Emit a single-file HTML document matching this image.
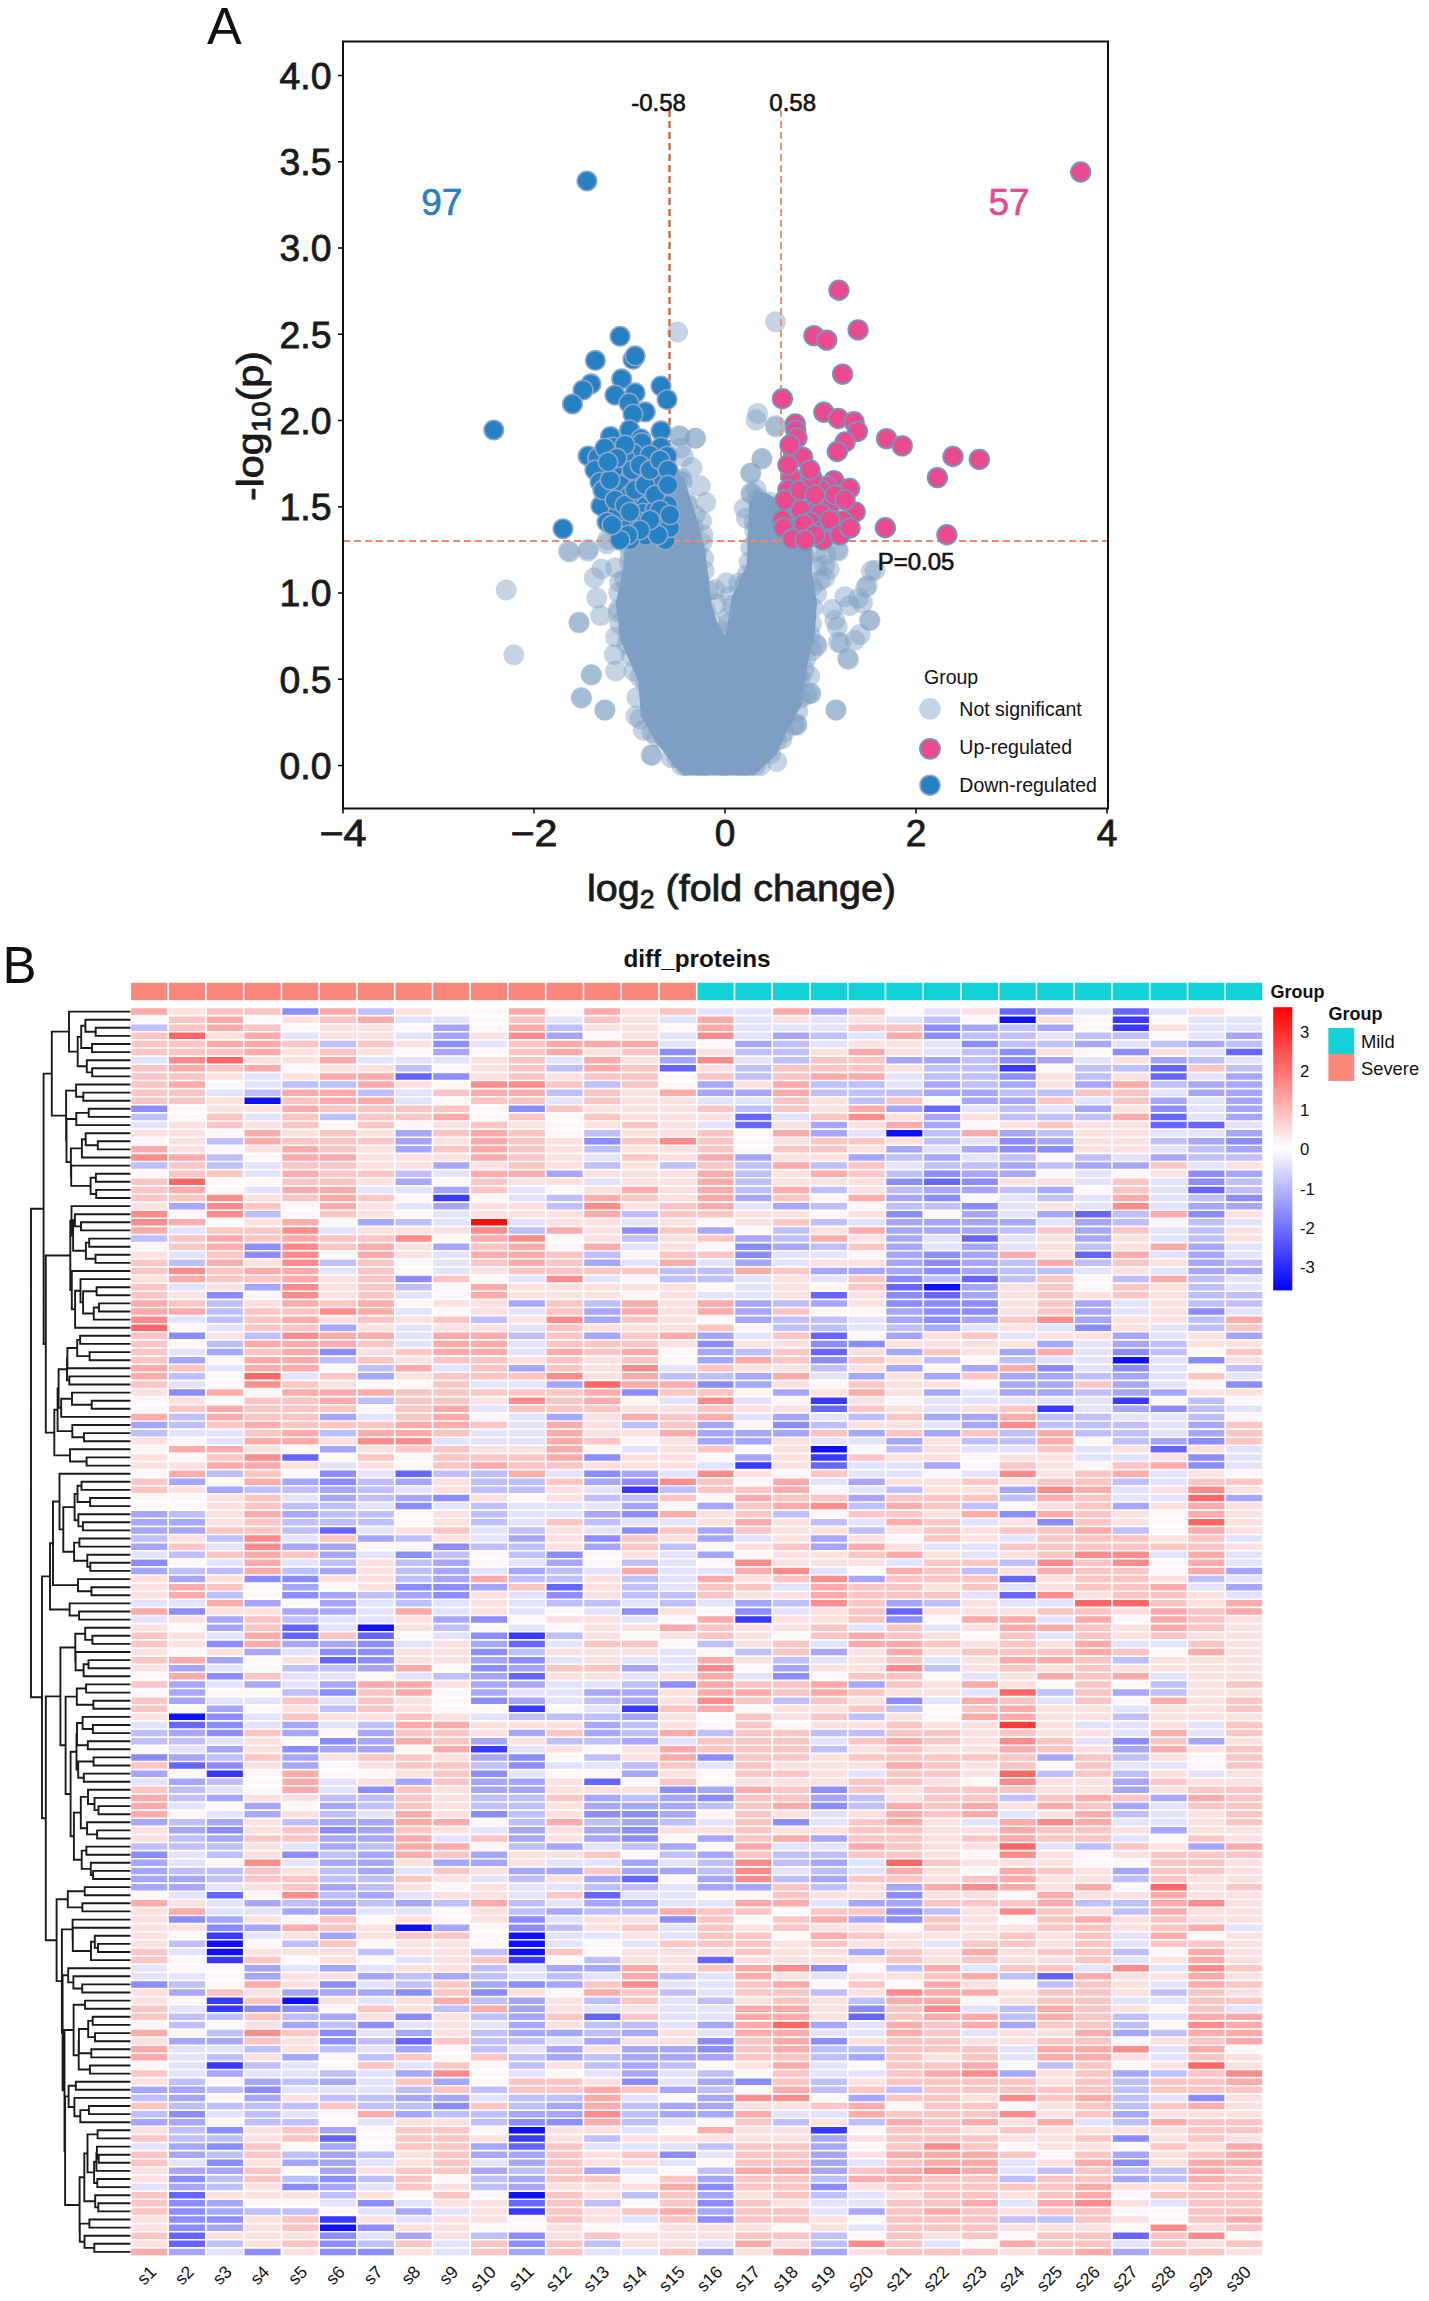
<!DOCTYPE html>
<html><head><meta charset="utf-8"><title>figure</title>
<style>html,body{margin:0;padding:0;background:#fff;}svg{display:block;}text{font-family:"Liberation Sans",sans-serif;}</style>
</head><body>
<svg width="1429" height="2301" viewBox="0 0 1429 2301">
<rect width="1429" height="2301" fill="#fff"/>
<g><polygon points="625.7,540.0 623.0,570.0 615.6,603.0 620.6,641.0 638.3,681.0 640.8,716.0 655.9,742.0 671.0,762.0 683.6,775.6 754.2,775.6 776.8,754.0 786.9,731.5 802.0,704.0 807.0,666.0 814.6,636.0 817.0,603.0 812.0,573.0 812.0,545.0 800.0,520.0 785.0,505.0 770.0,495.0 756.0,490.0 749.0,504.0 746.6,565.0 731.5,598.0 727.7,623.0 725.0,636.0 716.4,620.6 711.3,603.0 708.8,578.0 703.8,545.0 698.0,522.0 691.0,500.0 684.0,478.0 674.0,472.0 669.0,480.0 660.0,520.0 640.0,538.0" fill="#7f9fc3"/><circle cx="633.7" cy="545.3" r="10.5" fill="#7f9fc3" fill-opacity="0.45"/><circle cx="630.1" cy="555.2" r="10.5" fill="#7f9fc3" fill-opacity="0.45"/><circle cx="629.7" cy="562.4" r="10.5" fill="#7f9fc3" fill-opacity="0.45"/><circle cx="624.4" cy="579.5" r="10.5" fill="#7f9fc3" fill-opacity="0.45"/><circle cx="619.5" cy="581.8" r="10.5" fill="#7f9fc3" fill-opacity="0.45"/><circle cx="618.7" cy="592.6" r="10.5" fill="#7f9fc3" fill-opacity="0.45"/><circle cx="618.7" cy="608.9" r="10.5" fill="#7f9fc3" fill-opacity="0.45"/><circle cx="618.3" cy="612.4" r="10.5" fill="#7f9fc3" fill-opacity="0.45"/><circle cx="619.6" cy="623.6" r="10.5" fill="#7f9fc3" fill-opacity="0.45"/><circle cx="627.6" cy="634.9" r="10.5" fill="#7f9fc3" fill-opacity="0.45"/><circle cx="627.5" cy="644.2" r="10.5" fill="#7f9fc3" fill-opacity="0.45"/><circle cx="630.9" cy="656.3" r="10.5" fill="#7f9fc3" fill-opacity="0.45"/><circle cx="633.9" cy="671.0" r="10.5" fill="#7f9fc3" fill-opacity="0.45"/><circle cx="639.6" cy="676.9" r="10.5" fill="#7f9fc3" fill-opacity="0.45"/><circle cx="645.7" cy="683.9" r="10.5" fill="#7f9fc3" fill-opacity="0.45"/><circle cx="636.8" cy="697.5" r="10.5" fill="#7f9fc3" fill-opacity="0.45"/><circle cx="635.8" cy="715.9" r="10.5" fill="#7f9fc3" fill-opacity="0.45"/><circle cx="640.0" cy="718.9" r="10.5" fill="#7f9fc3" fill-opacity="0.45"/><circle cx="652.1" cy="732.4" r="10.5" fill="#7f9fc3" fill-opacity="0.45"/><circle cx="656.8" cy="737.2" r="10.5" fill="#7f9fc3" fill-opacity="0.45"/><circle cx="663.5" cy="737.6" r="10.5" fill="#7f9fc3" fill-opacity="0.45"/><circle cx="671.5" cy="757.8" r="10.5" fill="#7f9fc3" fill-opacity="0.45"/><circle cx="677.0" cy="757.7" r="10.5" fill="#7f9fc3" fill-opacity="0.45"/><circle cx="681.8" cy="765.5" r="10.5" fill="#7f9fc3" fill-opacity="0.45"/><circle cx="685.5" cy="765.5" r="10.5" fill="#7f9fc3" fill-opacity="0.45"/><circle cx="700.2" cy="765.5" r="10.5" fill="#7f9fc3" fill-opacity="0.45"/><circle cx="705.9" cy="765.5" r="10.5" fill="#7f9fc3" fill-opacity="0.45"/><circle cx="722.0" cy="765.5" r="10.5" fill="#7f9fc3" fill-opacity="0.45"/><circle cx="726.1" cy="765.5" r="10.5" fill="#7f9fc3" fill-opacity="0.45"/><circle cx="740.5" cy="765.5" r="10.5" fill="#7f9fc3" fill-opacity="0.45"/><circle cx="746.3" cy="765.5" r="10.5" fill="#7f9fc3" fill-opacity="0.45"/><circle cx="755.6" cy="765.5" r="10.5" fill="#7f9fc3" fill-opacity="0.45"/><circle cx="760.4" cy="765.5" r="10.5" fill="#7f9fc3" fill-opacity="0.45"/><circle cx="770.6" cy="753.5" r="10.5" fill="#7f9fc3" fill-opacity="0.45"/><circle cx="776.5" cy="740.9" r="10.5" fill="#7f9fc3" fill-opacity="0.45"/><circle cx="784.2" cy="732.1" r="10.5" fill="#7f9fc3" fill-opacity="0.45"/><circle cx="794.5" cy="724.9" r="10.5" fill="#7f9fc3" fill-opacity="0.45"/><circle cx="785.4" cy="716.5" r="10.5" fill="#7f9fc3" fill-opacity="0.45"/><circle cx="797.7" cy="711.2" r="10.5" fill="#7f9fc3" fill-opacity="0.45"/><circle cx="800.9" cy="698.0" r="10.5" fill="#7f9fc3" fill-opacity="0.45"/><circle cx="806.8" cy="694.6" r="10.5" fill="#7f9fc3" fill-opacity="0.45"/><circle cx="797.9" cy="677.3" r="10.5" fill="#7f9fc3" fill-opacity="0.45"/><circle cx="804.1" cy="669.5" r="10.5" fill="#7f9fc3" fill-opacity="0.45"/><circle cx="806.1" cy="658.1" r="10.5" fill="#7f9fc3" fill-opacity="0.45"/><circle cx="812.2" cy="650.7" r="10.5" fill="#7f9fc3" fill-opacity="0.45"/><circle cx="816.4" cy="644.1" r="10.5" fill="#7f9fc3" fill-opacity="0.45"/><circle cx="810.1" cy="635.5" r="10.5" fill="#7f9fc3" fill-opacity="0.45"/><circle cx="811.5" cy="624.0" r="10.5" fill="#7f9fc3" fill-opacity="0.45"/><circle cx="812.8" cy="607.4" r="10.5" fill="#7f9fc3" fill-opacity="0.45"/><circle cx="816.6" cy="593.9" r="10.5" fill="#7f9fc3" fill-opacity="0.45"/><circle cx="812.1" cy="586.4" r="10.5" fill="#7f9fc3" fill-opacity="0.45"/><circle cx="805.4" cy="584.0" r="10.5" fill="#7f9fc3" fill-opacity="0.45"/><circle cx="816.9" cy="566.5" r="10.5" fill="#7f9fc3" fill-opacity="0.45"/><circle cx="805.2" cy="557.7" r="10.5" fill="#7f9fc3" fill-opacity="0.45"/><circle cx="816.5" cy="551.4" r="10.5" fill="#7f9fc3" fill-opacity="0.45"/><circle cx="802.4" cy="544.0" r="10.5" fill="#7f9fc3" fill-opacity="0.45"/><circle cx="798.4" cy="533.7" r="10.5" fill="#7f9fc3" fill-opacity="0.45"/><circle cx="794.5" cy="523.5" r="10.5" fill="#7f9fc3" fill-opacity="0.45"/><circle cx="795.0" cy="511.5" r="10.5" fill="#7f9fc3" fill-opacity="0.45"/><circle cx="787.7" cy="505.5" r="10.5" fill="#7f9fc3" fill-opacity="0.45"/><circle cx="777.2" cy="506.6" r="10.5" fill="#7f9fc3" fill-opacity="0.45"/><circle cx="769.5" cy="502.0" r="10.5" fill="#7f9fc3" fill-opacity="0.45"/><circle cx="756.3" cy="489.4" r="10.5" fill="#7f9fc3" fill-opacity="0.45"/><circle cx="758.3" cy="498.0" r="10.5" fill="#7f9fc3" fill-opacity="0.45"/><circle cx="744.3" cy="508.3" r="10.5" fill="#7f9fc3" fill-opacity="0.45"/><circle cx="754.1" cy="522.0" r="10.5" fill="#7f9fc3" fill-opacity="0.45"/><circle cx="754.6" cy="529.5" r="10.5" fill="#7f9fc3" fill-opacity="0.45"/><circle cx="756.0" cy="539.9" r="10.5" fill="#7f9fc3" fill-opacity="0.45"/><circle cx="750.7" cy="547.4" r="10.5" fill="#7f9fc3" fill-opacity="0.45"/><circle cx="749.1" cy="561.8" r="10.5" fill="#7f9fc3" fill-opacity="0.45"/><circle cx="747.3" cy="574.4" r="10.5" fill="#7f9fc3" fill-opacity="0.45"/><circle cx="745.2" cy="583.2" r="10.5" fill="#7f9fc3" fill-opacity="0.45"/><circle cx="745.1" cy="586.2" r="10.5" fill="#7f9fc3" fill-opacity="0.45"/><circle cx="729.4" cy="596.2" r="10.5" fill="#7f9fc3" fill-opacity="0.45"/><circle cx="732.5" cy="605.6" r="10.5" fill="#7f9fc3" fill-opacity="0.45"/><circle cx="728.7" cy="616.7" r="10.5" fill="#7f9fc3" fill-opacity="0.45"/><circle cx="722.5" cy="631.6" r="10.5" fill="#7f9fc3" fill-opacity="0.45"/><circle cx="720.8" cy="635.0" r="10.5" fill="#7f9fc3" fill-opacity="0.45"/><circle cx="710.1" cy="620.4" r="10.5" fill="#7f9fc3" fill-opacity="0.45"/><circle cx="705.2" cy="609.6" r="10.5" fill="#7f9fc3" fill-opacity="0.45"/><circle cx="708.5" cy="590.9" r="10.5" fill="#7f9fc3" fill-opacity="0.45"/><circle cx="714.7" cy="589.6" r="10.5" fill="#7f9fc3" fill-opacity="0.45"/><circle cx="704.2" cy="570.7" r="10.5" fill="#7f9fc3" fill-opacity="0.45"/><circle cx="703.8" cy="558.6" r="10.5" fill="#7f9fc3" fill-opacity="0.45"/><circle cx="697.2" cy="552.1" r="10.5" fill="#7f9fc3" fill-opacity="0.45"/><circle cx="701.8" cy="542.6" r="10.5" fill="#7f9fc3" fill-opacity="0.45"/><circle cx="693.2" cy="527.7" r="10.5" fill="#7f9fc3" fill-opacity="0.45"/><circle cx="695.0" cy="515.0" r="10.5" fill="#7f9fc3" fill-opacity="0.45"/><circle cx="687.5" cy="504.9" r="10.5" fill="#7f9fc3" fill-opacity="0.45"/><circle cx="685.8" cy="499.5" r="10.5" fill="#7f9fc3" fill-opacity="0.45"/><circle cx="682.0" cy="482.1" r="10.5" fill="#7f9fc3" fill-opacity="0.45"/><circle cx="677.9" cy="480.4" r="10.5" fill="#7f9fc3" fill-opacity="0.45"/><circle cx="674.4" cy="479.1" r="10.5" fill="#7f9fc3" fill-opacity="0.45"/><circle cx="662.9" cy="486.9" r="10.5" fill="#7f9fc3" fill-opacity="0.45"/><circle cx="666.6" cy="499.8" r="10.5" fill="#7f9fc3" fill-opacity="0.45"/><circle cx="671.6" cy="506.4" r="10.5" fill="#7f9fc3" fill-opacity="0.45"/><circle cx="669.2" cy="515.5" r="10.5" fill="#7f9fc3" fill-opacity="0.45"/><circle cx="650.5" cy="525.5" r="10.5" fill="#7f9fc3" fill-opacity="0.45"/><circle cx="648.0" cy="539.9" r="10.5" fill="#7f9fc3" fill-opacity="0.45"/><circle cx="629.2" cy="546.3" r="10.5" fill="#7f9fc3" fill-opacity="0.45"/><circle cx="677.6" cy="332.0" r="10.5" fill="#7f9fc3" fill-opacity="0.45"/><circle cx="775.5" cy="321.8" r="10.5" fill="#7f9fc3" fill-opacity="0.45"/><circle cx="757.7" cy="413.5" r="10.5" fill="#7f9fc3" fill-opacity="0.45"/><circle cx="775.5" cy="425.5" r="10.5" fill="#7f9fc3" fill-opacity="0.45"/><circle cx="694.7" cy="438.3" r="10.5" fill="#7f9fc3" fill-opacity="0.45"/><circle cx="680.0" cy="436.5" r="10.5" fill="#7f9fc3" fill-opacity="0.45"/><circle cx="762.0" cy="458.3" r="10.5" fill="#7f9fc3" fill-opacity="0.45"/><circle cx="751.0" cy="472.9" r="10.5" fill="#7f9fc3" fill-opacity="0.45"/><circle cx="751.0" cy="492.9" r="10.5" fill="#7f9fc3" fill-opacity="0.45"/><circle cx="506.2" cy="590.0" r="10.5" fill="#7f9fc3" fill-opacity="0.45"/><circle cx="513.8" cy="654.8" r="10.5" fill="#7f9fc3" fill-opacity="0.45"/><circle cx="568.4" cy="551.0" r="10.5" fill="#7f9fc3" fill-opacity="0.45"/><circle cx="588.4" cy="549.3" r="10.5" fill="#7f9fc3" fill-opacity="0.45"/><circle cx="607.4" cy="540.0" r="10.5" fill="#7f9fc3" fill-opacity="0.45"/><circle cx="579.0" cy="622.0" r="10.5" fill="#7f9fc3" fill-opacity="0.45"/><circle cx="591.0" cy="674.8" r="10.5" fill="#7f9fc3" fill-opacity="0.45"/><circle cx="581.2" cy="697.4" r="10.5" fill="#7f9fc3" fill-opacity="0.45"/><circle cx="604.8" cy="710.0" r="10.5" fill="#7f9fc3" fill-opacity="0.45"/><circle cx="835.9" cy="710.0" r="10.5" fill="#7f9fc3" fill-opacity="0.45"/><circle cx="871.2" cy="571.1" r="10.5" fill="#7f9fc3" fill-opacity="0.45"/><circle cx="865.7" cy="587.5" r="10.5" fill="#7f9fc3" fill-opacity="0.45"/><circle cx="858.5" cy="598.4" r="10.5" fill="#7f9fc3" fill-opacity="0.45"/><circle cx="869.4" cy="620.2" r="10.5" fill="#7f9fc3" fill-opacity="0.45"/><circle cx="849.4" cy="605.7" r="10.5" fill="#7f9fc3" fill-opacity="0.45"/><circle cx="854.8" cy="640.2" r="10.5" fill="#7f9fc3" fill-opacity="0.45"/><circle cx="847.5" cy="658.4" r="10.5" fill="#7f9fc3" fill-opacity="0.45"/><circle cx="838.4" cy="642.0" r="10.5" fill="#7f9fc3" fill-opacity="0.45"/><circle cx="834.8" cy="620.2" r="10.5" fill="#7f9fc3" fill-opacity="0.45"/><circle cx="829.3" cy="569.3" r="10.5" fill="#7f9fc3" fill-opacity="0.45"/><circle cx="820.2" cy="580.2" r="10.5" fill="#7f9fc3" fill-opacity="0.45"/><circle cx="838.4" cy="551.0" r="10.5" fill="#7f9fc3" fill-opacity="0.45"/><circle cx="825.7" cy="554.7" r="10.5" fill="#7f9fc3" fill-opacity="0.45"/><circle cx="651.0" cy="754.9" r="10.5" fill="#7f9fc3" fill-opacity="0.45"/><circle cx="796.6" cy="723.9" r="10.5" fill="#7f9fc3" fill-opacity="0.45"/><circle cx="800.2" cy="678.5" r="10.5" fill="#7f9fc3" fill-opacity="0.45"/><circle cx="810.4" cy="693.0" r="10.5" fill="#7f9fc3" fill-opacity="0.45"/><circle cx="569.7" cy="552.0" r="10.5" fill="#7f9fc3" fill-opacity="0.45"/><circle cx="587.9" cy="551.3" r="10.5" fill="#7f9fc3" fill-opacity="0.45"/><circle cx="606.8" cy="543.8" r="10.5" fill="#7f9fc3" fill-opacity="0.45"/><circle cx="594.2" cy="577.8" r="10.5" fill="#7f9fc3" fill-opacity="0.45"/><circle cx="601.7" cy="569.0" r="10.5" fill="#7f9fc3" fill-opacity="0.45"/><circle cx="615.6" cy="567.7" r="10.5" fill="#7f9fc3" fill-opacity="0.45"/><circle cx="596.7" cy="598.0" r="10.5" fill="#7f9fc3" fill-opacity="0.45"/><circle cx="600.5" cy="615.6" r="10.5" fill="#7f9fc3" fill-opacity="0.45"/><circle cx="579.0" cy="623.1" r="10.5" fill="#7f9fc3" fill-opacity="0.45"/><circle cx="615.6" cy="637.0" r="10.5" fill="#7f9fc3" fill-opacity="0.45"/><circle cx="614.3" cy="654.6" r="10.5" fill="#7f9fc3" fill-opacity="0.45"/><circle cx="615.6" cy="671.0" r="10.5" fill="#7f9fc3" fill-opacity="0.45"/><circle cx="591.7" cy="674.8" r="10.5" fill="#7f9fc3" fill-opacity="0.45"/><circle cx="581.6" cy="698.2" r="10.5" fill="#7f9fc3" fill-opacity="0.45"/><circle cx="605.0" cy="710.0" r="10.5" fill="#7f9fc3" fill-opacity="0.45"/><circle cx="643.3" cy="730.2" r="10.5" fill="#7f9fc3" fill-opacity="0.45"/><circle cx="652.1" cy="755.4" r="10.5" fill="#7f9fc3" fill-opacity="0.45"/><circle cx="726.4" cy="582.8" r="10.5" fill="#7f9fc3" fill-opacity="0.45"/><circle cx="739.0" cy="582.8" r="10.5" fill="#7f9fc3" fill-opacity="0.45"/><circle cx="716.4" cy="604.0" r="10.5" fill="#7f9fc3" fill-opacity="0.45"/><circle cx="729.0" cy="623.0" r="10.5" fill="#7f9fc3" fill-opacity="0.45"/><circle cx="824.7" cy="565.2" r="10.5" fill="#7f9fc3" fill-opacity="0.45"/><circle cx="837.3" cy="550.0" r="10.5" fill="#7f9fc3" fill-opacity="0.45"/><circle cx="824.7" cy="577.8" r="10.5" fill="#7f9fc3" fill-opacity="0.45"/><circle cx="844.9" cy="596.7" r="10.5" fill="#7f9fc3" fill-opacity="0.45"/><circle cx="862.5" cy="603.0" r="10.5" fill="#7f9fc3" fill-opacity="0.45"/><circle cx="867.5" cy="585.4" r="10.5" fill="#7f9fc3" fill-opacity="0.45"/><circle cx="875.1" cy="570.2" r="10.5" fill="#7f9fc3" fill-opacity="0.45"/><circle cx="870.0" cy="620.6" r="10.5" fill="#7f9fc3" fill-opacity="0.45"/><circle cx="860.0" cy="634.5" r="10.5" fill="#7f9fc3" fill-opacity="0.45"/><circle cx="837.3" cy="627.0" r="10.5" fill="#7f9fc3" fill-opacity="0.45"/><circle cx="841.0" cy="643.3" r="10.5" fill="#7f9fc3" fill-opacity="0.45"/><circle cx="848.6" cy="659.7" r="10.5" fill="#7f9fc3" fill-opacity="0.45"/><circle cx="832.3" cy="609.3" r="10.5" fill="#7f9fc3" fill-opacity="0.45"/><circle cx="836.0" cy="710.0" r="10.5" fill="#7f9fc3" fill-opacity="0.45"/><circle cx="810.8" cy="693.7" r="10.5" fill="#7f9fc3" fill-opacity="0.45"/><circle cx="797.0" cy="725.2" r="10.5" fill="#7f9fc3" fill-opacity="0.45"/><circle cx="781.9" cy="739.0" r="10.5" fill="#7f9fc3" fill-opacity="0.45"/><circle cx="776.8" cy="761.7" r="10.5" fill="#7f9fc3" fill-opacity="0.45"/><circle cx="817.1" cy="645.8" r="10.5" fill="#7f9fc3" fill-opacity="0.45"/><circle cx="809.6" cy="676.0" r="10.5" fill="#7f9fc3" fill-opacity="0.45"/><circle cx="761.8" cy="459.2" r="10.5" fill="#7f9fc3" fill-opacity="0.45"/><circle cx="750.6" cy="473.2" r="10.5" fill="#7f9fc3" fill-opacity="0.45"/><circle cx="751.3" cy="494.2" r="10.5" fill="#7f9fc3" fill-opacity="0.45"/><circle cx="763.2" cy="506.8" r="10.5" fill="#7f9fc3" fill-opacity="0.45"/><circle cx="746.4" cy="518.0" r="10.5" fill="#7f9fc3" fill-opacity="0.45"/><circle cx="775.8" cy="427.0" r="10.5" fill="#7f9fc3" fill-opacity="0.45"/><circle cx="756.0" cy="420.0" r="10.5" fill="#7f9fc3" fill-opacity="0.45"/><circle cx="696.0" cy="438.2" r="10.5" fill="#7f9fc3" fill-opacity="0.45"/><circle cx="679.2" cy="435.4" r="10.5" fill="#7f9fc3" fill-opacity="0.45"/><circle cx="680.6" cy="448.0" r="10.5" fill="#7f9fc3" fill-opacity="0.45"/><circle cx="683.4" cy="456.4" r="10.5" fill="#7f9fc3" fill-opacity="0.45"/><circle cx="691.8" cy="467.6" r="10.5" fill="#7f9fc3" fill-opacity="0.45"/><circle cx="700.2" cy="485.8" r="10.5" fill="#7f9fc3" fill-opacity="0.45"/><circle cx="705.8" cy="502.6" r="10.5" fill="#7f9fc3" fill-opacity="0.45"/><circle cx="701.6" cy="520.8" r="10.5" fill="#7f9fc3" fill-opacity="0.45"/><circle cx="703.0" cy="534.8" r="10.5" fill="#7f9fc3" fill-opacity="0.45"/><circle cx="682.0" cy="478.8" r="10.5" fill="#7f9fc3" fill-opacity="0.45"/><line x1="343.0" y1="541.1" x2="1108.0" y2="541.1" stroke="#ee8866" stroke-width="2" stroke-dasharray="7,4"/><line x1="669.5" y1="110" x2="669.5" y2="541.1" stroke="#e0552f" stroke-width="2.2" stroke-dasharray="7,4"/><line x1="781" y1="110" x2="781" y2="541.1" stroke="#f09068" stroke-width="2" stroke-dasharray="7,4"/><circle cx="620.1" cy="336.3" r="9.8" fill="#2680c4" stroke="#8ea6c8" stroke-width="1.6"/><circle cx="595.4" cy="360.4" r="9.8" fill="#2680c4" stroke="#8ea6c8" stroke-width="1.6"/><circle cx="633.0" cy="359.3" r="9.8" fill="#2680c4" stroke="#8ea6c8" stroke-width="1.6"/><circle cx="635.2" cy="355.9" r="9.8" fill="#2680c4" stroke="#8ea6c8" stroke-width="1.6"/><circle cx="591.0" cy="383.9" r="9.8" fill="#2680c4" stroke="#8ea6c8" stroke-width="1.6"/><circle cx="583.1" cy="390.0" r="9.8" fill="#2680c4" stroke="#8ea6c8" stroke-width="1.6"/><circle cx="572.5" cy="404.0" r="9.8" fill="#2680c4" stroke="#8ea6c8" stroke-width="1.6"/><circle cx="621.7" cy="378.9" r="9.8" fill="#2680c4" stroke="#8ea6c8" stroke-width="1.6"/><circle cx="615.0" cy="395.1" r="9.8" fill="#2680c4" stroke="#8ea6c8" stroke-width="1.6"/><circle cx="635.2" cy="392.9" r="9.8" fill="#2680c4" stroke="#8ea6c8" stroke-width="1.6"/><circle cx="629.0" cy="403.0" r="9.8" fill="#2680c4" stroke="#8ea6c8" stroke-width="1.6"/><circle cx="645.3" cy="411.9" r="9.8" fill="#2680c4" stroke="#8ea6c8" stroke-width="1.6"/><circle cx="633.0" cy="414.1" r="9.8" fill="#2680c4" stroke="#8ea6c8" stroke-width="1.6"/><circle cx="661.0" cy="386.1" r="9.8" fill="#2680c4" stroke="#8ea6c8" stroke-width="1.6"/><circle cx="667.1" cy="399.6" r="9.8" fill="#2680c4" stroke="#8ea6c8" stroke-width="1.6"/><circle cx="629.6" cy="429.8" r="9.8" fill="#2680c4" stroke="#8ea6c8" stroke-width="1.6"/><circle cx="661.0" cy="430.9" r="9.8" fill="#2680c4" stroke="#8ea6c8" stroke-width="1.6"/><circle cx="610.5" cy="436.5" r="9.8" fill="#2680c4" stroke="#8ea6c8" stroke-width="1.6"/><circle cx="640.8" cy="438.8" r="9.8" fill="#2680c4" stroke="#8ea6c8" stroke-width="1.6"/><circle cx="612.8" cy="447.0" r="9.8" fill="#2680c4" stroke="#8ea6c8" stroke-width="1.6"/><circle cx="641.9" cy="442.6" r="9.8" fill="#2680c4" stroke="#8ea6c8" stroke-width="1.6"/><circle cx="633.0" cy="453.2" r="9.8" fill="#2680c4" stroke="#8ea6c8" stroke-width="1.6"/><circle cx="661.0" cy="447.0" r="9.8" fill="#2680c4" stroke="#8ea6c8" stroke-width="1.6"/><circle cx="667.1" cy="456.0" r="9.8" fill="#2680c4" stroke="#8ea6c8" stroke-width="1.6"/><circle cx="588.2" cy="456.0" r="9.8" fill="#2680c4" stroke="#8ea6c8" stroke-width="1.6"/><circle cx="597.7" cy="457.7" r="9.8" fill="#2680c4" stroke="#8ea6c8" stroke-width="1.6"/><circle cx="613.9" cy="468.3" r="9.8" fill="#2680c4" stroke="#8ea6c8" stroke-width="1.6"/><circle cx="620.6" cy="466.6" r="9.8" fill="#2680c4" stroke="#8ea6c8" stroke-width="1.6"/><circle cx="655.3" cy="466.0" r="9.8" fill="#2680c4" stroke="#8ea6c8" stroke-width="1.6"/><circle cx="663.2" cy="472.8" r="9.8" fill="#2680c4" stroke="#8ea6c8" stroke-width="1.6"/><circle cx="628.5" cy="480.6" r="9.8" fill="#2680c4" stroke="#8ea6c8" stroke-width="1.6"/><circle cx="648.6" cy="478.4" r="9.8" fill="#2680c4" stroke="#8ea6c8" stroke-width="1.6"/><circle cx="620.6" cy="485.1" r="9.8" fill="#2680c4" stroke="#8ea6c8" stroke-width="1.6"/><circle cx="605.0" cy="496.3" r="9.8" fill="#2680c4" stroke="#8ea6c8" stroke-width="1.6"/><circle cx="611.7" cy="504.7" r="9.8" fill="#2680c4" stroke="#8ea6c8" stroke-width="1.6"/><circle cx="601.0" cy="505.8" r="9.8" fill="#2680c4" stroke="#8ea6c8" stroke-width="1.6"/><circle cx="640.8" cy="497.4" r="9.8" fill="#2680c4" stroke="#8ea6c8" stroke-width="1.6"/><circle cx="642.5" cy="503.0" r="9.8" fill="#2680c4" stroke="#8ea6c8" stroke-width="1.6"/><circle cx="662.0" cy="497.4" r="9.8" fill="#2680c4" stroke="#8ea6c8" stroke-width="1.6"/><circle cx="667.7" cy="505.3" r="9.8" fill="#2680c4" stroke="#8ea6c8" stroke-width="1.6"/><circle cx="643.0" cy="513.1" r="9.8" fill="#2680c4" stroke="#8ea6c8" stroke-width="1.6"/><circle cx="622.9" cy="519.8" r="9.8" fill="#2680c4" stroke="#8ea6c8" stroke-width="1.6"/><circle cx="626.2" cy="526.5" r="9.8" fill="#2680c4" stroke="#8ea6c8" stroke-width="1.6"/><circle cx="636.3" cy="533.3" r="9.8" fill="#2680c4" stroke="#8ea6c8" stroke-width="1.6"/><circle cx="653.1" cy="531.6" r="9.8" fill="#2680c4" stroke="#8ea6c8" stroke-width="1.6"/><circle cx="665.4" cy="521.0" r="9.8" fill="#2680c4" stroke="#8ea6c8" stroke-width="1.6"/><circle cx="645.3" cy="535.5" r="9.8" fill="#2680c4" stroke="#8ea6c8" stroke-width="1.6"/><circle cx="665.4" cy="540.0" r="9.8" fill="#2680c4" stroke="#8ea6c8" stroke-width="1.6"/><circle cx="563.0" cy="528.8" r="9.8" fill="#2680c4" stroke="#8ea6c8" stroke-width="1.6"/><circle cx="669.9" cy="527.7" r="9.8" fill="#2680c4" stroke="#8ea6c8" stroke-width="1.6"/><circle cx="587.0" cy="181.0" r="9.8" fill="#2680c4" stroke="#8ea6c8" stroke-width="1.6"/><circle cx="493.8" cy="430.0" r="9.8" fill="#2680c4" stroke="#8ea6c8" stroke-width="1.6"/><circle cx="650.0" cy="490.0" r="9.8" fill="#2680c4" stroke="#8ea6c8" stroke-width="1.6"/><circle cx="655.0" cy="510.0" r="9.8" fill="#2680c4" stroke="#8ea6c8" stroke-width="1.6"/><circle cx="630.0" cy="495.0" r="9.8" fill="#2680c4" stroke="#8ea6c8" stroke-width="1.6"/><circle cx="618.0" cy="512.0" r="9.8" fill="#2680c4" stroke="#8ea6c8" stroke-width="1.6"/><circle cx="650.0" cy="455.0" r="9.8" fill="#2680c4" stroke="#8ea6c8" stroke-width="1.6"/><circle cx="625.0" cy="458.0" r="9.8" fill="#2680c4" stroke="#8ea6c8" stroke-width="1.6"/><circle cx="607.0" cy="522.0" r="9.8" fill="#2680c4" stroke="#8ea6c8" stroke-width="1.6"/><circle cx="655.0" cy="483.0" r="9.8" fill="#2680c4" stroke="#8ea6c8" stroke-width="1.6"/><circle cx="632.0" cy="470.0" r="9.8" fill="#2680c4" stroke="#8ea6c8" stroke-width="1.6"/><circle cx="640.0" cy="522.0" r="9.8" fill="#2680c4" stroke="#8ea6c8" stroke-width="1.6"/><circle cx="658.0" cy="535.0" r="9.8" fill="#2680c4" stroke="#8ea6c8" stroke-width="1.6"/><circle cx="630.0" cy="540.0" r="9.8" fill="#2680c4" stroke="#8ea6c8" stroke-width="1.6"/><circle cx="595.0" cy="470.0" r="9.8" fill="#2680c4" stroke="#8ea6c8" stroke-width="1.6"/><circle cx="600.0" cy="482.0" r="9.8" fill="#2680c4" stroke="#8ea6c8" stroke-width="1.6"/><circle cx="603.0" cy="490.0" r="9.8" fill="#2680c4" stroke="#8ea6c8" stroke-width="1.6"/><circle cx="610.0" cy="480.0" r="9.8" fill="#2680c4" stroke="#8ea6c8" stroke-width="1.6"/><circle cx="615.0" cy="500.0" r="9.8" fill="#2680c4" stroke="#8ea6c8" stroke-width="1.6"/><circle cx="625.0" cy="505.0" r="9.8" fill="#2680c4" stroke="#8ea6c8" stroke-width="1.6"/><circle cx="630.0" cy="512.0" r="9.8" fill="#2680c4" stroke="#8ea6c8" stroke-width="1.6"/><circle cx="635.0" cy="490.0" r="9.8" fill="#2680c4" stroke="#8ea6c8" stroke-width="1.6"/><circle cx="645.0" cy="485.0" r="9.8" fill="#2680c4" stroke="#8ea6c8" stroke-width="1.6"/><circle cx="655.0" cy="495.0" r="9.8" fill="#2680c4" stroke="#8ea6c8" stroke-width="1.6"/><circle cx="660.0" cy="510.0" r="9.8" fill="#2680c4" stroke="#8ea6c8" stroke-width="1.6"/><circle cx="650.0" cy="520.0" r="9.8" fill="#2680c4" stroke="#8ea6c8" stroke-width="1.6"/><circle cx="640.0" cy="530.0" r="9.8" fill="#2680c4" stroke="#8ea6c8" stroke-width="1.6"/><circle cx="628.0" cy="535.0" r="9.8" fill="#2680c4" stroke="#8ea6c8" stroke-width="1.6"/><circle cx="620.0" cy="540.0" r="9.8" fill="#2680c4" stroke="#8ea6c8" stroke-width="1.6"/><circle cx="612.0" cy="525.0" r="9.8" fill="#2680c4" stroke="#8ea6c8" stroke-width="1.6"/><circle cx="640.0" cy="465.0" r="9.8" fill="#2680c4" stroke="#8ea6c8" stroke-width="1.6"/><circle cx="650.0" cy="470.0" r="9.8" fill="#2680c4" stroke="#8ea6c8" stroke-width="1.6"/><circle cx="625.0" cy="445.0" r="9.8" fill="#2680c4" stroke="#8ea6c8" stroke-width="1.6"/><circle cx="605.0" cy="448.0" r="9.8" fill="#2680c4" stroke="#8ea6c8" stroke-width="1.6"/><circle cx="617.0" cy="458.0" r="9.8" fill="#2680c4" stroke="#8ea6c8" stroke-width="1.6"/><circle cx="660.0" cy="460.0" r="9.8" fill="#2680c4" stroke="#8ea6c8" stroke-width="1.6"/><circle cx="668.0" cy="470.0" r="9.8" fill="#2680c4" stroke="#8ea6c8" stroke-width="1.6"/><circle cx="668.0" cy="485.0" r="9.8" fill="#2680c4" stroke="#8ea6c8" stroke-width="1.6"/><circle cx="670.0" cy="515.0" r="9.8" fill="#2680c4" stroke="#8ea6c8" stroke-width="1.6"/><circle cx="608.0" cy="462.0" r="9.8" fill="#2680c4" stroke="#8ea6c8" stroke-width="1.6"/><circle cx="1080.7" cy="172.0" r="9.8" fill="#ec4a8e" stroke="#7398bd" stroke-width="1.8"/><circle cx="838.9" cy="290.2" r="9.8" fill="#ec4a8e" stroke="#7398bd" stroke-width="1.8"/><circle cx="813.9" cy="335.6" r="9.8" fill="#ec4a8e" stroke="#7398bd" stroke-width="1.8"/><circle cx="826.8" cy="340.1" r="9.8" fill="#ec4a8e" stroke="#7398bd" stroke-width="1.8"/><circle cx="858.1" cy="329.9" r="9.8" fill="#ec4a8e" stroke="#7398bd" stroke-width="1.8"/><circle cx="842.6" cy="374.1" r="9.8" fill="#ec4a8e" stroke="#7398bd" stroke-width="1.8"/><circle cx="782.4" cy="398.8" r="9.8" fill="#ec4a8e" stroke="#7398bd" stroke-width="1.8"/><circle cx="823.8" cy="412.3" r="9.8" fill="#ec4a8e" stroke="#7398bd" stroke-width="1.8"/><circle cx="838.4" cy="418.5" r="9.8" fill="#ec4a8e" stroke="#7398bd" stroke-width="1.8"/><circle cx="854.0" cy="421.8" r="9.8" fill="#ec4a8e" stroke="#7398bd" stroke-width="1.8"/><circle cx="857.4" cy="431.4" r="9.8" fill="#ec4a8e" stroke="#7398bd" stroke-width="1.8"/><circle cx="795.3" cy="424.0" r="9.8" fill="#ec4a8e" stroke="#7398bd" stroke-width="1.8"/><circle cx="795.8" cy="430.2" r="9.8" fill="#ec4a8e" stroke="#7398bd" stroke-width="1.8"/><circle cx="797.0" cy="438.0" r="9.8" fill="#ec4a8e" stroke="#7398bd" stroke-width="1.8"/><circle cx="845.1" cy="442.0" r="9.8" fill="#ec4a8e" stroke="#7398bd" stroke-width="1.8"/><circle cx="837.3" cy="451.5" r="9.8" fill="#ec4a8e" stroke="#7398bd" stroke-width="1.8"/><circle cx="886.5" cy="438.6" r="9.8" fill="#ec4a8e" stroke="#7398bd" stroke-width="1.8"/><circle cx="902.2" cy="445.9" r="9.8" fill="#ec4a8e" stroke="#7398bd" stroke-width="1.8"/><circle cx="793.6" cy="453.8" r="9.8" fill="#ec4a8e" stroke="#7398bd" stroke-width="1.8"/><circle cx="802.6" cy="457.1" r="9.8" fill="#ec4a8e" stroke="#7398bd" stroke-width="1.8"/><circle cx="791.4" cy="477.3" r="9.8" fill="#ec4a8e" stroke="#7398bd" stroke-width="1.8"/><circle cx="788.0" cy="489.6" r="9.8" fill="#ec4a8e" stroke="#7398bd" stroke-width="1.8"/><circle cx="833.9" cy="480.6" r="9.8" fill="#ec4a8e" stroke="#7398bd" stroke-width="1.8"/><circle cx="827.2" cy="486.2" r="9.8" fill="#ec4a8e" stroke="#7398bd" stroke-width="1.8"/><circle cx="820.5" cy="489.6" r="9.8" fill="#ec4a8e" stroke="#7398bd" stroke-width="1.8"/><circle cx="849.6" cy="488.5" r="9.8" fill="#ec4a8e" stroke="#7398bd" stroke-width="1.8"/><circle cx="818.2" cy="503.0" r="9.8" fill="#ec4a8e" stroke="#7398bd" stroke-width="1.8"/><circle cx="830.5" cy="504.1" r="9.8" fill="#ec4a8e" stroke="#7398bd" stroke-width="1.8"/><circle cx="800.3" cy="509.2" r="9.8" fill="#ec4a8e" stroke="#7398bd" stroke-width="1.8"/><circle cx="855.2" cy="512.0" r="9.8" fill="#ec4a8e" stroke="#7398bd" stroke-width="1.8"/><circle cx="820.5" cy="513.1" r="9.8" fill="#ec4a8e" stroke="#7398bd" stroke-width="1.8"/><circle cx="842.9" cy="521.0" r="9.8" fill="#ec4a8e" stroke="#7398bd" stroke-width="1.8"/><circle cx="810.4" cy="522.0" r="9.8" fill="#ec4a8e" stroke="#7398bd" stroke-width="1.8"/><circle cx="803.7" cy="524.3" r="9.8" fill="#ec4a8e" stroke="#7398bd" stroke-width="1.8"/><circle cx="782.4" cy="519.8" r="9.8" fill="#ec4a8e" stroke="#7398bd" stroke-width="1.8"/><circle cx="783.5" cy="527.7" r="9.8" fill="#ec4a8e" stroke="#7398bd" stroke-width="1.8"/><circle cx="822.7" cy="530.0" r="9.8" fill="#ec4a8e" stroke="#7398bd" stroke-width="1.8"/><circle cx="822.7" cy="540.0" r="9.8" fill="#ec4a8e" stroke="#7398bd" stroke-width="1.8"/><circle cx="792.5" cy="538.9" r="9.8" fill="#ec4a8e" stroke="#7398bd" stroke-width="1.8"/><circle cx="885.4" cy="527.7" r="9.8" fill="#ec4a8e" stroke="#7398bd" stroke-width="1.8"/><circle cx="953.0" cy="456.5" r="9.8" fill="#ec4a8e" stroke="#7398bd" stroke-width="1.8"/><circle cx="979.3" cy="459.4" r="9.8" fill="#ec4a8e" stroke="#7398bd" stroke-width="1.8"/><circle cx="937.4" cy="477.6" r="9.8" fill="#ec4a8e" stroke="#7398bd" stroke-width="1.8"/><circle cx="946.9" cy="534.7" r="9.8" fill="#ec4a8e" stroke="#7398bd" stroke-width="1.8"/><circle cx="790.0" cy="445.0" r="9.8" fill="#ec4a8e" stroke="#7398bd" stroke-width="1.8"/><circle cx="788.0" cy="465.0" r="9.8" fill="#ec4a8e" stroke="#7398bd" stroke-width="1.8"/><circle cx="785.0" cy="500.0" r="9.8" fill="#ec4a8e" stroke="#7398bd" stroke-width="1.8"/><circle cx="800.0" cy="490.0" r="9.8" fill="#ec4a8e" stroke="#7398bd" stroke-width="1.8"/><circle cx="812.0" cy="478.0" r="9.8" fill="#ec4a8e" stroke="#7398bd" stroke-width="1.8"/><circle cx="815.0" cy="495.0" r="9.8" fill="#ec4a8e" stroke="#7398bd" stroke-width="1.8"/><circle cx="835.0" cy="495.0" r="9.8" fill="#ec4a8e" stroke="#7398bd" stroke-width="1.8"/><circle cx="845.0" cy="500.0" r="9.8" fill="#ec4a8e" stroke="#7398bd" stroke-width="1.8"/><circle cx="830.0" cy="520.0" r="9.8" fill="#ec4a8e" stroke="#7398bd" stroke-width="1.8"/><circle cx="815.0" cy="535.0" r="9.8" fill="#ec4a8e" stroke="#7398bd" stroke-width="1.8"/><circle cx="805.0" cy="540.0" r="9.8" fill="#ec4a8e" stroke="#7398bd" stroke-width="1.8"/><circle cx="840.0" cy="535.0" r="9.8" fill="#ec4a8e" stroke="#7398bd" stroke-width="1.8"/><circle cx="850.0" cy="528.0" r="9.8" fill="#ec4a8e" stroke="#7398bd" stroke-width="1.8"/><circle cx="810.0" cy="470.0" r="9.8" fill="#ec4a8e" stroke="#7398bd" stroke-width="1.8"/></g>
<rect x="343.0" y="41.5" width="765.0" height="767.0" fill="none" stroke="#111" stroke-width="2"/>
<line x1="338.0" y1="765.5" x2="343.0" y2="765.5" stroke="#111" stroke-width="1.6"/>
<text x="331.5" y="778.8" font-size="37" text-anchor="end" textLength="52" lengthAdjust="spacingAndGlyphs" fill="#1a1a1a" stroke="#1a1a1a" stroke-width="0.8">0.0</text>
<line x1="338.0" y1="679.2" x2="343.0" y2="679.2" stroke="#111" stroke-width="1.6"/>
<text x="331.5" y="692.5" font-size="37" text-anchor="end" textLength="52" lengthAdjust="spacingAndGlyphs" fill="#1a1a1a" stroke="#1a1a1a" stroke-width="0.8">0.5</text>
<line x1="338.0" y1="593.0" x2="343.0" y2="593.0" stroke="#111" stroke-width="1.6"/>
<text x="331.5" y="606.3" font-size="37" text-anchor="end" textLength="52" lengthAdjust="spacingAndGlyphs" fill="#1a1a1a" stroke="#1a1a1a" stroke-width="0.8">1.0</text>
<line x1="338.0" y1="506.8" x2="343.0" y2="506.8" stroke="#111" stroke-width="1.6"/>
<text x="331.5" y="520.0" font-size="37" text-anchor="end" textLength="52" lengthAdjust="spacingAndGlyphs" fill="#1a1a1a" stroke="#1a1a1a" stroke-width="0.8">1.5</text>
<line x1="338.0" y1="420.5" x2="343.0" y2="420.5" stroke="#111" stroke-width="1.6"/>
<text x="331.5" y="433.8" font-size="37" text-anchor="end" textLength="52" lengthAdjust="spacingAndGlyphs" fill="#1a1a1a" stroke="#1a1a1a" stroke-width="0.8">2.0</text>
<line x1="338.0" y1="334.2" x2="343.0" y2="334.2" stroke="#111" stroke-width="1.6"/>
<text x="331.5" y="347.6" font-size="37" text-anchor="end" textLength="52" lengthAdjust="spacingAndGlyphs" fill="#1a1a1a" stroke="#1a1a1a" stroke-width="0.8">2.5</text>
<line x1="338.0" y1="248.0" x2="343.0" y2="248.0" stroke="#111" stroke-width="1.6"/>
<text x="331.5" y="261.3" font-size="37" text-anchor="end" textLength="52" lengthAdjust="spacingAndGlyphs" fill="#1a1a1a" stroke="#1a1a1a" stroke-width="0.8">3.0</text>
<line x1="338.0" y1="161.8" x2="343.0" y2="161.8" stroke="#111" stroke-width="1.6"/>
<text x="331.5" y="175.1" font-size="37" text-anchor="end" textLength="52" lengthAdjust="spacingAndGlyphs" fill="#1a1a1a" stroke="#1a1a1a" stroke-width="0.8">3.5</text>
<line x1="338.0" y1="75.5" x2="343.0" y2="75.5" stroke="#111" stroke-width="1.6"/>
<text x="331.5" y="88.8" font-size="37" text-anchor="end" textLength="52" lengthAdjust="spacingAndGlyphs" fill="#1a1a1a" stroke="#1a1a1a" stroke-width="0.8">4.0</text>
<line x1="343.0" y1="808.5" x2="343.0" y2="813.5" stroke="#111" stroke-width="1.6"/>
<text x="343.0" y="845.5" font-size="37" text-anchor="middle" textLength="47" lengthAdjust="spacingAndGlyphs" fill="#1a1a1a" stroke="#1a1a1a" stroke-width="0.8">−4</text>
<line x1="534.0" y1="808.5" x2="534.0" y2="813.5" stroke="#111" stroke-width="1.6"/>
<text x="534.0" y="845.5" font-size="37" text-anchor="middle" textLength="47" lengthAdjust="spacingAndGlyphs" fill="#1a1a1a" stroke="#1a1a1a" stroke-width="0.8">−2</text>
<line x1="725.0" y1="808.5" x2="725.0" y2="813.5" stroke="#111" stroke-width="1.6"/>
<text x="725.0" y="845.5" font-size="37" text-anchor="middle" fill="#1a1a1a" stroke="#1a1a1a" stroke-width="0.8">0</text>
<line x1="916.0" y1="808.5" x2="916.0" y2="813.5" stroke="#111" stroke-width="1.6"/>
<text x="916.0" y="845.5" font-size="37" text-anchor="middle" fill="#1a1a1a" stroke="#1a1a1a" stroke-width="0.8">2</text>
<line x1="1107.0" y1="808.5" x2="1107.0" y2="813.5" stroke="#111" stroke-width="1.6"/>
<text x="1107.0" y="845.5" font-size="37" text-anchor="middle" fill="#1a1a1a" stroke="#1a1a1a" stroke-width="0.8">4</text>
<text x="741.5" y="900.5" font-size="37" text-anchor="middle" textLength="309" lengthAdjust="spacingAndGlyphs" fill="#1a1a1a" stroke="#1a1a1a" stroke-width="0.8">log<tspan font-size="25" dy="7">2</tspan><tspan dy="-7"> (fold change)</tspan></text>
<text transform="translate(262.5,426) rotate(-90)" font-size="37" text-anchor="middle" textLength="150" lengthAdjust="spacingAndGlyphs" fill="#1a1a1a" stroke="#1a1a1a" stroke-width="0.8">-log<tspan font-size="25" dy="7">10</tspan><tspan dy="-7">(p)</tspan></text>
<text x="658.5" y="111" font-size="24" text-anchor="middle" fill="#111" stroke="#111" stroke-width="0.6">-0.58</text>
<text x="792.7" y="111" font-size="24" text-anchor="middle" fill="#111" stroke="#111" stroke-width="0.6">0.58</text>
<text x="916" y="570" font-size="24" text-anchor="middle" fill="#111" stroke="#111" stroke-width="0.6">P=0.05</text>
<text x="441.8" y="214.5" font-size="37" text-anchor="middle" fill="#2a7fc0" stroke="#2a7fc0" stroke-width="0.6">97</text>
<text x="1009" y="214.5" font-size="37" text-anchor="middle" fill="#e6488f" stroke="#e6488f" stroke-width="0.6">57</text>
<text x="924" y="683.6" font-size="19.5" fill="#111">Group</text>
<circle cx="930" cy="708.8" r="10.8" fill="#7f9fc3" fill-opacity="0.45"/>
<circle cx="930" cy="748.8" r="10" fill="#ec4a8e" stroke="#7398bd" stroke-width="1.8"/>
<circle cx="930" cy="785.2" r="10" fill="#2680c4" stroke="#8ea6c8" stroke-width="1.6"/>
<text x="959.3" y="715.5" font-size="19.5" fill="#111">Not significant</text>
<text x="959.3" y="754" font-size="19.5" fill="#111">Up-regulated</text>
<text x="959.3" y="792" font-size="19.5" fill="#111">Down-regulated</text>
<text x="207" y="43.5" font-size="52" fill="#111">A</text>
<text x="2.5" y="983" font-size="51" fill="#111">B</text>
<text x="697" y="967.4" font-size="24.3" font-weight="bold" text-anchor="middle" fill="#111">diff_proteins</text>
<rect x="131.20" y="982.8" width="36.15" height="17.4" fill="#f8877c"/>
<rect x="168.95" y="982.8" width="36.15" height="17.4" fill="#f8877c"/>
<rect x="206.71" y="982.8" width="36.15" height="17.4" fill="#f8877c"/>
<rect x="244.46" y="982.8" width="36.15" height="17.4" fill="#f8877c"/>
<rect x="282.21" y="982.8" width="36.15" height="17.4" fill="#f8877c"/>
<rect x="319.97" y="982.8" width="36.15" height="17.4" fill="#f8877c"/>
<rect x="357.72" y="982.8" width="36.15" height="17.4" fill="#f8877c"/>
<rect x="395.47" y="982.8" width="36.15" height="17.4" fill="#f8877c"/>
<rect x="433.23" y="982.8" width="36.15" height="17.4" fill="#f8877c"/>
<rect x="470.98" y="982.8" width="36.15" height="17.4" fill="#f8877c"/>
<rect x="508.73" y="982.8" width="36.15" height="17.4" fill="#f8877c"/>
<rect x="546.49" y="982.8" width="36.15" height="17.4" fill="#f8877c"/>
<rect x="584.24" y="982.8" width="36.15" height="17.4" fill="#f8877c"/>
<rect x="621.99" y="982.8" width="36.15" height="17.4" fill="#f8877c"/>
<rect x="659.75" y="982.8" width="36.15" height="17.4" fill="#f8877c"/>
<rect x="697.50" y="982.8" width="36.15" height="17.4" fill="#12d2d6"/>
<rect x="735.25" y="982.8" width="36.15" height="17.4" fill="#12d2d6"/>
<rect x="773.01" y="982.8" width="36.15" height="17.4" fill="#12d2d6"/>
<rect x="810.76" y="982.8" width="36.15" height="17.4" fill="#12d2d6"/>
<rect x="848.51" y="982.8" width="36.15" height="17.4" fill="#12d2d6"/>
<rect x="886.27" y="982.8" width="36.15" height="17.4" fill="#12d2d6"/>
<rect x="924.02" y="982.8" width="36.15" height="17.4" fill="#12d2d6"/>
<rect x="961.77" y="982.8" width="36.15" height="17.4" fill="#12d2d6"/>
<rect x="999.53" y="982.8" width="36.15" height="17.4" fill="#12d2d6"/>
<rect x="1037.28" y="982.8" width="36.15" height="17.4" fill="#12d2d6"/>
<rect x="1075.03" y="982.8" width="36.15" height="17.4" fill="#12d2d6"/>
<rect x="1112.79" y="982.8" width="36.15" height="17.4" fill="#12d2d6"/>
<rect x="1150.54" y="982.8" width="36.15" height="17.4" fill="#12d2d6"/>
<rect x="1188.29" y="982.8" width="36.15" height="17.4" fill="#12d2d6"/>
<rect x="1226.05" y="982.8" width="36.15" height="17.4" fill="#12d2d6"/>
<g><path fill="#ffabab" d="M131.2 1008.3h36.1v6.5h-36.1zM320.0 1008.3h36.1v6.5h-36.1zM508.8 1008.3h36.1v6.5h-36.1zM584.3 1008.3h36.1v6.5h-36.1zM773.1 1008.3h36.1v6.5h-36.1zM206.8 1016.4h36.1v6.5h-36.1zM357.8 1016.4h36.1v6.5h-36.1zM697.5 1016.4h36.1v6.5h-36.1zM206.8 1024.5h36.1v6.5h-36.1zM508.8 1024.5h36.1v6.5h-36.1zM697.5 1024.5h36.1v6.5h-36.1zM244.5 1032.6h36.1v6.5h-36.1zM886.3 1032.6h36.1v6.5h-36.1zM206.8 1040.7h36.1v6.5h-36.1zM244.5 1040.7h36.1v6.5h-36.1zM546.5 1040.7h36.1v6.5h-36.1zM584.3 1040.7h36.1v6.5h-36.1zM622.0 1040.7h36.1v6.5h-36.1zM244.5 1048.8h36.1v6.5h-36.1zM546.5 1048.8h36.1v6.5h-36.1zM848.6 1048.8h36.1v6.5h-36.1zM320.0 1056.9h36.1v6.5h-36.1zM584.3 1056.9h36.1v6.5h-36.1zM169.0 1065.0h36.1v6.5h-36.1zM244.5 1065.0h36.1v6.5h-36.1zM584.3 1065.0h36.1v6.5h-36.1zM320.0 1073.2h36.1v6.5h-36.1zM357.8 1073.2h36.1v6.5h-36.1zM810.8 1073.2h36.1v6.5h-36.1zM848.6 1073.2h36.1v6.5h-36.1zM169.0 1081.3h36.1v6.5h-36.1zM357.8 1081.3h36.1v6.5h-36.1zM773.1 1081.3h36.1v6.5h-36.1zM1112.8 1081.3h36.1v6.5h-36.1zM282.3 1089.4h36.1v6.5h-36.1zM320.0 1089.4h36.1v6.5h-36.1zM471.0 1089.4h36.1v6.5h-36.1zM508.8 1089.4h36.1v6.5h-36.1zM659.8 1089.4h36.1v6.5h-36.1zM773.1 1089.4h36.1v6.5h-36.1zM320.0 1097.5h36.1v6.5h-36.1zM357.8 1097.5h36.1v6.5h-36.1zM282.3 1105.6h36.1v6.5h-36.1zM848.6 1105.6h36.1v6.5h-36.1zM433.3 1113.7h36.1v6.5h-36.1zM1112.8 1113.7h36.1v6.5h-36.1zM886.3 1121.8h36.1v6.5h-36.1zM244.5 1129.9h36.1v6.5h-36.1zM471.0 1129.9h36.1v6.5h-36.1zM773.1 1129.9h36.1v6.5h-36.1zM961.8 1129.9h36.1v6.5h-36.1zM244.5 1138.0h36.1v6.5h-36.1zM471.0 1138.0h36.1v6.5h-36.1zM131.2 1146.1h36.1v6.5h-36.1zM282.3 1146.1h36.1v6.5h-36.1zM471.0 1146.1h36.1v6.5h-36.1zM169.0 1154.2h36.1v6.5h-36.1zM282.3 1154.2h36.1v6.5h-36.1zM320.0 1154.2h36.1v6.5h-36.1zM471.0 1154.2h36.1v6.5h-36.1zM697.5 1154.2h36.1v6.5h-36.1zM773.1 1162.3h36.1v6.5h-36.1zM282.3 1170.4h36.1v6.5h-36.1zM471.0 1170.4h36.1v6.5h-36.1zM508.8 1170.4h36.1v6.5h-36.1zM697.5 1170.4h36.1v6.5h-36.1zM810.8 1170.4h36.1v6.5h-36.1zM697.5 1178.5h36.1v6.5h-36.1zM169.0 1186.7h36.1v6.5h-36.1zM282.3 1186.7h36.1v6.5h-36.1zM320.0 1186.7h36.1v6.5h-36.1zM622.0 1186.7h36.1v6.5h-36.1zM697.5 1186.7h36.1v6.5h-36.1zM773.1 1186.7h36.1v6.5h-36.1zM320.0 1194.8h36.1v6.5h-36.1zM584.3 1194.8h36.1v6.5h-36.1zM697.5 1194.8h36.1v6.5h-36.1zM848.6 1194.8h36.1v6.5h-36.1zM1112.8 1194.8h36.1v6.5h-36.1zM320.0 1202.9h36.1v6.5h-36.1zM697.5 1202.9h36.1v6.5h-36.1zM584.3 1211.0h36.1v6.5h-36.1zM1150.6 1211.0h36.1v6.5h-36.1zM169.0 1219.1h36.1v6.5h-36.1zM282.3 1219.1h36.1v6.5h-36.1zM131.2 1227.2h36.1v6.5h-36.1zM546.5 1227.2h36.1v6.5h-36.1zM848.6 1227.2h36.1v6.5h-36.1zM206.8 1235.3h36.1v6.5h-36.1zM282.3 1235.3h36.1v6.5h-36.1zM471.0 1235.3h36.1v6.5h-36.1zM810.8 1235.3h36.1v6.5h-36.1zM206.8 1243.4h36.1v6.5h-36.1zM357.8 1243.4h36.1v6.5h-36.1zM508.8 1243.4h36.1v6.5h-36.1zM584.3 1243.4h36.1v6.5h-36.1zM1150.6 1243.4h36.1v6.5h-36.1zM357.8 1251.5h36.1v6.5h-36.1zM471.0 1251.5h36.1v6.5h-36.1zM508.8 1251.5h36.1v6.5h-36.1zM999.6 1251.5h36.1v6.5h-36.1zM1112.8 1251.5h36.1v6.5h-36.1zM206.8 1259.6h36.1v6.5h-36.1zM508.8 1259.6h36.1v6.5h-36.1zM659.8 1259.6h36.1v6.5h-36.1zM1037.3 1259.6h36.1v6.5h-36.1zM244.5 1267.7h36.1v6.5h-36.1zM282.3 1267.7h36.1v6.5h-36.1zM735.3 1267.7h36.1v6.5h-36.1zM169.0 1275.8h36.1v6.5h-36.1zM282.3 1275.8h36.1v6.5h-36.1zM1150.6 1275.8h36.1v6.5h-36.1zM471.0 1283.9h36.1v6.5h-36.1zM471.0 1292.0h36.1v6.5h-36.1zM131.2 1300.2h36.1v6.5h-36.1zM282.3 1300.2h36.1v6.5h-36.1zM357.8 1300.2h36.1v6.5h-36.1zM622.0 1300.2h36.1v6.5h-36.1zM697.5 1300.2h36.1v6.5h-36.1zM131.2 1308.3h36.1v6.5h-36.1zM169.0 1308.3h36.1v6.5h-36.1zM357.8 1308.3h36.1v6.5h-36.1zM622.0 1308.3h36.1v6.5h-36.1zM697.5 1308.3h36.1v6.5h-36.1zM282.3 1316.4h36.1v6.5h-36.1zM1226.1 1316.4h36.1v6.5h-36.1zM320.0 1332.6h36.1v6.5h-36.1zM357.8 1332.6h36.1v6.5h-36.1zM433.3 1332.6h36.1v6.5h-36.1zM471.0 1332.6h36.1v6.5h-36.1zM659.8 1332.6h36.1v6.5h-36.1zM244.5 1340.7h36.1v6.5h-36.1zM282.3 1340.7h36.1v6.5h-36.1zM320.0 1340.7h36.1v6.5h-36.1zM433.3 1340.7h36.1v6.5h-36.1zM471.0 1340.7h36.1v6.5h-36.1zM282.3 1348.8h36.1v6.5h-36.1zM433.3 1348.8h36.1v6.5h-36.1zM471.0 1348.8h36.1v6.5h-36.1zM546.5 1348.8h36.1v6.5h-36.1zM622.0 1348.8h36.1v6.5h-36.1zM1037.3 1348.8h36.1v6.5h-36.1zM244.5 1356.9h36.1v6.5h-36.1zM282.3 1356.9h36.1v6.5h-36.1zM735.3 1356.9h36.1v6.5h-36.1zM131.2 1365.0h36.1v6.5h-36.1zM244.5 1365.0h36.1v6.5h-36.1zM282.3 1365.0h36.1v6.5h-36.1zM395.5 1365.0h36.1v6.5h-36.1zM999.6 1365.0h36.1v6.5h-36.1zM131.2 1373.1h36.1v6.5h-36.1zM622.0 1373.1h36.1v6.5h-36.1zM773.1 1373.1h36.1v6.5h-36.1zM622.0 1381.2h36.1v6.5h-36.1zM659.8 1381.2h36.1v6.5h-36.1zM206.8 1389.3h36.1v6.5h-36.1zM282.3 1389.3h36.1v6.5h-36.1zM320.0 1389.3h36.1v6.5h-36.1zM357.8 1389.3h36.1v6.5h-36.1zM584.3 1389.3h36.1v6.5h-36.1zM848.6 1389.3h36.1v6.5h-36.1zM320.0 1397.4h36.1v6.5h-36.1zM584.3 1397.4h36.1v6.5h-36.1zM206.8 1405.5h36.1v6.5h-36.1zM433.3 1405.5h36.1v6.5h-36.1zM131.2 1413.7h36.1v6.5h-36.1zM206.8 1413.7h36.1v6.5h-36.1zM433.3 1413.7h36.1v6.5h-36.1zM622.0 1413.7h36.1v6.5h-36.1zM697.5 1413.7h36.1v6.5h-36.1zM999.6 1413.7h36.1v6.5h-36.1zM244.5 1421.8h36.1v6.5h-36.1zM395.5 1421.8h36.1v6.5h-36.1zM433.3 1421.8h36.1v6.5h-36.1zM546.5 1421.8h36.1v6.5h-36.1zM282.3 1429.9h36.1v6.5h-36.1zM357.8 1429.9h36.1v6.5h-36.1zM395.5 1429.9h36.1v6.5h-36.1zM546.5 1429.9h36.1v6.5h-36.1zM659.8 1429.9h36.1v6.5h-36.1zM1037.3 1429.9h36.1v6.5h-36.1zM244.5 1438.0h36.1v6.5h-36.1zM282.3 1438.0h36.1v6.5h-36.1zM546.5 1438.0h36.1v6.5h-36.1zM1037.3 1438.0h36.1v6.5h-36.1zM169.0 1446.1h36.1v6.5h-36.1zM206.8 1446.1h36.1v6.5h-36.1zM546.5 1446.1h36.1v6.5h-36.1zM546.5 1454.2h36.1v6.5h-36.1zM206.8 1462.3h36.1v6.5h-36.1zM244.5 1462.3h36.1v6.5h-36.1zM471.0 1462.3h36.1v6.5h-36.1zM1150.6 1462.3h36.1v6.5h-36.1zM169.0 1470.4h36.1v6.5h-36.1zM508.8 1470.4h36.1v6.5h-36.1zM1112.8 1470.4h36.1v6.5h-36.1zM244.5 1478.5h36.1v6.5h-36.1zM773.1 1478.5h36.1v6.5h-36.1zM773.1 1486.6h36.1v6.5h-36.1zM1075.1 1486.6h36.1v6.5h-36.1zM735.3 1494.7h36.1v6.5h-36.1zM1037.3 1494.7h36.1v6.5h-36.1zM773.1 1502.8h36.1v6.5h-36.1zM886.3 1502.8h36.1v6.5h-36.1zM1188.3 1502.8h36.1v6.5h-36.1zM244.5 1510.9h36.1v6.5h-36.1zM659.8 1510.9h36.1v6.5h-36.1zM961.8 1510.9h36.1v6.5h-36.1zM1037.3 1510.9h36.1v6.5h-36.1zM1188.3 1510.9h36.1v6.5h-36.1zM735.3 1519.0h36.1v6.5h-36.1zM886.3 1519.0h36.1v6.5h-36.1zM1075.1 1527.2h36.1v6.5h-36.1zM1188.3 1527.2h36.1v6.5h-36.1zM848.6 1543.4h36.1v6.5h-36.1zM244.5 1551.5h36.1v6.5h-36.1zM886.3 1551.5h36.1v6.5h-36.1zM1188.3 1551.5h36.1v6.5h-36.1zM244.5 1559.6h36.1v6.5h-36.1zM1188.3 1559.6h36.1v6.5h-36.1zM244.5 1567.7h36.1v6.5h-36.1zM622.0 1567.7h36.1v6.5h-36.1zM735.3 1567.7h36.1v6.5h-36.1zM886.3 1567.7h36.1v6.5h-36.1zM1037.3 1567.7h36.1v6.5h-36.1zM1188.3 1567.7h36.1v6.5h-36.1zM471.0 1575.8h36.1v6.5h-36.1zM697.5 1575.8h36.1v6.5h-36.1zM169.0 1583.9h36.1v6.5h-36.1zM810.8 1583.9h36.1v6.5h-36.1zM1150.6 1583.9h36.1v6.5h-36.1zM169.0 1592.0h36.1v6.5h-36.1zM810.8 1592.0h36.1v6.5h-36.1zM206.8 1600.1h36.1v6.5h-36.1zM1226.1 1600.1h36.1v6.5h-36.1zM131.2 1608.2h36.1v6.5h-36.1zM395.5 1608.2h36.1v6.5h-36.1zM1150.6 1608.2h36.1v6.5h-36.1zM1226.1 1608.2h36.1v6.5h-36.1zM697.5 1616.3h36.1v6.5h-36.1zM961.8 1616.3h36.1v6.5h-36.1zM999.6 1616.3h36.1v6.5h-36.1zM1075.1 1616.3h36.1v6.5h-36.1zM1150.6 1616.3h36.1v6.5h-36.1zM659.8 1624.4h36.1v6.5h-36.1zM999.6 1624.4h36.1v6.5h-36.1zM1037.3 1624.4h36.1v6.5h-36.1zM1150.6 1624.4h36.1v6.5h-36.1zM244.5 1632.5h36.1v6.5h-36.1zM848.6 1632.5h36.1v6.5h-36.1zM244.5 1640.7h36.1v6.5h-36.1zM848.6 1640.7h36.1v6.5h-36.1zM886.3 1640.7h36.1v6.5h-36.1zM1075.1 1640.7h36.1v6.5h-36.1zM886.3 1648.8h36.1v6.5h-36.1zM1075.1 1648.8h36.1v6.5h-36.1zM1188.3 1648.8h36.1v6.5h-36.1zM169.0 1656.9h36.1v6.5h-36.1zM697.5 1656.9h36.1v6.5h-36.1zM999.6 1656.9h36.1v6.5h-36.1zM1037.3 1656.9h36.1v6.5h-36.1zM395.5 1665.0h36.1v6.5h-36.1zM169.0 1673.1h36.1v6.5h-36.1zM697.5 1673.1h36.1v6.5h-36.1zM1037.3 1673.1h36.1v6.5h-36.1zM1112.8 1673.1h36.1v6.5h-36.1zM357.8 1681.2h36.1v6.5h-36.1zM395.5 1681.2h36.1v6.5h-36.1zM697.5 1681.2h36.1v6.5h-36.1zM810.8 1681.2h36.1v6.5h-36.1zM961.8 1681.2h36.1v6.5h-36.1zM395.5 1689.3h36.1v6.5h-36.1zM697.5 1689.3h36.1v6.5h-36.1zM735.3 1689.3h36.1v6.5h-36.1zM810.8 1689.3h36.1v6.5h-36.1zM961.8 1697.4h36.1v6.5h-36.1zM1150.6 1697.4h36.1v6.5h-36.1zM697.5 1705.5h36.1v6.5h-36.1zM999.6 1705.5h36.1v6.5h-36.1zM961.8 1713.6h36.1v6.5h-36.1zM999.6 1713.6h36.1v6.5h-36.1zM395.5 1721.7h36.1v6.5h-36.1zM433.3 1721.7h36.1v6.5h-36.1zM659.8 1729.8h36.1v6.5h-36.1zM1150.6 1729.8h36.1v6.5h-36.1zM395.5 1737.9h36.1v6.5h-36.1zM886.3 1737.9h36.1v6.5h-36.1zM433.3 1746.0h36.1v6.5h-36.1zM659.8 1746.0h36.1v6.5h-36.1zM999.6 1746.0h36.1v6.5h-36.1zM1150.6 1746.0h36.1v6.5h-36.1zM659.8 1754.2h36.1v6.5h-36.1zM886.3 1762.3h36.1v6.5h-36.1zM282.3 1770.4h36.1v6.5h-36.1zM282.3 1778.5h36.1v6.5h-36.1zM282.3 1786.6h36.1v6.5h-36.1zM735.3 1786.6h36.1v6.5h-36.1zM131.2 1794.7h36.1v6.5h-36.1zM1075.1 1794.7h36.1v6.5h-36.1zM1188.3 1794.7h36.1v6.5h-36.1zM131.2 1802.8h36.1v6.5h-36.1zM773.1 1802.8h36.1v6.5h-36.1zM886.3 1802.8h36.1v6.5h-36.1zM961.8 1802.8h36.1v6.5h-36.1zM1037.3 1802.8h36.1v6.5h-36.1zM131.2 1810.9h36.1v6.5h-36.1zM395.5 1810.9h36.1v6.5h-36.1zM886.3 1810.9h36.1v6.5h-36.1zM961.8 1810.9h36.1v6.5h-36.1zM1075.1 1810.9h36.1v6.5h-36.1zM395.5 1819.0h36.1v6.5h-36.1zM433.3 1819.0h36.1v6.5h-36.1zM546.5 1819.0h36.1v6.5h-36.1zM886.3 1819.0h36.1v6.5h-36.1zM999.6 1819.0h36.1v6.5h-36.1zM1075.1 1819.0h36.1v6.5h-36.1zM999.6 1827.1h36.1v6.5h-36.1zM395.5 1835.2h36.1v6.5h-36.1zM773.1 1835.2h36.1v6.5h-36.1zM999.6 1835.2h36.1v6.5h-36.1zM395.5 1843.3h36.1v6.5h-36.1zM433.3 1843.3h36.1v6.5h-36.1zM735.3 1843.3h36.1v6.5h-36.1zM848.6 1843.3h36.1v6.5h-36.1zM1226.1 1843.3h36.1v6.5h-36.1zM395.5 1851.4h36.1v6.5h-36.1zM886.3 1867.7h36.1v6.5h-36.1zM999.6 1867.7h36.1v6.5h-36.1zM999.6 1875.8h36.1v6.5h-36.1zM924.1 1883.9h36.1v6.5h-36.1zM999.6 1883.9h36.1v6.5h-36.1zM1075.1 1883.9h36.1v6.5h-36.1zM1037.3 1892.0h36.1v6.5h-36.1zM1150.6 1892.0h36.1v6.5h-36.1zM131.2 1900.1h36.1v6.5h-36.1zM471.0 1900.1h36.1v6.5h-36.1zM735.3 1900.1h36.1v6.5h-36.1zM773.1 1900.1h36.1v6.5h-36.1zM1037.3 1900.1h36.1v6.5h-36.1zM1150.6 1900.1h36.1v6.5h-36.1zM169.0 1908.2h36.1v6.5h-36.1zM659.8 1908.2h36.1v6.5h-36.1zM1150.6 1908.2h36.1v6.5h-36.1zM810.8 1916.3h36.1v6.5h-36.1zM1075.1 1916.3h36.1v6.5h-36.1zM282.3 1924.4h36.1v6.5h-36.1zM1188.3 1924.4h36.1v6.5h-36.1zM810.8 1932.5h36.1v6.5h-36.1zM1150.6 1932.5h36.1v6.5h-36.1zM961.8 1948.7h36.1v6.5h-36.1zM1188.3 1948.7h36.1v6.5h-36.1zM1188.3 1956.8h36.1v6.5h-36.1zM622.0 1964.9h36.1v6.5h-36.1zM735.3 1964.9h36.1v6.5h-36.1zM924.1 1964.9h36.1v6.5h-36.1zM622.0 1973.0h36.1v6.5h-36.1zM735.3 1973.0h36.1v6.5h-36.1zM961.8 1973.0h36.1v6.5h-36.1zM1075.1 1973.0h36.1v6.5h-36.1zM1188.3 1973.0h36.1v6.5h-36.1zM244.5 1981.2h36.1v6.5h-36.1zM773.1 1981.2h36.1v6.5h-36.1zM924.1 1981.2h36.1v6.5h-36.1zM1188.3 1981.2h36.1v6.5h-36.1zM584.3 1989.3h36.1v6.5h-36.1zM924.1 1989.3h36.1v6.5h-36.1zM961.8 1989.3h36.1v6.5h-36.1zM433.3 1997.4h36.1v6.5h-36.1zM886.3 1997.4h36.1v6.5h-36.1zM924.1 1997.4h36.1v6.5h-36.1zM471.0 2005.5h36.1v6.5h-36.1zM735.3 2005.5h36.1v6.5h-36.1zM773.1 2005.5h36.1v6.5h-36.1zM1037.3 2005.5h36.1v6.5h-36.1zM735.3 2013.6h36.1v6.5h-36.1zM773.1 2013.6h36.1v6.5h-36.1zM924.1 2013.6h36.1v6.5h-36.1zM961.8 2013.6h36.1v6.5h-36.1zM1037.3 2013.6h36.1v6.5h-36.1zM1188.3 2013.6h36.1v6.5h-36.1zM1226.1 2013.6h36.1v6.5h-36.1zM735.3 2021.7h36.1v6.5h-36.1zM886.3 2021.7h36.1v6.5h-36.1zM961.8 2021.7h36.1v6.5h-36.1zM1226.1 2021.7h36.1v6.5h-36.1zM131.2 2029.8h36.1v6.5h-36.1zM735.3 2029.8h36.1v6.5h-36.1zM773.1 2029.8h36.1v6.5h-36.1zM886.3 2029.8h36.1v6.5h-36.1zM1075.1 2029.8h36.1v6.5h-36.1zM1188.3 2029.8h36.1v6.5h-36.1zM1226.1 2029.8h36.1v6.5h-36.1zM773.1 2037.9h36.1v6.5h-36.1zM1226.1 2037.9h36.1v6.5h-36.1zM131.2 2046.0h36.1v6.5h-36.1zM773.1 2046.0h36.1v6.5h-36.1zM1037.3 2046.0h36.1v6.5h-36.1zM1075.1 2046.0h36.1v6.5h-36.1zM1188.3 2046.0h36.1v6.5h-36.1zM131.2 2054.1h36.1v6.5h-36.1zM1037.3 2054.1h36.1v6.5h-36.1zM1075.1 2054.1h36.1v6.5h-36.1zM773.1 2062.2h36.1v6.5h-36.1zM961.8 2062.2h36.1v6.5h-36.1zM924.1 2070.3h36.1v6.5h-36.1zM1226.1 2078.4h36.1v6.5h-36.1zM584.3 2086.6h36.1v6.5h-36.1zM773.1 2086.6h36.1v6.5h-36.1zM584.3 2094.7h36.1v6.5h-36.1zM1075.1 2094.7h36.1v6.5h-36.1zM584.3 2102.8h36.1v6.5h-36.1zM848.6 2102.8h36.1v6.5h-36.1zM1188.3 2102.8h36.1v6.5h-36.1zM357.8 2110.9h36.1v6.5h-36.1zM735.3 2110.9h36.1v6.5h-36.1zM848.6 2110.9h36.1v6.5h-36.1zM584.3 2119.0h36.1v6.5h-36.1zM886.3 2119.0h36.1v6.5h-36.1zM961.8 2119.0h36.1v6.5h-36.1zM1037.3 2119.0h36.1v6.5h-36.1zM1150.6 2119.0h36.1v6.5h-36.1zM697.5 2127.1h36.1v6.5h-36.1zM1226.1 2143.3h36.1v6.5h-36.1zM886.3 2151.4h36.1v6.5h-36.1zM924.1 2151.4h36.1v6.5h-36.1zM961.8 2151.4h36.1v6.5h-36.1zM1226.1 2151.4h36.1v6.5h-36.1zM924.1 2159.5h36.1v6.5h-36.1zM961.8 2159.5h36.1v6.5h-36.1zM1075.1 2159.5h36.1v6.5h-36.1zM1188.3 2159.5h36.1v6.5h-36.1zM1226.1 2159.5h36.1v6.5h-36.1zM735.3 2167.6h36.1v6.5h-36.1zM773.1 2167.6h36.1v6.5h-36.1zM886.3 2167.6h36.1v6.5h-36.1zM961.8 2167.6h36.1v6.5h-36.1zM1188.3 2167.6h36.1v6.5h-36.1zM848.6 2175.7h36.1v6.5h-36.1zM886.3 2175.7h36.1v6.5h-36.1zM1188.3 2175.7h36.1v6.5h-36.1zM659.8 2183.8h36.1v6.5h-36.1zM1075.1 2183.8h36.1v6.5h-36.1zM1075.1 2191.9h36.1v6.5h-36.1zM961.8 2200.1h36.1v6.5h-36.1zM1037.3 2200.1h36.1v6.5h-36.1zM659.8 2208.2h36.1v6.5h-36.1zM924.1 2208.2h36.1v6.5h-36.1zM1226.1 2216.3h36.1v6.5h-36.1zM735.3 2240.6h36.1v6.5h-36.1zM999.6 2240.6h36.1v6.5h-36.1zM131.2 2248.7h36.1v6.5h-36.1zM773.1 2248.7h36.1v6.5h-36.1zM1075.1 2248.7h36.1v6.5h-36.1z"/><path fill="#ffe0e0" d="M169.0 1008.3h36.1v6.5h-36.1zM395.5 1008.3h36.1v6.5h-36.1zM622.0 1008.3h36.1v6.5h-36.1zM961.8 1008.3h36.1v6.5h-36.1zM1188.3 1008.3h36.1v6.5h-36.1zM282.3 1016.4h36.1v6.5h-36.1zM622.0 1016.4h36.1v6.5h-36.1zM773.1 1016.4h36.1v6.5h-36.1zM848.6 1016.4h36.1v6.5h-36.1zM1037.3 1016.4h36.1v6.5h-36.1zM320.0 1024.5h36.1v6.5h-36.1zM357.8 1024.5h36.1v6.5h-36.1zM584.3 1024.5h36.1v6.5h-36.1zM622.0 1024.5h36.1v6.5h-36.1zM1150.6 1024.5h36.1v6.5h-36.1zM206.8 1032.6h36.1v6.5h-36.1zM320.0 1032.6h36.1v6.5h-36.1zM357.8 1032.6h36.1v6.5h-36.1zM471.0 1032.6h36.1v6.5h-36.1zM622.0 1032.6h36.1v6.5h-36.1zM395.5 1040.7h36.1v6.5h-36.1zM848.6 1040.7h36.1v6.5h-36.1zM886.3 1040.7h36.1v6.5h-36.1zM282.3 1048.8h36.1v6.5h-36.1zM357.8 1048.8h36.1v6.5h-36.1zM584.3 1048.8h36.1v6.5h-36.1zM697.5 1048.8h36.1v6.5h-36.1zM810.8 1048.8h36.1v6.5h-36.1zM886.3 1048.8h36.1v6.5h-36.1zM1037.3 1048.8h36.1v6.5h-36.1zM1150.6 1048.8h36.1v6.5h-36.1zM244.5 1056.9h36.1v6.5h-36.1zM282.3 1056.9h36.1v6.5h-36.1zM471.0 1056.9h36.1v6.5h-36.1zM622.0 1056.9h36.1v6.5h-36.1zM1112.8 1056.9h36.1v6.5h-36.1zM320.0 1065.0h36.1v6.5h-36.1zM357.8 1065.0h36.1v6.5h-36.1zM471.0 1065.0h36.1v6.5h-36.1zM697.5 1065.0h36.1v6.5h-36.1zM886.3 1065.0h36.1v6.5h-36.1zM206.8 1073.2h36.1v6.5h-36.1zM282.3 1073.2h36.1v6.5h-36.1zM471.0 1073.2h36.1v6.5h-36.1zM546.5 1073.2h36.1v6.5h-36.1zM1037.3 1073.2h36.1v6.5h-36.1zM1112.8 1073.2h36.1v6.5h-36.1zM395.5 1081.3h36.1v6.5h-36.1zM735.3 1081.3h36.1v6.5h-36.1zM1037.3 1081.3h36.1v6.5h-36.1zM622.0 1089.4h36.1v6.5h-36.1zM206.8 1097.5h36.1v6.5h-36.1zM622.0 1097.5h36.1v6.5h-36.1zM659.8 1097.5h36.1v6.5h-36.1zM810.8 1097.5h36.1v6.5h-36.1zM206.8 1105.6h36.1v6.5h-36.1zM244.5 1105.6h36.1v6.5h-36.1zM584.3 1105.6h36.1v6.5h-36.1zM622.0 1105.6h36.1v6.5h-36.1zM659.8 1105.6h36.1v6.5h-36.1zM810.8 1105.6h36.1v6.5h-36.1zM1112.8 1105.6h36.1v6.5h-36.1zM622.0 1113.7h36.1v6.5h-36.1zM659.8 1113.7h36.1v6.5h-36.1zM697.5 1113.7h36.1v6.5h-36.1zM886.3 1113.7h36.1v6.5h-36.1zM961.8 1113.7h36.1v6.5h-36.1zM169.0 1121.8h36.1v6.5h-36.1zM244.5 1121.8h36.1v6.5h-36.1zM433.3 1121.8h36.1v6.5h-36.1zM508.8 1121.8h36.1v6.5h-36.1zM584.3 1121.8h36.1v6.5h-36.1zM659.8 1121.8h36.1v6.5h-36.1zM773.1 1121.8h36.1v6.5h-36.1zM848.6 1121.8h36.1v6.5h-36.1zM999.6 1121.8h36.1v6.5h-36.1zM1075.1 1121.8h36.1v6.5h-36.1zM1112.8 1121.8h36.1v6.5h-36.1zM131.2 1129.9h36.1v6.5h-36.1zM169.0 1129.9h36.1v6.5h-36.1zM282.3 1129.9h36.1v6.5h-36.1zM357.8 1129.9h36.1v6.5h-36.1zM622.0 1129.9h36.1v6.5h-36.1zM659.8 1129.9h36.1v6.5h-36.1zM1075.1 1129.9h36.1v6.5h-36.1zM1112.8 1129.9h36.1v6.5h-36.1zM169.0 1138.0h36.1v6.5h-36.1zM433.3 1138.0h36.1v6.5h-36.1zM546.5 1138.0h36.1v6.5h-36.1zM773.1 1138.0h36.1v6.5h-36.1zM886.3 1138.0h36.1v6.5h-36.1zM1075.1 1138.0h36.1v6.5h-36.1zM1112.8 1138.0h36.1v6.5h-36.1zM169.0 1146.1h36.1v6.5h-36.1zM244.5 1146.1h36.1v6.5h-36.1zM357.8 1146.1h36.1v6.5h-36.1zM546.5 1146.1h36.1v6.5h-36.1zM622.0 1146.1h36.1v6.5h-36.1zM659.8 1146.1h36.1v6.5h-36.1zM848.6 1146.1h36.1v6.5h-36.1zM1075.1 1146.1h36.1v6.5h-36.1zM1112.8 1146.1h36.1v6.5h-36.1zM357.8 1154.2h36.1v6.5h-36.1zM395.5 1154.2h36.1v6.5h-36.1zM433.3 1154.2h36.1v6.5h-36.1zM546.5 1154.2h36.1v6.5h-36.1zM659.8 1154.2h36.1v6.5h-36.1zM773.1 1154.2h36.1v6.5h-36.1zM810.8 1154.2h36.1v6.5h-36.1zM357.8 1162.3h36.1v6.5h-36.1zM395.5 1162.3h36.1v6.5h-36.1zM471.0 1162.3h36.1v6.5h-36.1zM546.5 1162.3h36.1v6.5h-36.1zM622.0 1162.3h36.1v6.5h-36.1zM1226.1 1162.3h36.1v6.5h-36.1zM584.3 1170.4h36.1v6.5h-36.1zM622.0 1170.4h36.1v6.5h-36.1zM659.8 1170.4h36.1v6.5h-36.1zM773.1 1170.4h36.1v6.5h-36.1zM1150.6 1170.4h36.1v6.5h-36.1zM357.8 1178.5h36.1v6.5h-36.1zM508.8 1178.5h36.1v6.5h-36.1zM546.5 1178.5h36.1v6.5h-36.1zM622.0 1178.5h36.1v6.5h-36.1zM659.8 1178.5h36.1v6.5h-36.1zM773.1 1178.5h36.1v6.5h-36.1zM810.8 1178.5h36.1v6.5h-36.1zM848.6 1178.5h36.1v6.5h-36.1zM999.6 1178.5h36.1v6.5h-36.1zM1037.3 1178.5h36.1v6.5h-36.1zM584.3 1186.7h36.1v6.5h-36.1zM659.8 1186.7h36.1v6.5h-36.1zM848.6 1186.7h36.1v6.5h-36.1zM244.5 1194.8h36.1v6.5h-36.1zM659.8 1194.8h36.1v6.5h-36.1zM131.2 1202.9h36.1v6.5h-36.1zM357.8 1202.9h36.1v6.5h-36.1zM471.0 1202.9h36.1v6.5h-36.1zM508.8 1202.9h36.1v6.5h-36.1zM622.0 1202.9h36.1v6.5h-36.1zM1037.3 1202.9h36.1v6.5h-36.1zM357.8 1211.0h36.1v6.5h-36.1zM471.0 1211.0h36.1v6.5h-36.1zM508.8 1211.0h36.1v6.5h-36.1zM546.5 1211.0h36.1v6.5h-36.1zM735.3 1211.0h36.1v6.5h-36.1zM773.1 1211.0h36.1v6.5h-36.1zM848.6 1211.0h36.1v6.5h-36.1zM1226.1 1211.0h36.1v6.5h-36.1zM244.5 1219.1h36.1v6.5h-36.1zM546.5 1219.1h36.1v6.5h-36.1zM584.3 1219.1h36.1v6.5h-36.1zM659.8 1219.1h36.1v6.5h-36.1zM735.3 1219.1h36.1v6.5h-36.1zM357.8 1227.2h36.1v6.5h-36.1zM395.5 1227.2h36.1v6.5h-36.1zM433.3 1227.2h36.1v6.5h-36.1zM584.3 1227.2h36.1v6.5h-36.1zM810.8 1227.2h36.1v6.5h-36.1zM1226.1 1227.2h36.1v6.5h-36.1zM584.3 1235.3h36.1v6.5h-36.1zM659.8 1235.3h36.1v6.5h-36.1zM848.6 1235.3h36.1v6.5h-36.1zM1037.3 1235.3h36.1v6.5h-36.1zM1112.8 1235.3h36.1v6.5h-36.1zM1226.1 1235.3h36.1v6.5h-36.1zM395.5 1243.4h36.1v6.5h-36.1zM659.8 1243.4h36.1v6.5h-36.1zM1037.3 1243.4h36.1v6.5h-36.1zM1112.8 1243.4h36.1v6.5h-36.1zM131.2 1251.5h36.1v6.5h-36.1zM395.5 1251.5h36.1v6.5h-36.1zM1037.3 1251.5h36.1v6.5h-36.1zM244.5 1259.6h36.1v6.5h-36.1zM810.8 1259.6h36.1v6.5h-36.1zM848.6 1259.6h36.1v6.5h-36.1zM1150.6 1259.6h36.1v6.5h-36.1zM471.0 1267.7h36.1v6.5h-36.1zM1112.8 1267.7h36.1v6.5h-36.1zM131.2 1275.8h36.1v6.5h-36.1zM320.0 1275.8h36.1v6.5h-36.1zM773.1 1275.8h36.1v6.5h-36.1zM206.8 1283.9h36.1v6.5h-36.1zM320.0 1283.9h36.1v6.5h-36.1zM508.8 1283.9h36.1v6.5h-36.1zM546.5 1283.9h36.1v6.5h-36.1zM584.3 1283.9h36.1v6.5h-36.1zM622.0 1283.9h36.1v6.5h-36.1zM659.8 1283.9h36.1v6.5h-36.1zM773.1 1283.9h36.1v6.5h-36.1zM999.6 1283.9h36.1v6.5h-36.1zM1150.6 1283.9h36.1v6.5h-36.1zM169.0 1292.0h36.1v6.5h-36.1zM320.0 1292.0h36.1v6.5h-36.1zM508.8 1292.0h36.1v6.5h-36.1zM546.5 1292.0h36.1v6.5h-36.1zM584.3 1292.0h36.1v6.5h-36.1zM659.8 1292.0h36.1v6.5h-36.1zM773.1 1292.0h36.1v6.5h-36.1zM848.6 1292.0h36.1v6.5h-36.1zM999.6 1292.0h36.1v6.5h-36.1zM1075.1 1292.0h36.1v6.5h-36.1zM1150.6 1292.0h36.1v6.5h-36.1zM244.5 1300.2h36.1v6.5h-36.1zM433.3 1300.2h36.1v6.5h-36.1zM471.0 1300.2h36.1v6.5h-36.1zM659.8 1300.2h36.1v6.5h-36.1zM848.6 1300.2h36.1v6.5h-36.1zM999.6 1300.2h36.1v6.5h-36.1zM1150.6 1300.2h36.1v6.5h-36.1zM471.0 1308.3h36.1v6.5h-36.1zM659.8 1308.3h36.1v6.5h-36.1zM999.6 1308.3h36.1v6.5h-36.1zM1150.6 1308.3h36.1v6.5h-36.1zM320.0 1316.4h36.1v6.5h-36.1zM395.5 1316.4h36.1v6.5h-36.1zM508.8 1316.4h36.1v6.5h-36.1zM659.8 1316.4h36.1v6.5h-36.1zM1112.8 1316.4h36.1v6.5h-36.1zM1150.6 1316.4h36.1v6.5h-36.1zM357.8 1324.5h36.1v6.5h-36.1zM433.3 1324.5h36.1v6.5h-36.1zM471.0 1324.5h36.1v6.5h-36.1zM584.3 1324.5h36.1v6.5h-36.1zM622.0 1324.5h36.1v6.5h-36.1zM659.8 1324.5h36.1v6.5h-36.1zM999.6 1324.5h36.1v6.5h-36.1zM1112.8 1324.5h36.1v6.5h-36.1zM206.8 1332.6h36.1v6.5h-36.1zM924.1 1332.6h36.1v6.5h-36.1zM1037.3 1332.6h36.1v6.5h-36.1zM1075.1 1332.6h36.1v6.5h-36.1zM1188.3 1332.6h36.1v6.5h-36.1zM659.8 1340.7h36.1v6.5h-36.1zM735.3 1340.7h36.1v6.5h-36.1zM773.1 1340.7h36.1v6.5h-36.1zM886.3 1340.7h36.1v6.5h-36.1zM924.1 1340.7h36.1v6.5h-36.1zM961.8 1340.7h36.1v6.5h-36.1zM999.6 1340.7h36.1v6.5h-36.1zM1188.3 1340.7h36.1v6.5h-36.1zM1226.1 1340.7h36.1v6.5h-36.1zM357.8 1348.8h36.1v6.5h-36.1zM848.6 1348.8h36.1v6.5h-36.1zM961.8 1348.8h36.1v6.5h-36.1zM395.5 1356.9h36.1v6.5h-36.1zM508.8 1356.9h36.1v6.5h-36.1zM584.3 1356.9h36.1v6.5h-36.1zM886.3 1356.9h36.1v6.5h-36.1zM1226.1 1356.9h36.1v6.5h-36.1zM584.3 1365.0h36.1v6.5h-36.1zM735.3 1365.0h36.1v6.5h-36.1zM773.1 1365.0h36.1v6.5h-36.1zM848.6 1365.0h36.1v6.5h-36.1zM395.5 1373.1h36.1v6.5h-36.1zM584.3 1373.1h36.1v6.5h-36.1zM886.3 1373.1h36.1v6.5h-36.1zM320.0 1381.2h36.1v6.5h-36.1zM773.1 1381.2h36.1v6.5h-36.1zM886.3 1381.2h36.1v6.5h-36.1zM924.1 1381.2h36.1v6.5h-36.1zM131.2 1389.3h36.1v6.5h-36.1zM810.8 1389.3h36.1v6.5h-36.1zM886.3 1389.3h36.1v6.5h-36.1zM1188.3 1389.3h36.1v6.5h-36.1zM1226.1 1389.3h36.1v6.5h-36.1zM169.0 1397.4h36.1v6.5h-36.1zM471.0 1397.4h36.1v6.5h-36.1zM848.6 1397.4h36.1v6.5h-36.1zM622.0 1405.5h36.1v6.5h-36.1zM659.8 1405.5h36.1v6.5h-36.1zM735.3 1405.5h36.1v6.5h-36.1zM773.1 1405.5h36.1v6.5h-36.1zM886.3 1405.5h36.1v6.5h-36.1zM961.8 1405.5h36.1v6.5h-36.1zM584.3 1413.7h36.1v6.5h-36.1zM584.3 1421.8h36.1v6.5h-36.1zM848.6 1421.8h36.1v6.5h-36.1zM886.3 1421.8h36.1v6.5h-36.1zM584.3 1429.9h36.1v6.5h-36.1zM622.0 1429.9h36.1v6.5h-36.1zM131.2 1438.0h36.1v6.5h-36.1zM320.0 1438.0h36.1v6.5h-36.1zM659.8 1438.0h36.1v6.5h-36.1zM773.1 1438.0h36.1v6.5h-36.1zM924.1 1438.0h36.1v6.5h-36.1zM244.5 1446.1h36.1v6.5h-36.1zM357.8 1446.1h36.1v6.5h-36.1zM471.0 1446.1h36.1v6.5h-36.1zM508.8 1446.1h36.1v6.5h-36.1zM659.8 1446.1h36.1v6.5h-36.1zM773.1 1446.1h36.1v6.5h-36.1zM924.1 1446.1h36.1v6.5h-36.1zM1112.8 1446.1h36.1v6.5h-36.1zM1188.3 1446.1h36.1v6.5h-36.1zM131.2 1454.2h36.1v6.5h-36.1zM622.0 1454.2h36.1v6.5h-36.1zM659.8 1454.2h36.1v6.5h-36.1zM773.1 1454.2h36.1v6.5h-36.1zM886.3 1454.2h36.1v6.5h-36.1zM924.1 1454.2h36.1v6.5h-36.1zM999.6 1454.2h36.1v6.5h-36.1zM1037.3 1454.2h36.1v6.5h-36.1zM1150.6 1454.2h36.1v6.5h-36.1zM131.2 1462.3h36.1v6.5h-36.1zM169.0 1462.3h36.1v6.5h-36.1zM282.3 1462.3h36.1v6.5h-36.1zM357.8 1462.3h36.1v6.5h-36.1zM584.3 1462.3h36.1v6.5h-36.1zM622.0 1462.3h36.1v6.5h-36.1zM659.8 1462.3h36.1v6.5h-36.1zM773.1 1462.3h36.1v6.5h-36.1zM1037.3 1462.3h36.1v6.5h-36.1zM735.3 1470.4h36.1v6.5h-36.1zM1037.3 1470.4h36.1v6.5h-36.1zM1188.3 1470.4h36.1v6.5h-36.1zM433.3 1478.5h36.1v6.5h-36.1zM886.3 1478.5h36.1v6.5h-36.1zM924.1 1478.5h36.1v6.5h-36.1zM999.6 1478.5h36.1v6.5h-36.1zM169.0 1486.6h36.1v6.5h-36.1zM433.3 1486.6h36.1v6.5h-36.1zM546.5 1486.6h36.1v6.5h-36.1zM924.1 1486.6h36.1v6.5h-36.1zM961.8 1486.6h36.1v6.5h-36.1zM1150.6 1486.6h36.1v6.5h-36.1zM1226.1 1486.6h36.1v6.5h-36.1zM206.8 1494.7h36.1v6.5h-36.1zM471.0 1494.7h36.1v6.5h-36.1zM546.5 1494.7h36.1v6.5h-36.1zM206.8 1502.8h36.1v6.5h-36.1zM1037.3 1502.8h36.1v6.5h-36.1zM1150.6 1502.8h36.1v6.5h-36.1zM1226.1 1502.8h36.1v6.5h-36.1zM206.8 1510.9h36.1v6.5h-36.1zM433.3 1510.9h36.1v6.5h-36.1zM697.5 1510.9h36.1v6.5h-36.1zM924.1 1510.9h36.1v6.5h-36.1zM1112.8 1510.9h36.1v6.5h-36.1zM1226.1 1510.9h36.1v6.5h-36.1zM206.8 1519.0h36.1v6.5h-36.1zM433.3 1519.0h36.1v6.5h-36.1zM697.5 1519.0h36.1v6.5h-36.1zM773.1 1519.0h36.1v6.5h-36.1zM999.6 1519.0h36.1v6.5h-36.1zM1112.8 1519.0h36.1v6.5h-36.1zM1226.1 1519.0h36.1v6.5h-36.1zM395.5 1527.2h36.1v6.5h-36.1zM546.5 1527.2h36.1v6.5h-36.1zM773.1 1527.2h36.1v6.5h-36.1zM810.8 1527.2h36.1v6.5h-36.1zM886.3 1527.2h36.1v6.5h-36.1zM961.8 1527.2h36.1v6.5h-36.1zM1226.1 1527.2h36.1v6.5h-36.1zM169.0 1535.3h36.1v6.5h-36.1zM433.3 1535.3h36.1v6.5h-36.1zM546.5 1535.3h36.1v6.5h-36.1zM659.8 1535.3h36.1v6.5h-36.1zM773.1 1535.3h36.1v6.5h-36.1zM848.6 1535.3h36.1v6.5h-36.1zM961.8 1535.3h36.1v6.5h-36.1zM1150.6 1535.3h36.1v6.5h-36.1zM546.5 1543.4h36.1v6.5h-36.1zM735.3 1543.4h36.1v6.5h-36.1zM886.3 1543.4h36.1v6.5h-36.1zM1226.1 1543.4h36.1v6.5h-36.1zM622.0 1551.5h36.1v6.5h-36.1zM773.1 1551.5h36.1v6.5h-36.1zM810.8 1551.5h36.1v6.5h-36.1zM924.1 1551.5h36.1v6.5h-36.1zM999.6 1551.5h36.1v6.5h-36.1zM357.8 1559.6h36.1v6.5h-36.1zM773.1 1559.6h36.1v6.5h-36.1zM810.8 1559.6h36.1v6.5h-36.1zM848.6 1559.6h36.1v6.5h-36.1zM357.8 1567.7h36.1v6.5h-36.1zM999.6 1567.7h36.1v6.5h-36.1zM131.2 1575.8h36.1v6.5h-36.1zM206.8 1575.8h36.1v6.5h-36.1zM320.0 1575.8h36.1v6.5h-36.1zM357.8 1575.8h36.1v6.5h-36.1zM584.3 1575.8h36.1v6.5h-36.1zM735.3 1575.8h36.1v6.5h-36.1zM1037.3 1575.8h36.1v6.5h-36.1zM1150.6 1575.8h36.1v6.5h-36.1zM131.2 1583.9h36.1v6.5h-36.1zM357.8 1583.9h36.1v6.5h-36.1zM584.3 1583.9h36.1v6.5h-36.1zM924.1 1583.9h36.1v6.5h-36.1zM1037.3 1583.9h36.1v6.5h-36.1zM131.2 1592.0h36.1v6.5h-36.1zM471.0 1592.0h36.1v6.5h-36.1zM584.3 1592.0h36.1v6.5h-36.1zM735.3 1592.0h36.1v6.5h-36.1zM773.1 1592.0h36.1v6.5h-36.1zM1075.1 1592.0h36.1v6.5h-36.1zM1188.3 1592.0h36.1v6.5h-36.1zM471.0 1600.1h36.1v6.5h-36.1zM961.8 1600.1h36.1v6.5h-36.1zM1188.3 1600.1h36.1v6.5h-36.1zM206.8 1608.2h36.1v6.5h-36.1zM244.5 1608.2h36.1v6.5h-36.1zM471.0 1608.2h36.1v6.5h-36.1zM659.8 1608.2h36.1v6.5h-36.1zM810.8 1608.2h36.1v6.5h-36.1zM924.1 1608.2h36.1v6.5h-36.1zM961.8 1608.2h36.1v6.5h-36.1zM999.6 1608.2h36.1v6.5h-36.1zM1112.8 1608.2h36.1v6.5h-36.1zM169.0 1616.3h36.1v6.5h-36.1zM395.5 1616.3h36.1v6.5h-36.1zM546.5 1616.3h36.1v6.5h-36.1zM584.3 1616.3h36.1v6.5h-36.1zM773.1 1616.3h36.1v6.5h-36.1zM810.8 1616.3h36.1v6.5h-36.1zM1226.1 1616.3h36.1v6.5h-36.1zM131.2 1624.4h36.1v6.5h-36.1zM395.5 1624.4h36.1v6.5h-36.1zM584.3 1624.4h36.1v6.5h-36.1zM622.0 1624.4h36.1v6.5h-36.1zM735.3 1624.4h36.1v6.5h-36.1zM773.1 1624.4h36.1v6.5h-36.1zM961.8 1624.4h36.1v6.5h-36.1zM1112.8 1624.4h36.1v6.5h-36.1zM1226.1 1624.4h36.1v6.5h-36.1zM169.0 1632.5h36.1v6.5h-36.1zM584.3 1632.5h36.1v6.5h-36.1zM659.8 1632.5h36.1v6.5h-36.1zM735.3 1632.5h36.1v6.5h-36.1zM924.1 1632.5h36.1v6.5h-36.1zM1112.8 1632.5h36.1v6.5h-36.1zM1188.3 1632.5h36.1v6.5h-36.1zM1226.1 1632.5h36.1v6.5h-36.1zM169.0 1640.7h36.1v6.5h-36.1zM433.3 1640.7h36.1v6.5h-36.1zM735.3 1640.7h36.1v6.5h-36.1zM961.8 1640.7h36.1v6.5h-36.1zM1037.3 1640.7h36.1v6.5h-36.1zM1226.1 1640.7h36.1v6.5h-36.1zM131.2 1648.8h36.1v6.5h-36.1zM206.8 1648.8h36.1v6.5h-36.1zM395.5 1648.8h36.1v6.5h-36.1zM433.3 1648.8h36.1v6.5h-36.1zM546.5 1648.8h36.1v6.5h-36.1zM584.3 1648.8h36.1v6.5h-36.1zM622.0 1648.8h36.1v6.5h-36.1zM848.6 1648.8h36.1v6.5h-36.1zM924.1 1648.8h36.1v6.5h-36.1zM1226.1 1648.8h36.1v6.5h-36.1zM282.3 1656.9h36.1v6.5h-36.1zM395.5 1656.9h36.1v6.5h-36.1zM433.3 1656.9h36.1v6.5h-36.1zM584.3 1656.9h36.1v6.5h-36.1zM735.3 1656.9h36.1v6.5h-36.1zM848.6 1656.9h36.1v6.5h-36.1zM961.8 1656.9h36.1v6.5h-36.1zM1150.6 1656.9h36.1v6.5h-36.1zM1188.3 1656.9h36.1v6.5h-36.1zM1226.1 1656.9h36.1v6.5h-36.1zM131.2 1665.0h36.1v6.5h-36.1zM810.8 1665.0h36.1v6.5h-36.1zM848.6 1665.0h36.1v6.5h-36.1zM961.8 1665.0h36.1v6.5h-36.1zM1037.3 1665.0h36.1v6.5h-36.1zM1112.8 1665.0h36.1v6.5h-36.1zM1150.6 1665.0h36.1v6.5h-36.1zM1188.3 1665.0h36.1v6.5h-36.1zM1226.1 1665.0h36.1v6.5h-36.1zM546.5 1673.1h36.1v6.5h-36.1zM584.3 1673.1h36.1v6.5h-36.1zM659.8 1673.1h36.1v6.5h-36.1zM999.6 1673.1h36.1v6.5h-36.1zM1188.3 1673.1h36.1v6.5h-36.1zM1226.1 1673.1h36.1v6.5h-36.1zM433.3 1681.2h36.1v6.5h-36.1zM924.1 1681.2h36.1v6.5h-36.1zM999.6 1681.2h36.1v6.5h-36.1zM1188.3 1681.2h36.1v6.5h-36.1zM659.8 1689.3h36.1v6.5h-36.1zM886.3 1689.3h36.1v6.5h-36.1zM924.1 1689.3h36.1v6.5h-36.1zM1188.3 1689.3h36.1v6.5h-36.1zM1226.1 1689.3h36.1v6.5h-36.1zM395.5 1697.4h36.1v6.5h-36.1zM659.8 1697.4h36.1v6.5h-36.1zM848.6 1697.4h36.1v6.5h-36.1zM1188.3 1697.4h36.1v6.5h-36.1zM282.3 1705.5h36.1v6.5h-36.1zM395.5 1705.5h36.1v6.5h-36.1zM773.1 1705.5h36.1v6.5h-36.1zM810.8 1705.5h36.1v6.5h-36.1zM1037.3 1705.5h36.1v6.5h-36.1zM1075.1 1705.5h36.1v6.5h-36.1zM1150.6 1705.5h36.1v6.5h-36.1zM1188.3 1705.5h36.1v6.5h-36.1zM131.2 1713.6h36.1v6.5h-36.1zM320.0 1713.6h36.1v6.5h-36.1zM357.8 1713.6h36.1v6.5h-36.1zM433.3 1713.6h36.1v6.5h-36.1zM659.8 1713.6h36.1v6.5h-36.1zM773.1 1713.6h36.1v6.5h-36.1zM886.3 1713.6h36.1v6.5h-36.1zM1037.3 1713.6h36.1v6.5h-36.1zM1075.1 1713.6h36.1v6.5h-36.1zM1150.6 1713.6h36.1v6.5h-36.1zM1188.3 1713.6h36.1v6.5h-36.1zM1226.1 1713.6h36.1v6.5h-36.1zM471.0 1721.7h36.1v6.5h-36.1zM508.8 1721.7h36.1v6.5h-36.1zM546.5 1721.7h36.1v6.5h-36.1zM659.8 1721.7h36.1v6.5h-36.1zM810.8 1721.7h36.1v6.5h-36.1zM848.6 1721.7h36.1v6.5h-36.1zM924.1 1721.7h36.1v6.5h-36.1zM961.8 1721.7h36.1v6.5h-36.1zM1037.3 1721.7h36.1v6.5h-36.1zM1150.6 1721.7h36.1v6.5h-36.1zM471.0 1729.8h36.1v6.5h-36.1zM961.8 1729.8h36.1v6.5h-36.1zM1037.3 1729.8h36.1v6.5h-36.1zM1075.1 1729.8h36.1v6.5h-36.1zM244.5 1737.9h36.1v6.5h-36.1zM508.8 1737.9h36.1v6.5h-36.1zM961.8 1737.9h36.1v6.5h-36.1zM1226.1 1737.9h36.1v6.5h-36.1zM244.5 1746.0h36.1v6.5h-36.1zM546.5 1746.0h36.1v6.5h-36.1zM622.0 1746.0h36.1v6.5h-36.1zM848.6 1746.0h36.1v6.5h-36.1zM924.1 1746.0h36.1v6.5h-36.1zM961.8 1746.0h36.1v6.5h-36.1zM1075.1 1746.0h36.1v6.5h-36.1zM1188.3 1746.0h36.1v6.5h-36.1zM320.0 1754.2h36.1v6.5h-36.1zM433.3 1754.2h36.1v6.5h-36.1zM622.0 1754.2h36.1v6.5h-36.1zM810.8 1754.2h36.1v6.5h-36.1zM1150.6 1754.2h36.1v6.5h-36.1zM244.5 1762.3h36.1v6.5h-36.1zM357.8 1762.3h36.1v6.5h-36.1zM773.1 1762.3h36.1v6.5h-36.1zM810.8 1762.3h36.1v6.5h-36.1zM848.6 1762.3h36.1v6.5h-36.1zM961.8 1762.3h36.1v6.5h-36.1zM395.5 1770.4h36.1v6.5h-36.1zM659.8 1770.4h36.1v6.5h-36.1zM810.8 1770.4h36.1v6.5h-36.1zM961.8 1770.4h36.1v6.5h-36.1zM1150.6 1770.4h36.1v6.5h-36.1zM1226.1 1770.4h36.1v6.5h-36.1zM357.8 1778.5h36.1v6.5h-36.1zM546.5 1778.5h36.1v6.5h-36.1zM735.3 1778.5h36.1v6.5h-36.1zM773.1 1778.5h36.1v6.5h-36.1zM810.8 1778.5h36.1v6.5h-36.1zM924.1 1778.5h36.1v6.5h-36.1zM1037.3 1778.5h36.1v6.5h-36.1zM1075.1 1778.5h36.1v6.5h-36.1zM1188.3 1778.5h36.1v6.5h-36.1zM1226.1 1778.5h36.1v6.5h-36.1zM433.3 1786.6h36.1v6.5h-36.1zM546.5 1786.6h36.1v6.5h-36.1zM584.3 1786.6h36.1v6.5h-36.1zM622.0 1786.6h36.1v6.5h-36.1zM886.3 1786.6h36.1v6.5h-36.1zM1037.3 1786.6h36.1v6.5h-36.1zM1075.1 1786.6h36.1v6.5h-36.1zM1150.6 1786.6h36.1v6.5h-36.1zM244.5 1794.7h36.1v6.5h-36.1zM282.3 1794.7h36.1v6.5h-36.1zM433.3 1794.7h36.1v6.5h-36.1zM886.3 1794.7h36.1v6.5h-36.1zM433.3 1802.8h36.1v6.5h-36.1zM546.5 1802.8h36.1v6.5h-36.1zM999.6 1802.8h36.1v6.5h-36.1zM282.3 1810.9h36.1v6.5h-36.1zM433.3 1810.9h36.1v6.5h-36.1zM546.5 1810.9h36.1v6.5h-36.1zM773.1 1810.9h36.1v6.5h-36.1zM848.6 1810.9h36.1v6.5h-36.1zM1037.3 1810.9h36.1v6.5h-36.1zM1188.3 1810.9h36.1v6.5h-36.1zM244.5 1819.0h36.1v6.5h-36.1zM924.1 1819.0h36.1v6.5h-36.1zM1188.3 1819.0h36.1v6.5h-36.1zM131.2 1827.1h36.1v6.5h-36.1zM244.5 1827.1h36.1v6.5h-36.1zM433.3 1827.1h36.1v6.5h-36.1zM546.5 1827.1h36.1v6.5h-36.1zM659.8 1827.1h36.1v6.5h-36.1zM697.5 1827.1h36.1v6.5h-36.1zM773.1 1827.1h36.1v6.5h-36.1zM810.8 1827.1h36.1v6.5h-36.1zM924.1 1827.1h36.1v6.5h-36.1zM961.8 1827.1h36.1v6.5h-36.1zM1112.8 1827.1h36.1v6.5h-36.1zM1188.3 1827.1h36.1v6.5h-36.1zM1226.1 1827.1h36.1v6.5h-36.1zM131.2 1835.2h36.1v6.5h-36.1zM546.5 1835.2h36.1v6.5h-36.1zM924.1 1835.2h36.1v6.5h-36.1zM1226.1 1835.2h36.1v6.5h-36.1zM244.5 1843.3h36.1v6.5h-36.1zM924.1 1843.3h36.1v6.5h-36.1zM961.8 1843.3h36.1v6.5h-36.1zM1150.6 1843.3h36.1v6.5h-36.1zM244.5 1851.4h36.1v6.5h-36.1zM508.8 1851.4h36.1v6.5h-36.1zM546.5 1851.4h36.1v6.5h-36.1zM924.1 1851.4h36.1v6.5h-36.1zM1037.3 1851.4h36.1v6.5h-36.1zM1112.8 1851.4h36.1v6.5h-36.1zM395.5 1859.5h36.1v6.5h-36.1zM508.8 1859.5h36.1v6.5h-36.1zM961.8 1859.5h36.1v6.5h-36.1zM999.6 1859.5h36.1v6.5h-36.1zM1037.3 1859.5h36.1v6.5h-36.1zM1226.1 1859.5h36.1v6.5h-36.1zM282.3 1867.7h36.1v6.5h-36.1zM471.0 1867.7h36.1v6.5h-36.1zM924.1 1867.7h36.1v6.5h-36.1zM1075.1 1867.7h36.1v6.5h-36.1zM1226.1 1867.7h36.1v6.5h-36.1zM433.3 1875.8h36.1v6.5h-36.1zM546.5 1875.8h36.1v6.5h-36.1zM924.1 1875.8h36.1v6.5h-36.1zM1037.3 1875.8h36.1v6.5h-36.1zM1075.1 1875.8h36.1v6.5h-36.1zM1188.3 1875.8h36.1v6.5h-36.1zM1226.1 1875.8h36.1v6.5h-36.1zM244.5 1883.9h36.1v6.5h-36.1zM395.5 1883.9h36.1v6.5h-36.1zM471.0 1883.9h36.1v6.5h-36.1zM848.6 1883.9h36.1v6.5h-36.1zM1037.3 1883.9h36.1v6.5h-36.1zM1188.3 1883.9h36.1v6.5h-36.1zM433.3 1892.0h36.1v6.5h-36.1zM471.0 1892.0h36.1v6.5h-36.1zM810.8 1892.0h36.1v6.5h-36.1zM848.6 1892.0h36.1v6.5h-36.1zM924.1 1892.0h36.1v6.5h-36.1zM961.8 1892.0h36.1v6.5h-36.1zM1075.1 1892.0h36.1v6.5h-36.1zM1112.8 1892.0h36.1v6.5h-36.1zM1188.3 1892.0h36.1v6.5h-36.1zM1226.1 1892.0h36.1v6.5h-36.1zM169.0 1900.1h36.1v6.5h-36.1zM1226.1 1900.1h36.1v6.5h-36.1zM131.2 1908.2h36.1v6.5h-36.1zM471.0 1908.2h36.1v6.5h-36.1zM961.8 1908.2h36.1v6.5h-36.1zM1075.1 1908.2h36.1v6.5h-36.1zM1188.3 1908.2h36.1v6.5h-36.1zM1226.1 1908.2h36.1v6.5h-36.1zM131.2 1916.3h36.1v6.5h-36.1zM244.5 1916.3h36.1v6.5h-36.1zM395.5 1916.3h36.1v6.5h-36.1zM471.0 1916.3h36.1v6.5h-36.1zM584.3 1916.3h36.1v6.5h-36.1zM622.0 1916.3h36.1v6.5h-36.1zM961.8 1916.3h36.1v6.5h-36.1zM1112.8 1916.3h36.1v6.5h-36.1zM1188.3 1916.3h36.1v6.5h-36.1zM1226.1 1916.3h36.1v6.5h-36.1zM131.2 1924.4h36.1v6.5h-36.1zM169.0 1924.4h36.1v6.5h-36.1zM357.8 1924.4h36.1v6.5h-36.1zM584.3 1924.4h36.1v6.5h-36.1zM735.3 1924.4h36.1v6.5h-36.1zM810.8 1924.4h36.1v6.5h-36.1zM848.6 1924.4h36.1v6.5h-36.1zM961.8 1924.4h36.1v6.5h-36.1zM999.6 1924.4h36.1v6.5h-36.1zM1112.8 1924.4h36.1v6.5h-36.1zM131.2 1932.5h36.1v6.5h-36.1zM282.3 1932.5h36.1v6.5h-36.1zM357.8 1932.5h36.1v6.5h-36.1zM622.0 1932.5h36.1v6.5h-36.1zM886.3 1932.5h36.1v6.5h-36.1zM924.1 1932.5h36.1v6.5h-36.1zM961.8 1932.5h36.1v6.5h-36.1zM1037.3 1932.5h36.1v6.5h-36.1zM1226.1 1932.5h36.1v6.5h-36.1zM131.2 1940.6h36.1v6.5h-36.1zM395.5 1940.6h36.1v6.5h-36.1zM433.3 1940.6h36.1v6.5h-36.1zM773.1 1940.6h36.1v6.5h-36.1zM848.6 1940.6h36.1v6.5h-36.1zM886.3 1940.6h36.1v6.5h-36.1zM1037.3 1940.6h36.1v6.5h-36.1zM1226.1 1940.6h36.1v6.5h-36.1zM244.5 1948.7h36.1v6.5h-36.1zM282.3 1948.7h36.1v6.5h-36.1zM320.0 1948.7h36.1v6.5h-36.1zM395.5 1948.7h36.1v6.5h-36.1zM433.3 1948.7h36.1v6.5h-36.1zM622.0 1948.7h36.1v6.5h-36.1zM659.8 1948.7h36.1v6.5h-36.1zM697.5 1948.7h36.1v6.5h-36.1zM773.1 1948.7h36.1v6.5h-36.1zM810.8 1948.7h36.1v6.5h-36.1zM924.1 1948.7h36.1v6.5h-36.1zM999.6 1948.7h36.1v6.5h-36.1zM1226.1 1948.7h36.1v6.5h-36.1zM320.0 1956.8h36.1v6.5h-36.1zM433.3 1956.8h36.1v6.5h-36.1zM622.0 1956.8h36.1v6.5h-36.1zM659.8 1956.8h36.1v6.5h-36.1zM735.3 1956.8h36.1v6.5h-36.1zM773.1 1956.8h36.1v6.5h-36.1zM810.8 1956.8h36.1v6.5h-36.1zM848.6 1956.8h36.1v6.5h-36.1zM924.1 1956.8h36.1v6.5h-36.1zM999.6 1956.8h36.1v6.5h-36.1zM1037.3 1956.8h36.1v6.5h-36.1zM1150.6 1956.8h36.1v6.5h-36.1zM1226.1 1956.8h36.1v6.5h-36.1zM395.5 1964.9h36.1v6.5h-36.1zM433.3 1964.9h36.1v6.5h-36.1zM659.8 1964.9h36.1v6.5h-36.1zM282.3 1973.0h36.1v6.5h-36.1zM320.0 1973.0h36.1v6.5h-36.1zM773.1 1973.0h36.1v6.5h-36.1zM848.6 1973.0h36.1v6.5h-36.1zM886.3 1973.0h36.1v6.5h-36.1zM1112.8 1973.0h36.1v6.5h-36.1zM1150.6 1973.0h36.1v6.5h-36.1zM1226.1 1973.0h36.1v6.5h-36.1zM282.3 1981.2h36.1v6.5h-36.1zM961.8 1981.2h36.1v6.5h-36.1zM1112.8 1981.2h36.1v6.5h-36.1zM131.2 1989.3h36.1v6.5h-36.1zM244.5 1989.3h36.1v6.5h-36.1zM508.8 1989.3h36.1v6.5h-36.1zM848.6 1989.3h36.1v6.5h-36.1zM999.6 1989.3h36.1v6.5h-36.1zM1112.8 1989.3h36.1v6.5h-36.1zM1226.1 1989.3h36.1v6.5h-36.1zM131.2 1997.4h36.1v6.5h-36.1zM320.0 1997.4h36.1v6.5h-36.1zM395.5 1997.4h36.1v6.5h-36.1zM546.5 1997.4h36.1v6.5h-36.1zM735.3 1997.4h36.1v6.5h-36.1zM810.8 1997.4h36.1v6.5h-36.1zM999.6 1997.4h36.1v6.5h-36.1zM395.5 2005.5h36.1v6.5h-36.1zM546.5 2005.5h36.1v6.5h-36.1zM622.0 2005.5h36.1v6.5h-36.1zM810.8 2005.5h36.1v6.5h-36.1zM1112.8 2005.5h36.1v6.5h-36.1zM357.8 2013.6h36.1v6.5h-36.1zM433.3 2013.6h36.1v6.5h-36.1zM810.8 2013.6h36.1v6.5h-36.1zM244.5 2021.7h36.1v6.5h-36.1zM433.3 2021.7h36.1v6.5h-36.1zM546.5 2021.7h36.1v6.5h-36.1zM433.3 2029.8h36.1v6.5h-36.1zM659.8 2029.8h36.1v6.5h-36.1zM999.6 2029.8h36.1v6.5h-36.1zM1037.3 2029.8h36.1v6.5h-36.1zM131.2 2037.9h36.1v6.5h-36.1zM282.3 2037.9h36.1v6.5h-36.1zM622.0 2037.9h36.1v6.5h-36.1zM659.8 2037.9h36.1v6.5h-36.1zM848.6 2037.9h36.1v6.5h-36.1zM961.8 2037.9h36.1v6.5h-36.1zM999.6 2037.9h36.1v6.5h-36.1zM1150.6 2037.9h36.1v6.5h-36.1zM282.3 2046.0h36.1v6.5h-36.1zM584.3 2046.0h36.1v6.5h-36.1zM244.5 2054.1h36.1v6.5h-36.1zM924.1 2054.1h36.1v6.5h-36.1zM1112.8 2054.1h36.1v6.5h-36.1zM1226.1 2054.1h36.1v6.5h-36.1zM546.5 2062.2h36.1v6.5h-36.1zM735.3 2062.2h36.1v6.5h-36.1zM1150.6 2062.2h36.1v6.5h-36.1zM1226.1 2062.2h36.1v6.5h-36.1zM1037.3 2070.3h36.1v6.5h-36.1zM131.2 2078.4h36.1v6.5h-36.1zM584.3 2078.4h36.1v6.5h-36.1zM848.6 2078.4h36.1v6.5h-36.1zM1037.3 2078.4h36.1v6.5h-36.1zM282.3 2094.7h36.1v6.5h-36.1zM961.8 2094.7h36.1v6.5h-36.1zM1226.1 2094.7h36.1v6.5h-36.1zM735.3 2102.8h36.1v6.5h-36.1zM773.1 2102.8h36.1v6.5h-36.1zM1037.3 2102.8h36.1v6.5h-36.1zM1226.1 2102.8h36.1v6.5h-36.1zM1037.3 2110.9h36.1v6.5h-36.1zM1150.6 2110.9h36.1v6.5h-36.1zM1188.3 2110.9h36.1v6.5h-36.1zM1226.1 2110.9h36.1v6.5h-36.1zM395.5 2119.0h36.1v6.5h-36.1zM433.3 2119.0h36.1v6.5h-36.1zM810.8 2119.0h36.1v6.5h-36.1zM999.6 2119.0h36.1v6.5h-36.1zM131.2 2127.1h36.1v6.5h-36.1zM244.5 2127.1h36.1v6.5h-36.1zM546.5 2127.1h36.1v6.5h-36.1zM584.3 2127.1h36.1v6.5h-36.1zM735.3 2127.1h36.1v6.5h-36.1zM773.1 2127.1h36.1v6.5h-36.1zM961.8 2127.1h36.1v6.5h-36.1zM1037.3 2127.1h36.1v6.5h-36.1zM1075.1 2127.1h36.1v6.5h-36.1zM1112.8 2127.1h36.1v6.5h-36.1zM1150.6 2127.1h36.1v6.5h-36.1zM244.5 2135.2h36.1v6.5h-36.1zM471.0 2135.2h36.1v6.5h-36.1zM546.5 2135.2h36.1v6.5h-36.1zM622.0 2135.2h36.1v6.5h-36.1zM659.8 2135.2h36.1v6.5h-36.1zM697.5 2135.2h36.1v6.5h-36.1zM735.3 2135.2h36.1v6.5h-36.1zM773.1 2135.2h36.1v6.5h-36.1zM848.6 2135.2h36.1v6.5h-36.1zM999.6 2135.2h36.1v6.5h-36.1zM1037.3 2135.2h36.1v6.5h-36.1zM1150.6 2135.2h36.1v6.5h-36.1zM1226.1 2135.2h36.1v6.5h-36.1zM1037.3 2143.3h36.1v6.5h-36.1zM1075.1 2143.3h36.1v6.5h-36.1zM1188.3 2143.3h36.1v6.5h-36.1zM395.5 2151.4h36.1v6.5h-36.1zM584.3 2151.4h36.1v6.5h-36.1zM848.6 2151.4h36.1v6.5h-36.1zM1150.6 2151.4h36.1v6.5h-36.1zM244.5 2159.5h36.1v6.5h-36.1zM395.5 2159.5h36.1v6.5h-36.1zM584.3 2159.5h36.1v6.5h-36.1zM622.0 2159.5h36.1v6.5h-36.1zM1037.3 2159.5h36.1v6.5h-36.1zM1150.6 2159.5h36.1v6.5h-36.1zM131.2 2167.6h36.1v6.5h-36.1zM357.8 2167.6h36.1v6.5h-36.1zM131.2 2175.7h36.1v6.5h-36.1zM244.5 2183.8h36.1v6.5h-36.1zM433.3 2183.8h36.1v6.5h-36.1zM546.5 2183.8h36.1v6.5h-36.1zM584.3 2183.8h36.1v6.5h-36.1zM622.0 2183.8h36.1v6.5h-36.1zM848.6 2183.8h36.1v6.5h-36.1zM1112.8 2183.8h36.1v6.5h-36.1zM1150.6 2183.8h36.1v6.5h-36.1zM206.8 2191.9h36.1v6.5h-36.1zM244.5 2191.9h36.1v6.5h-36.1zM282.3 2191.9h36.1v6.5h-36.1zM357.8 2191.9h36.1v6.5h-36.1zM584.3 2191.9h36.1v6.5h-36.1zM735.3 2191.9h36.1v6.5h-36.1zM886.3 2191.9h36.1v6.5h-36.1zM999.6 2191.9h36.1v6.5h-36.1zM433.3 2200.1h36.1v6.5h-36.1zM471.0 2200.1h36.1v6.5h-36.1zM773.1 2200.1h36.1v6.5h-36.1zM1112.8 2200.1h36.1v6.5h-36.1zM471.0 2208.2h36.1v6.5h-36.1zM584.3 2208.2h36.1v6.5h-36.1zM999.6 2208.2h36.1v6.5h-36.1zM131.2 2216.3h36.1v6.5h-36.1zM244.5 2216.3h36.1v6.5h-36.1zM357.8 2216.3h36.1v6.5h-36.1zM433.3 2216.3h36.1v6.5h-36.1zM471.0 2216.3h36.1v6.5h-36.1zM584.3 2216.3h36.1v6.5h-36.1zM810.8 2216.3h36.1v6.5h-36.1zM1112.8 2216.3h36.1v6.5h-36.1zM131.2 2224.4h36.1v6.5h-36.1zM244.5 2224.4h36.1v6.5h-36.1zM395.5 2224.4h36.1v6.5h-36.1zM433.3 2224.4h36.1v6.5h-36.1zM546.5 2224.4h36.1v6.5h-36.1zM659.8 2224.4h36.1v6.5h-36.1zM697.5 2224.4h36.1v6.5h-36.1zM735.3 2224.4h36.1v6.5h-36.1zM810.8 2224.4h36.1v6.5h-36.1zM999.6 2224.4h36.1v6.5h-36.1zM1037.3 2224.4h36.1v6.5h-36.1zM1075.1 2224.4h36.1v6.5h-36.1zM1188.3 2224.4h36.1v6.5h-36.1zM206.8 2232.5h36.1v6.5h-36.1zM244.5 2232.5h36.1v6.5h-36.1zM282.3 2232.5h36.1v6.5h-36.1zM433.3 2232.5h36.1v6.5h-36.1zM546.5 2232.5h36.1v6.5h-36.1zM622.0 2232.5h36.1v6.5h-36.1zM659.8 2232.5h36.1v6.5h-36.1zM697.5 2232.5h36.1v6.5h-36.1zM924.1 2232.5h36.1v6.5h-36.1zM131.2 2240.6h36.1v6.5h-36.1zM244.5 2240.6h36.1v6.5h-36.1zM622.0 2240.6h36.1v6.5h-36.1zM659.8 2240.6h36.1v6.5h-36.1zM773.1 2240.6h36.1v6.5h-36.1zM1188.3 2240.6h36.1v6.5h-36.1zM282.3 2248.7h36.1v6.5h-36.1zM395.5 2248.7h36.1v6.5h-36.1zM735.3 2248.7h36.1v6.5h-36.1zM848.6 2248.7h36.1v6.5h-36.1zM999.6 2248.7h36.1v6.5h-36.1zM1226.1 2248.7h36.1v6.5h-36.1z"/><path fill="#ffc4c4" d="M206.8 1008.3h36.1v6.5h-36.1zM244.5 1008.3h36.1v6.5h-36.1zM659.8 1008.3h36.1v6.5h-36.1zM848.6 1008.3h36.1v6.5h-36.1zM169.0 1016.4h36.1v6.5h-36.1zM320.0 1016.4h36.1v6.5h-36.1zM508.8 1016.4h36.1v6.5h-36.1zM584.3 1016.4h36.1v6.5h-36.1zM169.0 1024.5h36.1v6.5h-36.1zM244.5 1024.5h36.1v6.5h-36.1zM848.6 1024.5h36.1v6.5h-36.1zM886.3 1024.5h36.1v6.5h-36.1zM131.2 1032.6h36.1v6.5h-36.1zM131.2 1040.7h36.1v6.5h-36.1zM169.0 1040.7h36.1v6.5h-36.1zM282.3 1040.7h36.1v6.5h-36.1zM357.8 1040.7h36.1v6.5h-36.1zM508.8 1040.7h36.1v6.5h-36.1zM131.2 1048.8h36.1v6.5h-36.1zM169.0 1048.8h36.1v6.5h-36.1zM206.8 1048.8h36.1v6.5h-36.1zM320.0 1048.8h36.1v6.5h-36.1zM508.8 1048.8h36.1v6.5h-36.1zM622.0 1048.8h36.1v6.5h-36.1zM508.8 1056.9h36.1v6.5h-36.1zM810.8 1056.9h36.1v6.5h-36.1zM848.6 1056.9h36.1v6.5h-36.1zM131.2 1065.0h36.1v6.5h-36.1zM206.8 1065.0h36.1v6.5h-36.1zM508.8 1065.0h36.1v6.5h-36.1zM622.0 1065.0h36.1v6.5h-36.1zM773.1 1065.0h36.1v6.5h-36.1zM810.8 1065.0h36.1v6.5h-36.1zM848.6 1065.0h36.1v6.5h-36.1zM1188.3 1065.0h36.1v6.5h-36.1zM131.2 1073.2h36.1v6.5h-36.1zM169.0 1073.2h36.1v6.5h-36.1zM508.8 1073.2h36.1v6.5h-36.1zM584.3 1073.2h36.1v6.5h-36.1zM622.0 1073.2h36.1v6.5h-36.1zM697.5 1073.2h36.1v6.5h-36.1zM773.1 1073.2h36.1v6.5h-36.1zM131.2 1081.3h36.1v6.5h-36.1zM546.5 1081.3h36.1v6.5h-36.1zM622.0 1081.3h36.1v6.5h-36.1zM131.2 1089.4h36.1v6.5h-36.1zM169.0 1089.4h36.1v6.5h-36.1zM433.3 1089.4h36.1v6.5h-36.1zM584.3 1089.4h36.1v6.5h-36.1zM1075.1 1089.4h36.1v6.5h-36.1zM1112.8 1089.4h36.1v6.5h-36.1zM131.2 1097.5h36.1v6.5h-36.1zM169.0 1097.5h36.1v6.5h-36.1zM282.3 1097.5h36.1v6.5h-36.1zM471.0 1097.5h36.1v6.5h-36.1zM508.8 1097.5h36.1v6.5h-36.1zM584.3 1097.5h36.1v6.5h-36.1zM773.1 1097.5h36.1v6.5h-36.1zM886.3 1097.5h36.1v6.5h-36.1zM1037.3 1097.5h36.1v6.5h-36.1zM1112.8 1097.5h36.1v6.5h-36.1zM320.0 1105.6h36.1v6.5h-36.1zM357.8 1105.6h36.1v6.5h-36.1zM395.5 1105.6h36.1v6.5h-36.1zM433.3 1105.6h36.1v6.5h-36.1zM546.5 1105.6h36.1v6.5h-36.1zM697.5 1105.6h36.1v6.5h-36.1zM773.1 1105.6h36.1v6.5h-36.1zM206.8 1113.7h36.1v6.5h-36.1zM282.3 1113.7h36.1v6.5h-36.1zM357.8 1113.7h36.1v6.5h-36.1zM395.5 1113.7h36.1v6.5h-36.1zM508.8 1113.7h36.1v6.5h-36.1zM584.3 1113.7h36.1v6.5h-36.1zM810.8 1113.7h36.1v6.5h-36.1zM206.8 1121.8h36.1v6.5h-36.1zM282.3 1121.8h36.1v6.5h-36.1zM357.8 1121.8h36.1v6.5h-36.1zM471.0 1121.8h36.1v6.5h-36.1zM622.0 1121.8h36.1v6.5h-36.1zM1037.3 1121.8h36.1v6.5h-36.1zM320.0 1129.9h36.1v6.5h-36.1zM433.3 1129.9h36.1v6.5h-36.1zM508.8 1129.9h36.1v6.5h-36.1zM697.5 1129.9h36.1v6.5h-36.1zM282.3 1138.0h36.1v6.5h-36.1zM320.0 1138.0h36.1v6.5h-36.1zM357.8 1138.0h36.1v6.5h-36.1zM508.8 1138.0h36.1v6.5h-36.1zM622.0 1138.0h36.1v6.5h-36.1zM697.5 1138.0h36.1v6.5h-36.1zM810.8 1138.0h36.1v6.5h-36.1zM848.6 1138.0h36.1v6.5h-36.1zM320.0 1146.1h36.1v6.5h-36.1zM433.3 1146.1h36.1v6.5h-36.1zM508.8 1146.1h36.1v6.5h-36.1zM697.5 1146.1h36.1v6.5h-36.1zM773.1 1146.1h36.1v6.5h-36.1zM810.8 1146.1h36.1v6.5h-36.1zM508.8 1154.2h36.1v6.5h-36.1zM622.0 1154.2h36.1v6.5h-36.1zM169.0 1162.3h36.1v6.5h-36.1zM282.3 1162.3h36.1v6.5h-36.1zM320.0 1162.3h36.1v6.5h-36.1zM508.8 1162.3h36.1v6.5h-36.1zM697.5 1162.3h36.1v6.5h-36.1zM848.6 1162.3h36.1v6.5h-36.1zM1150.6 1162.3h36.1v6.5h-36.1zM169.0 1170.4h36.1v6.5h-36.1zM206.8 1170.4h36.1v6.5h-36.1zM320.0 1170.4h36.1v6.5h-36.1zM357.8 1170.4h36.1v6.5h-36.1zM848.6 1170.4h36.1v6.5h-36.1zM131.2 1178.5h36.1v6.5h-36.1zM282.3 1178.5h36.1v6.5h-36.1zM320.0 1178.5h36.1v6.5h-36.1zM471.0 1178.5h36.1v6.5h-36.1zM1112.8 1178.5h36.1v6.5h-36.1zM131.2 1186.7h36.1v6.5h-36.1zM471.0 1186.7h36.1v6.5h-36.1zM1112.8 1186.7h36.1v6.5h-36.1zM131.2 1194.8h36.1v6.5h-36.1zM169.0 1194.8h36.1v6.5h-36.1zM282.3 1194.8h36.1v6.5h-36.1zM357.8 1194.8h36.1v6.5h-36.1zM622.0 1194.8h36.1v6.5h-36.1zM773.1 1194.8h36.1v6.5h-36.1zM244.5 1202.9h36.1v6.5h-36.1zM659.8 1202.9h36.1v6.5h-36.1zM320.0 1211.0h36.1v6.5h-36.1zM659.8 1211.0h36.1v6.5h-36.1zM697.5 1211.0h36.1v6.5h-36.1zM773.1 1219.1h36.1v6.5h-36.1zM206.8 1227.2h36.1v6.5h-36.1zM244.5 1227.2h36.1v6.5h-36.1zM659.8 1227.2h36.1v6.5h-36.1zM1037.3 1227.2h36.1v6.5h-36.1zM1112.8 1227.2h36.1v6.5h-36.1zM169.0 1235.3h36.1v6.5h-36.1zM244.5 1235.3h36.1v6.5h-36.1zM320.0 1235.3h36.1v6.5h-36.1zM357.8 1235.3h36.1v6.5h-36.1zM697.5 1235.3h36.1v6.5h-36.1zM169.0 1243.4h36.1v6.5h-36.1zM320.0 1243.4h36.1v6.5h-36.1zM471.0 1243.4h36.1v6.5h-36.1zM848.6 1243.4h36.1v6.5h-36.1zM206.8 1251.5h36.1v6.5h-36.1zM546.5 1251.5h36.1v6.5h-36.1zM659.8 1251.5h36.1v6.5h-36.1zM697.5 1251.5h36.1v6.5h-36.1zM131.2 1259.6h36.1v6.5h-36.1zM357.8 1259.6h36.1v6.5h-36.1zM471.0 1259.6h36.1v6.5h-36.1zM546.5 1259.6h36.1v6.5h-36.1zM1112.8 1259.6h36.1v6.5h-36.1zM131.2 1267.7h36.1v6.5h-36.1zM206.8 1267.7h36.1v6.5h-36.1zM357.8 1267.7h36.1v6.5h-36.1zM508.8 1267.7h36.1v6.5h-36.1zM546.5 1267.7h36.1v6.5h-36.1zM584.3 1267.7h36.1v6.5h-36.1zM622.0 1267.7h36.1v6.5h-36.1zM773.1 1267.7h36.1v6.5h-36.1zM206.8 1275.8h36.1v6.5h-36.1zM244.5 1275.8h36.1v6.5h-36.1zM357.8 1275.8h36.1v6.5h-36.1zM433.3 1275.8h36.1v6.5h-36.1zM848.6 1275.8h36.1v6.5h-36.1zM1037.3 1275.8h36.1v6.5h-36.1zM131.2 1283.9h36.1v6.5h-36.1zM357.8 1283.9h36.1v6.5h-36.1zM848.6 1283.9h36.1v6.5h-36.1zM1037.3 1283.9h36.1v6.5h-36.1zM1112.8 1283.9h36.1v6.5h-36.1zM131.2 1292.0h36.1v6.5h-36.1zM357.8 1292.0h36.1v6.5h-36.1zM1037.3 1292.0h36.1v6.5h-36.1zM1112.8 1292.0h36.1v6.5h-36.1zM169.0 1300.2h36.1v6.5h-36.1zM320.0 1300.2h36.1v6.5h-36.1zM546.5 1300.2h36.1v6.5h-36.1zM1037.3 1300.2h36.1v6.5h-36.1zM244.5 1308.3h36.1v6.5h-36.1zM282.3 1308.3h36.1v6.5h-36.1zM546.5 1308.3h36.1v6.5h-36.1zM773.1 1308.3h36.1v6.5h-36.1zM1037.3 1308.3h36.1v6.5h-36.1zM244.5 1316.4h36.1v6.5h-36.1zM357.8 1316.4h36.1v6.5h-36.1zM433.3 1316.4h36.1v6.5h-36.1zM622.0 1316.4h36.1v6.5h-36.1zM999.6 1316.4h36.1v6.5h-36.1zM244.5 1324.5h36.1v6.5h-36.1zM282.3 1324.5h36.1v6.5h-36.1zM546.5 1324.5h36.1v6.5h-36.1zM697.5 1324.5h36.1v6.5h-36.1zM1226.1 1324.5h36.1v6.5h-36.1zM131.2 1332.6h36.1v6.5h-36.1zM546.5 1332.6h36.1v6.5h-36.1zM622.0 1332.6h36.1v6.5h-36.1zM773.1 1332.6h36.1v6.5h-36.1zM961.8 1332.6h36.1v6.5h-36.1zM131.2 1340.7h36.1v6.5h-36.1zM357.8 1340.7h36.1v6.5h-36.1zM546.5 1340.7h36.1v6.5h-36.1zM584.3 1340.7h36.1v6.5h-36.1zM622.0 1340.7h36.1v6.5h-36.1zM131.2 1348.8h36.1v6.5h-36.1zM244.5 1348.8h36.1v6.5h-36.1zM395.5 1348.8h36.1v6.5h-36.1zM584.3 1348.8h36.1v6.5h-36.1zM773.1 1348.8h36.1v6.5h-36.1zM924.1 1348.8h36.1v6.5h-36.1zM1226.1 1348.8h36.1v6.5h-36.1zM131.2 1356.9h36.1v6.5h-36.1zM357.8 1356.9h36.1v6.5h-36.1zM433.3 1356.9h36.1v6.5h-36.1zM471.0 1356.9h36.1v6.5h-36.1zM546.5 1356.9h36.1v6.5h-36.1zM622.0 1356.9h36.1v6.5h-36.1zM773.1 1356.9h36.1v6.5h-36.1zM848.6 1356.9h36.1v6.5h-36.1zM169.0 1365.0h36.1v6.5h-36.1zM471.0 1365.0h36.1v6.5h-36.1zM546.5 1365.0h36.1v6.5h-36.1zM697.5 1365.0h36.1v6.5h-36.1zM320.0 1373.1h36.1v6.5h-36.1zM433.3 1373.1h36.1v6.5h-36.1zM471.0 1373.1h36.1v6.5h-36.1zM508.8 1373.1h36.1v6.5h-36.1zM961.8 1373.1h36.1v6.5h-36.1zM1188.3 1373.1h36.1v6.5h-36.1zM131.2 1381.2h36.1v6.5h-36.1zM282.3 1381.2h36.1v6.5h-36.1zM433.3 1381.2h36.1v6.5h-36.1zM848.6 1381.2h36.1v6.5h-36.1zM1075.1 1381.2h36.1v6.5h-36.1zM395.5 1389.3h36.1v6.5h-36.1zM433.3 1389.3h36.1v6.5h-36.1zM471.0 1389.3h36.1v6.5h-36.1zM508.8 1389.3h36.1v6.5h-36.1zM546.5 1389.3h36.1v6.5h-36.1zM659.8 1389.3h36.1v6.5h-36.1zM697.5 1389.3h36.1v6.5h-36.1zM244.5 1397.4h36.1v6.5h-36.1zM282.3 1397.4h36.1v6.5h-36.1zM395.5 1397.4h36.1v6.5h-36.1zM433.3 1397.4h36.1v6.5h-36.1zM546.5 1397.4h36.1v6.5h-36.1zM169.0 1405.5h36.1v6.5h-36.1zM244.5 1405.5h36.1v6.5h-36.1zM282.3 1405.5h36.1v6.5h-36.1zM320.0 1405.5h36.1v6.5h-36.1zM395.5 1405.5h36.1v6.5h-36.1zM508.8 1405.5h36.1v6.5h-36.1zM546.5 1405.5h36.1v6.5h-36.1zM584.3 1405.5h36.1v6.5h-36.1zM697.5 1405.5h36.1v6.5h-36.1zM848.6 1405.5h36.1v6.5h-36.1zM999.6 1405.5h36.1v6.5h-36.1zM244.5 1413.7h36.1v6.5h-36.1zM282.3 1413.7h36.1v6.5h-36.1zM395.5 1413.7h36.1v6.5h-36.1zM659.8 1413.7h36.1v6.5h-36.1zM886.3 1413.7h36.1v6.5h-36.1zM206.8 1421.8h36.1v6.5h-36.1zM282.3 1421.8h36.1v6.5h-36.1zM320.0 1421.8h36.1v6.5h-36.1zM357.8 1421.8h36.1v6.5h-36.1zM471.0 1421.8h36.1v6.5h-36.1zM659.8 1421.8h36.1v6.5h-36.1zM1226.1 1421.8h36.1v6.5h-36.1zM244.5 1429.9h36.1v6.5h-36.1zM433.3 1429.9h36.1v6.5h-36.1zM810.8 1429.9h36.1v6.5h-36.1zM886.3 1429.9h36.1v6.5h-36.1zM961.8 1429.9h36.1v6.5h-36.1zM1226.1 1429.9h36.1v6.5h-36.1zM584.3 1438.0h36.1v6.5h-36.1zM1226.1 1438.0h36.1v6.5h-36.1zM395.5 1446.1h36.1v6.5h-36.1zM433.3 1446.1h36.1v6.5h-36.1zM697.5 1446.1h36.1v6.5h-36.1zM1037.3 1446.1h36.1v6.5h-36.1zM206.8 1454.2h36.1v6.5h-36.1zM357.8 1454.2h36.1v6.5h-36.1zM433.3 1454.2h36.1v6.5h-36.1zM471.0 1454.2h36.1v6.5h-36.1zM508.8 1454.2h36.1v6.5h-36.1zM848.6 1454.2h36.1v6.5h-36.1zM433.3 1462.3h36.1v6.5h-36.1zM508.8 1462.3h36.1v6.5h-36.1zM546.5 1462.3h36.1v6.5h-36.1zM999.6 1462.3h36.1v6.5h-36.1zM1112.8 1462.3h36.1v6.5h-36.1zM244.5 1470.4h36.1v6.5h-36.1zM810.8 1470.4h36.1v6.5h-36.1zM1075.1 1470.4h36.1v6.5h-36.1zM131.2 1478.5h36.1v6.5h-36.1zM546.5 1478.5h36.1v6.5h-36.1zM697.5 1478.5h36.1v6.5h-36.1zM961.8 1478.5h36.1v6.5h-36.1zM1037.3 1478.5h36.1v6.5h-36.1zM1075.1 1478.5h36.1v6.5h-36.1zM1188.3 1478.5h36.1v6.5h-36.1zM1226.1 1478.5h36.1v6.5h-36.1zM131.2 1486.6h36.1v6.5h-36.1zM697.5 1486.6h36.1v6.5h-36.1zM735.3 1486.6h36.1v6.5h-36.1zM244.5 1494.7h36.1v6.5h-36.1zM659.8 1494.7h36.1v6.5h-36.1zM773.1 1494.7h36.1v6.5h-36.1zM810.8 1494.7h36.1v6.5h-36.1zM886.3 1494.7h36.1v6.5h-36.1zM924.1 1494.7h36.1v6.5h-36.1zM961.8 1494.7h36.1v6.5h-36.1zM1075.1 1494.7h36.1v6.5h-36.1zM244.5 1502.8h36.1v6.5h-36.1zM735.3 1502.8h36.1v6.5h-36.1zM924.1 1502.8h36.1v6.5h-36.1zM1075.1 1502.8h36.1v6.5h-36.1zM735.3 1510.9h36.1v6.5h-36.1zM848.6 1510.9h36.1v6.5h-36.1zM886.3 1510.9h36.1v6.5h-36.1zM1075.1 1510.9h36.1v6.5h-36.1zM244.5 1519.0h36.1v6.5h-36.1zM546.5 1519.0h36.1v6.5h-36.1zM924.1 1519.0h36.1v6.5h-36.1zM1075.1 1519.0h36.1v6.5h-36.1zM206.8 1527.2h36.1v6.5h-36.1zM244.5 1527.2h36.1v6.5h-36.1zM433.3 1527.2h36.1v6.5h-36.1zM659.8 1527.2h36.1v6.5h-36.1zM735.3 1527.2h36.1v6.5h-36.1zM924.1 1527.2h36.1v6.5h-36.1zM999.6 1527.2h36.1v6.5h-36.1zM1037.3 1527.2h36.1v6.5h-36.1zM320.0 1535.3h36.1v6.5h-36.1zM622.0 1535.3h36.1v6.5h-36.1zM924.1 1535.3h36.1v6.5h-36.1zM1037.3 1535.3h36.1v6.5h-36.1zM1075.1 1535.3h36.1v6.5h-36.1zM1112.8 1535.3h36.1v6.5h-36.1zM1188.3 1535.3h36.1v6.5h-36.1zM169.0 1543.4h36.1v6.5h-36.1zM622.0 1543.4h36.1v6.5h-36.1zM773.1 1543.4h36.1v6.5h-36.1zM999.6 1543.4h36.1v6.5h-36.1zM1037.3 1543.4h36.1v6.5h-36.1zM1075.1 1543.4h36.1v6.5h-36.1zM1112.8 1543.4h36.1v6.5h-36.1zM1150.6 1543.4h36.1v6.5h-36.1zM1188.3 1543.4h36.1v6.5h-36.1zM206.8 1551.5h36.1v6.5h-36.1zM282.3 1551.5h36.1v6.5h-36.1zM848.6 1551.5h36.1v6.5h-36.1zM1037.3 1551.5h36.1v6.5h-36.1zM924.1 1559.6h36.1v6.5h-36.1zM961.8 1559.6h36.1v6.5h-36.1zM1075.1 1559.6h36.1v6.5h-36.1zM924.1 1567.7h36.1v6.5h-36.1zM1075.1 1567.7h36.1v6.5h-36.1zM1112.8 1567.7h36.1v6.5h-36.1zM773.1 1575.8h36.1v6.5h-36.1zM886.3 1575.8h36.1v6.5h-36.1zM924.1 1575.8h36.1v6.5h-36.1zM961.8 1575.8h36.1v6.5h-36.1zM1075.1 1575.8h36.1v6.5h-36.1zM1112.8 1575.8h36.1v6.5h-36.1zM206.8 1583.9h36.1v6.5h-36.1zM508.8 1583.9h36.1v6.5h-36.1zM697.5 1583.9h36.1v6.5h-36.1zM735.3 1583.9h36.1v6.5h-36.1zM848.6 1583.9h36.1v6.5h-36.1zM886.3 1583.9h36.1v6.5h-36.1zM961.8 1583.9h36.1v6.5h-36.1zM1075.1 1583.9h36.1v6.5h-36.1zM1112.8 1583.9h36.1v6.5h-36.1zM697.5 1592.0h36.1v6.5h-36.1zM848.6 1592.0h36.1v6.5h-36.1zM886.3 1592.0h36.1v6.5h-36.1zM924.1 1592.0h36.1v6.5h-36.1zM1112.8 1592.0h36.1v6.5h-36.1zM1150.6 1592.0h36.1v6.5h-36.1zM848.6 1600.1h36.1v6.5h-36.1zM1150.6 1600.1h36.1v6.5h-36.1zM848.6 1608.2h36.1v6.5h-36.1zM1037.3 1608.2h36.1v6.5h-36.1zM1075.1 1608.2h36.1v6.5h-36.1zM1188.3 1608.2h36.1v6.5h-36.1zM244.5 1616.3h36.1v6.5h-36.1zM848.6 1616.3h36.1v6.5h-36.1zM1188.3 1616.3h36.1v6.5h-36.1zM244.5 1624.4h36.1v6.5h-36.1zM697.5 1624.4h36.1v6.5h-36.1zM810.8 1624.4h36.1v6.5h-36.1zM886.3 1624.4h36.1v6.5h-36.1zM1075.1 1624.4h36.1v6.5h-36.1zM1188.3 1624.4h36.1v6.5h-36.1zM131.2 1632.5h36.1v6.5h-36.1zM320.0 1632.5h36.1v6.5h-36.1zM697.5 1632.5h36.1v6.5h-36.1zM810.8 1632.5h36.1v6.5h-36.1zM886.3 1632.5h36.1v6.5h-36.1zM999.6 1632.5h36.1v6.5h-36.1zM1075.1 1632.5h36.1v6.5h-36.1zM1150.6 1632.5h36.1v6.5h-36.1zM131.2 1640.7h36.1v6.5h-36.1zM584.3 1640.7h36.1v6.5h-36.1zM622.0 1640.7h36.1v6.5h-36.1zM773.1 1640.7h36.1v6.5h-36.1zM924.1 1640.7h36.1v6.5h-36.1zM999.6 1640.7h36.1v6.5h-36.1zM1188.3 1640.7h36.1v6.5h-36.1zM773.1 1648.8h36.1v6.5h-36.1zM961.8 1648.8h36.1v6.5h-36.1zM999.6 1648.8h36.1v6.5h-36.1zM1037.3 1648.8h36.1v6.5h-36.1zM1112.8 1648.8h36.1v6.5h-36.1zM131.2 1656.9h36.1v6.5h-36.1zM886.3 1656.9h36.1v6.5h-36.1zM1075.1 1656.9h36.1v6.5h-36.1zM546.5 1665.0h36.1v6.5h-36.1zM584.3 1665.0h36.1v6.5h-36.1zM999.6 1665.0h36.1v6.5h-36.1zM1075.1 1665.0h36.1v6.5h-36.1zM244.5 1673.1h36.1v6.5h-36.1zM848.6 1673.1h36.1v6.5h-36.1zM886.3 1673.1h36.1v6.5h-36.1zM1075.1 1673.1h36.1v6.5h-36.1zM131.2 1681.2h36.1v6.5h-36.1zM735.3 1681.2h36.1v6.5h-36.1zM773.1 1681.2h36.1v6.5h-36.1zM886.3 1681.2h36.1v6.5h-36.1zM1075.1 1681.2h36.1v6.5h-36.1zM1226.1 1681.2h36.1v6.5h-36.1zM357.8 1689.3h36.1v6.5h-36.1zM773.1 1689.3h36.1v6.5h-36.1zM848.6 1689.3h36.1v6.5h-36.1zM1075.1 1689.3h36.1v6.5h-36.1zM131.2 1697.4h36.1v6.5h-36.1zM282.3 1697.4h36.1v6.5h-36.1zM357.8 1697.4h36.1v6.5h-36.1zM735.3 1697.4h36.1v6.5h-36.1zM810.8 1697.4h36.1v6.5h-36.1zM999.6 1697.4h36.1v6.5h-36.1zM1075.1 1697.4h36.1v6.5h-36.1zM1226.1 1697.4h36.1v6.5h-36.1zM131.2 1705.5h36.1v6.5h-36.1zM357.8 1705.5h36.1v6.5h-36.1zM659.8 1705.5h36.1v6.5h-36.1zM848.6 1705.5h36.1v6.5h-36.1zM961.8 1705.5h36.1v6.5h-36.1zM1226.1 1705.5h36.1v6.5h-36.1zM282.3 1713.6h36.1v6.5h-36.1zM395.5 1713.6h36.1v6.5h-36.1zM735.3 1713.6h36.1v6.5h-36.1zM810.8 1713.6h36.1v6.5h-36.1zM735.3 1721.7h36.1v6.5h-36.1zM886.3 1721.7h36.1v6.5h-36.1zM1226.1 1721.7h36.1v6.5h-36.1zM244.5 1729.8h36.1v6.5h-36.1zM395.5 1729.8h36.1v6.5h-36.1zM433.3 1729.8h36.1v6.5h-36.1zM546.5 1729.8h36.1v6.5h-36.1zM735.3 1729.8h36.1v6.5h-36.1zM773.1 1729.8h36.1v6.5h-36.1zM886.3 1729.8h36.1v6.5h-36.1zM924.1 1729.8h36.1v6.5h-36.1zM999.6 1729.8h36.1v6.5h-36.1zM1226.1 1729.8h36.1v6.5h-36.1zM433.3 1737.9h36.1v6.5h-36.1zM697.5 1737.9h36.1v6.5h-36.1zM735.3 1737.9h36.1v6.5h-36.1zM773.1 1737.9h36.1v6.5h-36.1zM848.6 1737.9h36.1v6.5h-36.1zM924.1 1737.9h36.1v6.5h-36.1zM1037.3 1737.9h36.1v6.5h-36.1zM1150.6 1737.9h36.1v6.5h-36.1zM697.5 1746.0h36.1v6.5h-36.1zM735.3 1746.0h36.1v6.5h-36.1zM773.1 1746.0h36.1v6.5h-36.1zM886.3 1746.0h36.1v6.5h-36.1zM1037.3 1746.0h36.1v6.5h-36.1zM1226.1 1746.0h36.1v6.5h-36.1zM244.5 1754.2h36.1v6.5h-36.1zM357.8 1754.2h36.1v6.5h-36.1zM395.5 1754.2h36.1v6.5h-36.1zM735.3 1754.2h36.1v6.5h-36.1zM773.1 1754.2h36.1v6.5h-36.1zM848.6 1754.2h36.1v6.5h-36.1zM886.3 1754.2h36.1v6.5h-36.1zM924.1 1754.2h36.1v6.5h-36.1zM961.8 1754.2h36.1v6.5h-36.1zM999.6 1754.2h36.1v6.5h-36.1zM1075.1 1754.2h36.1v6.5h-36.1zM1226.1 1754.2h36.1v6.5h-36.1zM131.2 1762.3h36.1v6.5h-36.1zM395.5 1762.3h36.1v6.5h-36.1zM433.3 1762.3h36.1v6.5h-36.1zM659.8 1762.3h36.1v6.5h-36.1zM735.3 1762.3h36.1v6.5h-36.1zM924.1 1762.3h36.1v6.5h-36.1zM999.6 1762.3h36.1v6.5h-36.1zM1075.1 1762.3h36.1v6.5h-36.1zM1226.1 1762.3h36.1v6.5h-36.1zM433.3 1770.4h36.1v6.5h-36.1zM735.3 1770.4h36.1v6.5h-36.1zM773.1 1770.4h36.1v6.5h-36.1zM886.3 1770.4h36.1v6.5h-36.1zM924.1 1770.4h36.1v6.5h-36.1zM1075.1 1770.4h36.1v6.5h-36.1zM433.3 1778.5h36.1v6.5h-36.1zM659.8 1778.5h36.1v6.5h-36.1zM848.6 1778.5h36.1v6.5h-36.1zM886.3 1778.5h36.1v6.5h-36.1zM1150.6 1778.5h36.1v6.5h-36.1zM131.2 1786.6h36.1v6.5h-36.1zM395.5 1786.6h36.1v6.5h-36.1zM773.1 1786.6h36.1v6.5h-36.1zM848.6 1786.6h36.1v6.5h-36.1zM924.1 1786.6h36.1v6.5h-36.1zM961.8 1786.6h36.1v6.5h-36.1zM999.6 1786.6h36.1v6.5h-36.1zM1188.3 1786.6h36.1v6.5h-36.1zM1226.1 1786.6h36.1v6.5h-36.1zM395.5 1794.7h36.1v6.5h-36.1zM546.5 1794.7h36.1v6.5h-36.1zM735.3 1794.7h36.1v6.5h-36.1zM773.1 1794.7h36.1v6.5h-36.1zM924.1 1794.7h36.1v6.5h-36.1zM961.8 1794.7h36.1v6.5h-36.1zM1037.3 1794.7h36.1v6.5h-36.1zM1112.8 1794.7h36.1v6.5h-36.1zM1226.1 1794.7h36.1v6.5h-36.1zM395.5 1802.8h36.1v6.5h-36.1zM735.3 1802.8h36.1v6.5h-36.1zM924.1 1802.8h36.1v6.5h-36.1zM1075.1 1802.8h36.1v6.5h-36.1zM1188.3 1802.8h36.1v6.5h-36.1zM1226.1 1802.8h36.1v6.5h-36.1zM735.3 1810.9h36.1v6.5h-36.1zM924.1 1810.9h36.1v6.5h-36.1zM1226.1 1810.9h36.1v6.5h-36.1zM735.3 1819.0h36.1v6.5h-36.1zM848.6 1819.0h36.1v6.5h-36.1zM1226.1 1819.0h36.1v6.5h-36.1zM282.3 1827.1h36.1v6.5h-36.1zM395.5 1827.1h36.1v6.5h-36.1zM735.3 1827.1h36.1v6.5h-36.1zM848.6 1827.1h36.1v6.5h-36.1zM886.3 1827.1h36.1v6.5h-36.1zM1037.3 1827.1h36.1v6.5h-36.1zM1075.1 1827.1h36.1v6.5h-36.1zM244.5 1835.2h36.1v6.5h-36.1zM282.3 1835.2h36.1v6.5h-36.1zM471.0 1835.2h36.1v6.5h-36.1zM735.3 1835.2h36.1v6.5h-36.1zM848.6 1835.2h36.1v6.5h-36.1zM886.3 1835.2h36.1v6.5h-36.1zM961.8 1835.2h36.1v6.5h-36.1zM1037.3 1835.2h36.1v6.5h-36.1zM1075.1 1835.2h36.1v6.5h-36.1zM1188.3 1835.2h36.1v6.5h-36.1zM886.3 1843.3h36.1v6.5h-36.1zM1112.8 1843.3h36.1v6.5h-36.1zM433.3 1851.4h36.1v6.5h-36.1zM584.3 1851.4h36.1v6.5h-36.1zM735.3 1851.4h36.1v6.5h-36.1zM848.6 1851.4h36.1v6.5h-36.1zM886.3 1851.4h36.1v6.5h-36.1zM1150.6 1851.4h36.1v6.5h-36.1zM1188.3 1851.4h36.1v6.5h-36.1zM1226.1 1851.4h36.1v6.5h-36.1zM924.1 1859.5h36.1v6.5h-36.1zM1150.6 1859.5h36.1v6.5h-36.1zM1188.3 1859.5h36.1v6.5h-36.1zM244.5 1867.7h36.1v6.5h-36.1zM433.3 1867.7h36.1v6.5h-36.1zM584.3 1867.7h36.1v6.5h-36.1zM1037.3 1867.7h36.1v6.5h-36.1zM1150.6 1867.7h36.1v6.5h-36.1zM1188.3 1867.7h36.1v6.5h-36.1zM244.5 1875.8h36.1v6.5h-36.1zM282.3 1875.8h36.1v6.5h-36.1zM395.5 1875.8h36.1v6.5h-36.1zM848.6 1875.8h36.1v6.5h-36.1zM886.3 1875.8h36.1v6.5h-36.1zM961.8 1875.8h36.1v6.5h-36.1zM1150.6 1875.8h36.1v6.5h-36.1zM282.3 1883.9h36.1v6.5h-36.1zM773.1 1883.9h36.1v6.5h-36.1zM1226.1 1883.9h36.1v6.5h-36.1zM546.5 1892.0h36.1v6.5h-36.1zM773.1 1892.0h36.1v6.5h-36.1zM924.1 1900.1h36.1v6.5h-36.1zM961.8 1900.1h36.1v6.5h-36.1zM999.6 1900.1h36.1v6.5h-36.1zM697.5 1908.2h36.1v6.5h-36.1zM735.3 1908.2h36.1v6.5h-36.1zM810.8 1908.2h36.1v6.5h-36.1zM848.6 1908.2h36.1v6.5h-36.1zM1037.3 1908.2h36.1v6.5h-36.1zM320.0 1916.3h36.1v6.5h-36.1zM697.5 1916.3h36.1v6.5h-36.1zM773.1 1916.3h36.1v6.5h-36.1zM924.1 1916.3h36.1v6.5h-36.1zM1037.3 1916.3h36.1v6.5h-36.1zM1150.6 1916.3h36.1v6.5h-36.1zM320.0 1924.4h36.1v6.5h-36.1zM622.0 1924.4h36.1v6.5h-36.1zM697.5 1924.4h36.1v6.5h-36.1zM773.1 1924.4h36.1v6.5h-36.1zM924.1 1924.4h36.1v6.5h-36.1zM1037.3 1924.4h36.1v6.5h-36.1zM1075.1 1924.4h36.1v6.5h-36.1zM1150.6 1924.4h36.1v6.5h-36.1zM395.5 1932.5h36.1v6.5h-36.1zM433.3 1932.5h36.1v6.5h-36.1zM697.5 1932.5h36.1v6.5h-36.1zM735.3 1932.5h36.1v6.5h-36.1zM848.6 1932.5h36.1v6.5h-36.1zM999.6 1932.5h36.1v6.5h-36.1zM1075.1 1932.5h36.1v6.5h-36.1zM320.0 1940.6h36.1v6.5h-36.1zM659.8 1940.6h36.1v6.5h-36.1zM697.5 1940.6h36.1v6.5h-36.1zM735.3 1940.6h36.1v6.5h-36.1zM810.8 1940.6h36.1v6.5h-36.1zM961.8 1940.6h36.1v6.5h-36.1zM999.6 1940.6h36.1v6.5h-36.1zM1075.1 1940.6h36.1v6.5h-36.1zM1150.6 1940.6h36.1v6.5h-36.1zM1188.3 1940.6h36.1v6.5h-36.1zM131.2 1948.7h36.1v6.5h-36.1zM546.5 1948.7h36.1v6.5h-36.1zM735.3 1948.7h36.1v6.5h-36.1zM886.3 1948.7h36.1v6.5h-36.1zM1037.3 1948.7h36.1v6.5h-36.1zM1075.1 1948.7h36.1v6.5h-36.1zM131.2 1956.8h36.1v6.5h-36.1zM244.5 1956.8h36.1v6.5h-36.1zM471.0 1956.8h36.1v6.5h-36.1zM886.3 1956.8h36.1v6.5h-36.1zM961.8 1956.8h36.1v6.5h-36.1zM1075.1 1956.8h36.1v6.5h-36.1zM697.5 1964.9h36.1v6.5h-36.1zM999.6 1964.9h36.1v6.5h-36.1zM1037.3 1964.9h36.1v6.5h-36.1zM1226.1 1964.9h36.1v6.5h-36.1zM924.1 1973.0h36.1v6.5h-36.1zM433.3 1981.2h36.1v6.5h-36.1zM584.3 1981.2h36.1v6.5h-36.1zM735.3 1981.2h36.1v6.5h-36.1zM848.6 1981.2h36.1v6.5h-36.1zM1075.1 1981.2h36.1v6.5h-36.1zM1226.1 1981.2h36.1v6.5h-36.1zM206.8 1989.3h36.1v6.5h-36.1zM433.3 1989.3h36.1v6.5h-36.1zM622.0 1989.3h36.1v6.5h-36.1zM735.3 1989.3h36.1v6.5h-36.1zM773.1 1989.3h36.1v6.5h-36.1zM1037.3 1989.3h36.1v6.5h-36.1zM1075.1 1989.3h36.1v6.5h-36.1zM1188.3 1989.3h36.1v6.5h-36.1zM244.5 1997.4h36.1v6.5h-36.1zM622.0 1997.4h36.1v6.5h-36.1zM773.1 1997.4h36.1v6.5h-36.1zM1037.3 1997.4h36.1v6.5h-36.1zM1075.1 1997.4h36.1v6.5h-36.1zM1188.3 1997.4h36.1v6.5h-36.1zM1226.1 1997.4h36.1v6.5h-36.1zM131.2 2005.5h36.1v6.5h-36.1zM357.8 2005.5h36.1v6.5h-36.1zM886.3 2005.5h36.1v6.5h-36.1zM1075.1 2005.5h36.1v6.5h-36.1zM1188.3 2005.5h36.1v6.5h-36.1zM131.2 2013.6h36.1v6.5h-36.1zM244.5 2013.6h36.1v6.5h-36.1zM546.5 2013.6h36.1v6.5h-36.1zM622.0 2013.6h36.1v6.5h-36.1zM886.3 2013.6h36.1v6.5h-36.1zM1075.1 2013.6h36.1v6.5h-36.1zM924.1 2021.7h36.1v6.5h-36.1zM1037.3 2021.7h36.1v6.5h-36.1zM1075.1 2021.7h36.1v6.5h-36.1zM282.3 2029.8h36.1v6.5h-36.1zM924.1 2029.8h36.1v6.5h-36.1zM244.5 2037.9h36.1v6.5h-36.1zM433.3 2037.9h36.1v6.5h-36.1zM735.3 2037.9h36.1v6.5h-36.1zM886.3 2037.9h36.1v6.5h-36.1zM924.1 2037.9h36.1v6.5h-36.1zM1037.3 2037.9h36.1v6.5h-36.1zM1075.1 2037.9h36.1v6.5h-36.1zM1188.3 2037.9h36.1v6.5h-36.1zM735.3 2046.0h36.1v6.5h-36.1zM886.3 2046.0h36.1v6.5h-36.1zM924.1 2046.0h36.1v6.5h-36.1zM961.8 2046.0h36.1v6.5h-36.1zM395.5 2054.1h36.1v6.5h-36.1zM471.0 2054.1h36.1v6.5h-36.1zM735.3 2054.1h36.1v6.5h-36.1zM773.1 2054.1h36.1v6.5h-36.1zM886.3 2054.1h36.1v6.5h-36.1zM961.8 2054.1h36.1v6.5h-36.1zM1188.3 2054.1h36.1v6.5h-36.1zM357.8 2062.2h36.1v6.5h-36.1zM433.3 2062.2h36.1v6.5h-36.1zM886.3 2062.2h36.1v6.5h-36.1zM924.1 2062.2h36.1v6.5h-36.1zM1075.1 2062.2h36.1v6.5h-36.1zM131.2 2070.3h36.1v6.5h-36.1zM773.1 2070.3h36.1v6.5h-36.1zM886.3 2070.3h36.1v6.5h-36.1zM1075.1 2070.3h36.1v6.5h-36.1zM1188.3 2070.3h36.1v6.5h-36.1zM395.5 2078.4h36.1v6.5h-36.1zM508.8 2078.4h36.1v6.5h-36.1zM546.5 2078.4h36.1v6.5h-36.1zM773.1 2078.4h36.1v6.5h-36.1zM886.3 2078.4h36.1v6.5h-36.1zM924.1 2078.4h36.1v6.5h-36.1zM961.8 2078.4h36.1v6.5h-36.1zM999.6 2078.4h36.1v6.5h-36.1zM1075.1 2078.4h36.1v6.5h-36.1zM1150.6 2078.4h36.1v6.5h-36.1zM1188.3 2078.4h36.1v6.5h-36.1zM433.3 2086.6h36.1v6.5h-36.1zM508.8 2086.6h36.1v6.5h-36.1zM546.5 2086.6h36.1v6.5h-36.1zM622.0 2086.6h36.1v6.5h-36.1zM848.6 2086.6h36.1v6.5h-36.1zM924.1 2086.6h36.1v6.5h-36.1zM961.8 2086.6h36.1v6.5h-36.1zM999.6 2086.6h36.1v6.5h-36.1zM1037.3 2086.6h36.1v6.5h-36.1zM1075.1 2086.6h36.1v6.5h-36.1zM1150.6 2086.6h36.1v6.5h-36.1zM1188.3 2086.6h36.1v6.5h-36.1zM1226.1 2086.6h36.1v6.5h-36.1zM886.3 2094.7h36.1v6.5h-36.1zM924.1 2094.7h36.1v6.5h-36.1zM1037.3 2094.7h36.1v6.5h-36.1zM131.2 2102.8h36.1v6.5h-36.1zM320.0 2102.8h36.1v6.5h-36.1zM471.0 2102.8h36.1v6.5h-36.1zM810.8 2102.8h36.1v6.5h-36.1zM924.1 2102.8h36.1v6.5h-36.1zM961.8 2102.8h36.1v6.5h-36.1zM1075.1 2102.8h36.1v6.5h-36.1zM1150.6 2102.8h36.1v6.5h-36.1zM886.3 2110.9h36.1v6.5h-36.1zM924.1 2110.9h36.1v6.5h-36.1zM961.8 2110.9h36.1v6.5h-36.1zM1075.1 2110.9h36.1v6.5h-36.1zM735.3 2119.0h36.1v6.5h-36.1zM924.1 2119.0h36.1v6.5h-36.1zM1188.3 2119.0h36.1v6.5h-36.1zM1226.1 2119.0h36.1v6.5h-36.1zM282.3 2127.1h36.1v6.5h-36.1zM395.5 2127.1h36.1v6.5h-36.1zM433.3 2127.1h36.1v6.5h-36.1zM886.3 2127.1h36.1v6.5h-36.1zM924.1 2127.1h36.1v6.5h-36.1zM999.6 2127.1h36.1v6.5h-36.1zM1188.3 2127.1h36.1v6.5h-36.1zM1226.1 2127.1h36.1v6.5h-36.1zM131.2 2135.2h36.1v6.5h-36.1zM282.3 2135.2h36.1v6.5h-36.1zM395.5 2135.2h36.1v6.5h-36.1zM433.3 2135.2h36.1v6.5h-36.1zM886.3 2135.2h36.1v6.5h-36.1zM924.1 2135.2h36.1v6.5h-36.1zM961.8 2135.2h36.1v6.5h-36.1zM1075.1 2135.2h36.1v6.5h-36.1zM1188.3 2135.2h36.1v6.5h-36.1zM244.5 2143.3h36.1v6.5h-36.1zM395.5 2143.3h36.1v6.5h-36.1zM433.3 2143.3h36.1v6.5h-36.1zM546.5 2143.3h36.1v6.5h-36.1zM735.3 2143.3h36.1v6.5h-36.1zM773.1 2143.3h36.1v6.5h-36.1zM886.3 2143.3h36.1v6.5h-36.1zM961.8 2143.3h36.1v6.5h-36.1zM1150.6 2143.3h36.1v6.5h-36.1zM131.2 2151.4h36.1v6.5h-36.1zM244.5 2151.4h36.1v6.5h-36.1zM433.3 2151.4h36.1v6.5h-36.1zM546.5 2151.4h36.1v6.5h-36.1zM622.0 2151.4h36.1v6.5h-36.1zM735.3 2151.4h36.1v6.5h-36.1zM773.1 2151.4h36.1v6.5h-36.1zM999.6 2151.4h36.1v6.5h-36.1zM1075.1 2151.4h36.1v6.5h-36.1zM1188.3 2151.4h36.1v6.5h-36.1zM131.2 2159.5h36.1v6.5h-36.1zM433.3 2159.5h36.1v6.5h-36.1zM546.5 2159.5h36.1v6.5h-36.1zM735.3 2159.5h36.1v6.5h-36.1zM773.1 2159.5h36.1v6.5h-36.1zM886.3 2159.5h36.1v6.5h-36.1zM244.5 2167.6h36.1v6.5h-36.1zM395.5 2167.6h36.1v6.5h-36.1zM433.3 2167.6h36.1v6.5h-36.1zM546.5 2167.6h36.1v6.5h-36.1zM848.6 2167.6h36.1v6.5h-36.1zM1075.1 2167.6h36.1v6.5h-36.1zM1226.1 2167.6h36.1v6.5h-36.1zM244.5 2175.7h36.1v6.5h-36.1zM395.5 2175.7h36.1v6.5h-36.1zM546.5 2175.7h36.1v6.5h-36.1zM584.3 2175.7h36.1v6.5h-36.1zM659.8 2175.7h36.1v6.5h-36.1zM735.3 2175.7h36.1v6.5h-36.1zM773.1 2175.7h36.1v6.5h-36.1zM924.1 2175.7h36.1v6.5h-36.1zM961.8 2175.7h36.1v6.5h-36.1zM1037.3 2175.7h36.1v6.5h-36.1zM1075.1 2175.7h36.1v6.5h-36.1zM1226.1 2175.7h36.1v6.5h-36.1zM395.5 2183.8h36.1v6.5h-36.1zM735.3 2183.8h36.1v6.5h-36.1zM773.1 2183.8h36.1v6.5h-36.1zM886.3 2183.8h36.1v6.5h-36.1zM924.1 2183.8h36.1v6.5h-36.1zM961.8 2183.8h36.1v6.5h-36.1zM999.6 2183.8h36.1v6.5h-36.1zM1037.3 2183.8h36.1v6.5h-36.1zM1188.3 2183.8h36.1v6.5h-36.1zM1226.1 2183.8h36.1v6.5h-36.1zM131.2 2191.9h36.1v6.5h-36.1zM433.3 2191.9h36.1v6.5h-36.1zM546.5 2191.9h36.1v6.5h-36.1zM659.8 2191.9h36.1v6.5h-36.1zM773.1 2191.9h36.1v6.5h-36.1zM924.1 2191.9h36.1v6.5h-36.1zM961.8 2191.9h36.1v6.5h-36.1zM1037.3 2191.9h36.1v6.5h-36.1zM1150.6 2191.9h36.1v6.5h-36.1zM1188.3 2191.9h36.1v6.5h-36.1zM1226.1 2191.9h36.1v6.5h-36.1zM131.2 2200.1h36.1v6.5h-36.1zM546.5 2200.1h36.1v6.5h-36.1zM659.8 2200.1h36.1v6.5h-36.1zM735.3 2200.1h36.1v6.5h-36.1zM886.3 2200.1h36.1v6.5h-36.1zM924.1 2200.1h36.1v6.5h-36.1zM1188.3 2200.1h36.1v6.5h-36.1zM1226.1 2200.1h36.1v6.5h-36.1zM131.2 2208.2h36.1v6.5h-36.1zM546.5 2208.2h36.1v6.5h-36.1zM622.0 2208.2h36.1v6.5h-36.1zM735.3 2208.2h36.1v6.5h-36.1zM773.1 2208.2h36.1v6.5h-36.1zM886.3 2208.2h36.1v6.5h-36.1zM961.8 2208.2h36.1v6.5h-36.1zM1037.3 2208.2h36.1v6.5h-36.1zM1075.1 2208.2h36.1v6.5h-36.1zM1188.3 2208.2h36.1v6.5h-36.1zM1226.1 2208.2h36.1v6.5h-36.1zM282.3 2216.3h36.1v6.5h-36.1zM546.5 2216.3h36.1v6.5h-36.1zM659.8 2216.3h36.1v6.5h-36.1zM735.3 2216.3h36.1v6.5h-36.1zM773.1 2216.3h36.1v6.5h-36.1zM886.3 2216.3h36.1v6.5h-36.1zM924.1 2216.3h36.1v6.5h-36.1zM961.8 2216.3h36.1v6.5h-36.1zM1075.1 2216.3h36.1v6.5h-36.1zM1188.3 2216.3h36.1v6.5h-36.1zM282.3 2224.4h36.1v6.5h-36.1zM886.3 2224.4h36.1v6.5h-36.1zM924.1 2224.4h36.1v6.5h-36.1zM961.8 2224.4h36.1v6.5h-36.1zM1226.1 2224.4h36.1v6.5h-36.1zM131.2 2232.5h36.1v6.5h-36.1zM584.3 2232.5h36.1v6.5h-36.1zM735.3 2232.5h36.1v6.5h-36.1zM773.1 2232.5h36.1v6.5h-36.1zM886.3 2232.5h36.1v6.5h-36.1zM961.8 2232.5h36.1v6.5h-36.1zM1037.3 2232.5h36.1v6.5h-36.1zM1075.1 2232.5h36.1v6.5h-36.1zM1150.6 2232.5h36.1v6.5h-36.1zM282.3 2240.6h36.1v6.5h-36.1zM395.5 2240.6h36.1v6.5h-36.1zM471.0 2240.6h36.1v6.5h-36.1zM546.5 2240.6h36.1v6.5h-36.1zM886.3 2240.6h36.1v6.5h-36.1zM1037.3 2240.6h36.1v6.5h-36.1zM1075.1 2240.6h36.1v6.5h-36.1zM1150.6 2240.6h36.1v6.5h-36.1zM1226.1 2240.6h36.1v6.5h-36.1zM471.0 2248.7h36.1v6.5h-36.1zM546.5 2248.7h36.1v6.5h-36.1zM659.8 2248.7h36.1v6.5h-36.1zM886.3 2248.7h36.1v6.5h-36.1zM924.1 2248.7h36.1v6.5h-36.1zM961.8 2248.7h36.1v6.5h-36.1zM1037.3 2248.7h36.1v6.5h-36.1zM1150.6 2248.7h36.1v6.5h-36.1zM1188.3 2248.7h36.1v6.5h-36.1z"/><path fill="#8c8cff" d="M282.3 1008.3h36.1v6.5h-36.1zM924.1 1024.5h36.1v6.5h-36.1zM924.1 1032.6h36.1v6.5h-36.1zM433.3 1040.7h36.1v6.5h-36.1zM961.8 1040.7h36.1v6.5h-36.1zM659.8 1048.8h36.1v6.5h-36.1zM999.6 1048.8h36.1v6.5h-36.1zM1112.8 1048.8h36.1v6.5h-36.1zM999.6 1056.9h36.1v6.5h-36.1zM433.3 1073.2h36.1v6.5h-36.1zM999.6 1073.2h36.1v6.5h-36.1zM131.2 1105.6h36.1v6.5h-36.1zM508.8 1105.6h36.1v6.5h-36.1zM1150.6 1105.6h36.1v6.5h-36.1zM584.3 1138.0h36.1v6.5h-36.1zM999.6 1138.0h36.1v6.5h-36.1zM1226.1 1138.0h36.1v6.5h-36.1zM999.6 1146.1h36.1v6.5h-36.1zM1037.3 1146.1h36.1v6.5h-36.1zM924.1 1170.4h36.1v6.5h-36.1zM1188.3 1170.4h36.1v6.5h-36.1zM886.3 1178.5h36.1v6.5h-36.1zM961.8 1178.5h36.1v6.5h-36.1zM1188.3 1178.5h36.1v6.5h-36.1zM924.1 1194.8h36.1v6.5h-36.1zM1226.1 1194.8h36.1v6.5h-36.1zM961.8 1202.9h36.1v6.5h-36.1zM886.3 1211.0h36.1v6.5h-36.1zM1188.3 1211.0h36.1v6.5h-36.1zM622.0 1227.2h36.1v6.5h-36.1zM244.5 1243.4h36.1v6.5h-36.1zM735.3 1243.4h36.1v6.5h-36.1zM244.5 1251.5h36.1v6.5h-36.1zM735.3 1251.5h36.1v6.5h-36.1zM924.1 1251.5h36.1v6.5h-36.1zM924.1 1259.6h36.1v6.5h-36.1zM924.1 1267.7h36.1v6.5h-36.1zM395.5 1275.8h36.1v6.5h-36.1zM886.3 1275.8h36.1v6.5h-36.1zM206.8 1292.0h36.1v6.5h-36.1zM886.3 1292.0h36.1v6.5h-36.1zM886.3 1300.2h36.1v6.5h-36.1zM924.1 1300.2h36.1v6.5h-36.1zM961.8 1300.2h36.1v6.5h-36.1zM924.1 1308.3h36.1v6.5h-36.1zM961.8 1308.3h36.1v6.5h-36.1zM1188.3 1308.3h36.1v6.5h-36.1zM924.1 1316.4h36.1v6.5h-36.1zM1075.1 1324.5h36.1v6.5h-36.1zM169.0 1332.6h36.1v6.5h-36.1zM697.5 1340.7h36.1v6.5h-36.1zM810.8 1340.7h36.1v6.5h-36.1zM848.6 1340.7h36.1v6.5h-36.1zM320.0 1348.8h36.1v6.5h-36.1zM1112.8 1348.8h36.1v6.5h-36.1zM810.8 1356.9h36.1v6.5h-36.1zM1188.3 1356.9h36.1v6.5h-36.1zM1037.3 1365.0h36.1v6.5h-36.1zM1112.8 1365.0h36.1v6.5h-36.1zM697.5 1381.2h36.1v6.5h-36.1zM1226.1 1381.2h36.1v6.5h-36.1zM169.0 1389.3h36.1v6.5h-36.1zM622.0 1389.3h36.1v6.5h-36.1zM1150.6 1405.5h36.1v6.5h-36.1zM773.1 1421.8h36.1v6.5h-36.1zM1188.3 1438.0h36.1v6.5h-36.1zM584.3 1454.2h36.1v6.5h-36.1zM1188.3 1454.2h36.1v6.5h-36.1zM1188.3 1462.3h36.1v6.5h-36.1zM320.0 1470.4h36.1v6.5h-36.1zM584.3 1470.4h36.1v6.5h-36.1zM320.0 1478.5h36.1v6.5h-36.1zM622.0 1478.5h36.1v6.5h-36.1zM433.3 1494.7h36.1v6.5h-36.1zM395.5 1502.8h36.1v6.5h-36.1zM622.0 1510.9h36.1v6.5h-36.1zM999.6 1510.9h36.1v6.5h-36.1zM1037.3 1519.0h36.1v6.5h-36.1zM622.0 1527.2h36.1v6.5h-36.1zM584.3 1535.3h36.1v6.5h-36.1zM433.3 1543.4h36.1v6.5h-36.1zM395.5 1551.5h36.1v6.5h-36.1zM546.5 1551.5h36.1v6.5h-36.1zM131.2 1559.6h36.1v6.5h-36.1zM244.5 1575.8h36.1v6.5h-36.1zM282.3 1575.8h36.1v6.5h-36.1zM395.5 1583.9h36.1v6.5h-36.1zM433.3 1583.9h36.1v6.5h-36.1zM282.3 1592.0h36.1v6.5h-36.1zM433.3 1592.0h36.1v6.5h-36.1zM546.5 1592.0h36.1v6.5h-36.1zM169.0 1608.2h36.1v6.5h-36.1zM622.0 1608.2h36.1v6.5h-36.1zM735.3 1608.2h36.1v6.5h-36.1zM471.0 1616.3h36.1v6.5h-36.1zM886.3 1616.3h36.1v6.5h-36.1zM471.0 1632.5h36.1v6.5h-36.1zM206.8 1640.7h36.1v6.5h-36.1zM357.8 1640.7h36.1v6.5h-36.1zM320.0 1648.8h36.1v6.5h-36.1zM357.8 1648.8h36.1v6.5h-36.1zM471.0 1648.8h36.1v6.5h-36.1zM357.8 1656.9h36.1v6.5h-36.1zM508.8 1656.9h36.1v6.5h-36.1zM471.0 1665.0h36.1v6.5h-36.1zM206.8 1673.1h36.1v6.5h-36.1zM773.1 1673.1h36.1v6.5h-36.1zM659.8 1681.2h36.1v6.5h-36.1zM320.0 1689.3h36.1v6.5h-36.1zM471.0 1697.4h36.1v6.5h-36.1zM886.3 1697.4h36.1v6.5h-36.1zM206.8 1713.6h36.1v6.5h-36.1zM206.8 1721.7h36.1v6.5h-36.1zM206.8 1729.8h36.1v6.5h-36.1zM320.0 1737.9h36.1v6.5h-36.1zM1112.8 1737.9h36.1v6.5h-36.1zM282.3 1746.0h36.1v6.5h-36.1zM131.2 1754.2h36.1v6.5h-36.1zM508.8 1754.2h36.1v6.5h-36.1zM697.5 1754.2h36.1v6.5h-36.1zM206.8 1762.3h36.1v6.5h-36.1zM508.8 1762.3h36.1v6.5h-36.1zM471.0 1770.4h36.1v6.5h-36.1zM357.8 1786.6h36.1v6.5h-36.1zM659.8 1786.6h36.1v6.5h-36.1zM810.8 1786.6h36.1v6.5h-36.1zM697.5 1794.7h36.1v6.5h-36.1zM810.8 1802.8h36.1v6.5h-36.1zM471.0 1810.9h36.1v6.5h-36.1zM584.3 1810.9h36.1v6.5h-36.1zM622.0 1810.9h36.1v6.5h-36.1zM773.1 1819.0h36.1v6.5h-36.1zM206.8 1827.1h36.1v6.5h-36.1zM320.0 1827.1h36.1v6.5h-36.1zM622.0 1827.1h36.1v6.5h-36.1zM622.0 1835.2h36.1v6.5h-36.1zM131.2 1851.4h36.1v6.5h-36.1zM282.3 1851.4h36.1v6.5h-36.1zM886.3 1892.0h36.1v6.5h-36.1zM886.3 1908.2h36.1v6.5h-36.1zM169.0 1916.3h36.1v6.5h-36.1zM508.8 1916.3h36.1v6.5h-36.1zM659.8 1916.3h36.1v6.5h-36.1zM886.3 1916.3h36.1v6.5h-36.1zM206.8 1924.4h36.1v6.5h-36.1zM508.8 1924.4h36.1v6.5h-36.1zM810.8 1964.9h36.1v6.5h-36.1zM131.2 1981.2h36.1v6.5h-36.1zM320.0 1981.2h36.1v6.5h-36.1zM508.8 1981.2h36.1v6.5h-36.1zM395.5 1989.3h36.1v6.5h-36.1zM471.0 1989.3h36.1v6.5h-36.1zM244.5 2005.5h36.1v6.5h-36.1zM282.3 2005.5h36.1v6.5h-36.1zM848.6 2005.5h36.1v6.5h-36.1zM395.5 2013.6h36.1v6.5h-36.1zM357.8 2021.7h36.1v6.5h-36.1zM320.0 2029.8h36.1v6.5h-36.1zM320.0 2037.9h36.1v6.5h-36.1zM697.5 2037.9h36.1v6.5h-36.1zM810.8 2037.9h36.1v6.5h-36.1zM697.5 2046.0h36.1v6.5h-36.1zM622.0 2078.4h36.1v6.5h-36.1zM735.3 2078.4h36.1v6.5h-36.1zM244.5 2086.6h36.1v6.5h-36.1zM1188.3 2094.7h36.1v6.5h-36.1zM433.3 2102.8h36.1v6.5h-36.1zM169.0 2110.9h36.1v6.5h-36.1zM508.8 2119.0h36.1v6.5h-36.1zM546.5 2119.0h36.1v6.5h-36.1zM206.8 2127.1h36.1v6.5h-36.1zM1112.8 2135.2h36.1v6.5h-36.1zM206.8 2143.3h36.1v6.5h-36.1zM659.8 2151.4h36.1v6.5h-36.1zM206.8 2159.5h36.1v6.5h-36.1zM1112.8 2159.5h36.1v6.5h-36.1zM169.0 2175.7h36.1v6.5h-36.1zM320.0 2175.7h36.1v6.5h-36.1zM282.3 2183.8h36.1v6.5h-36.1zM697.5 2183.8h36.1v6.5h-36.1zM810.8 2183.8h36.1v6.5h-36.1zM169.0 2200.1h36.1v6.5h-36.1zM357.8 2200.1h36.1v6.5h-36.1zM697.5 2200.1h36.1v6.5h-36.1zM169.0 2208.2h36.1v6.5h-36.1zM169.0 2216.3h36.1v6.5h-36.1zM206.8 2216.3h36.1v6.5h-36.1zM697.5 2216.3h36.1v6.5h-36.1zM169.0 2224.4h36.1v6.5h-36.1zM357.8 2224.4h36.1v6.5h-36.1zM320.0 2232.5h36.1v6.5h-36.1zM508.8 2232.5h36.1v6.5h-36.1zM320.0 2240.6h36.1v6.5h-36.1zM508.8 2240.6h36.1v6.5h-36.1zM244.5 2248.7h36.1v6.5h-36.1zM320.0 2248.7h36.1v6.5h-36.1zM357.8 2248.7h36.1v6.5h-36.1z"/><path fill="#bfbfff" d="M357.8 1008.3h36.1v6.5h-36.1zM924.1 1016.4h36.1v6.5h-36.1zM131.2 1024.5h36.1v6.5h-36.1zM546.5 1024.5h36.1v6.5h-36.1zM999.6 1024.5h36.1v6.5h-36.1zM810.8 1032.6h36.1v6.5h-36.1zM961.8 1032.6h36.1v6.5h-36.1zM999.6 1032.6h36.1v6.5h-36.1zM1075.1 1032.6h36.1v6.5h-36.1zM1112.8 1032.6h36.1v6.5h-36.1zM320.0 1040.7h36.1v6.5h-36.1zM773.1 1040.7h36.1v6.5h-36.1zM999.6 1040.7h36.1v6.5h-36.1zM1037.3 1040.7h36.1v6.5h-36.1zM1150.6 1040.7h36.1v6.5h-36.1zM1226.1 1040.7h36.1v6.5h-36.1zM735.3 1048.8h36.1v6.5h-36.1zM773.1 1048.8h36.1v6.5h-36.1zM961.8 1048.8h36.1v6.5h-36.1zM773.1 1056.9h36.1v6.5h-36.1zM961.8 1056.9h36.1v6.5h-36.1zM1188.3 1056.9h36.1v6.5h-36.1zM395.5 1065.0h36.1v6.5h-36.1zM546.5 1065.0h36.1v6.5h-36.1zM735.3 1065.0h36.1v6.5h-36.1zM924.1 1065.0h36.1v6.5h-36.1zM961.8 1065.0h36.1v6.5h-36.1zM1075.1 1065.0h36.1v6.5h-36.1zM1112.8 1065.0h36.1v6.5h-36.1zM1226.1 1065.0h36.1v6.5h-36.1zM735.3 1073.2h36.1v6.5h-36.1zM924.1 1073.2h36.1v6.5h-36.1zM961.8 1073.2h36.1v6.5h-36.1zM1075.1 1073.2h36.1v6.5h-36.1zM282.3 1081.3h36.1v6.5h-36.1zM320.0 1081.3h36.1v6.5h-36.1zM584.3 1081.3h36.1v6.5h-36.1zM810.8 1081.3h36.1v6.5h-36.1zM848.6 1081.3h36.1v6.5h-36.1zM961.8 1081.3h36.1v6.5h-36.1zM1150.6 1081.3h36.1v6.5h-36.1zM244.5 1089.4h36.1v6.5h-36.1zM357.8 1089.4h36.1v6.5h-36.1zM546.5 1089.4h36.1v6.5h-36.1zM810.8 1089.4h36.1v6.5h-36.1zM848.6 1089.4h36.1v6.5h-36.1zM886.3 1089.4h36.1v6.5h-36.1zM999.6 1089.4h36.1v6.5h-36.1zM1037.3 1089.4h36.1v6.5h-36.1zM848.6 1097.5h36.1v6.5h-36.1zM735.3 1105.6h36.1v6.5h-36.1zM999.6 1105.6h36.1v6.5h-36.1zM131.2 1113.7h36.1v6.5h-36.1zM320.0 1113.7h36.1v6.5h-36.1zM999.6 1113.7h36.1v6.5h-36.1zM1037.3 1113.7h36.1v6.5h-36.1zM1075.1 1113.7h36.1v6.5h-36.1zM584.3 1129.9h36.1v6.5h-36.1zM924.1 1129.9h36.1v6.5h-36.1zM1037.3 1129.9h36.1v6.5h-36.1zM206.8 1138.0h36.1v6.5h-36.1zM924.1 1138.0h36.1v6.5h-36.1zM1150.6 1138.0h36.1v6.5h-36.1zM584.3 1146.1h36.1v6.5h-36.1zM1188.3 1146.1h36.1v6.5h-36.1zM206.8 1154.2h36.1v6.5h-36.1zM886.3 1154.2h36.1v6.5h-36.1zM999.6 1154.2h36.1v6.5h-36.1zM1075.1 1154.2h36.1v6.5h-36.1zM1188.3 1154.2h36.1v6.5h-36.1zM1226.1 1154.2h36.1v6.5h-36.1zM131.2 1162.3h36.1v6.5h-36.1zM206.8 1162.3h36.1v6.5h-36.1zM584.3 1162.3h36.1v6.5h-36.1zM659.8 1162.3h36.1v6.5h-36.1zM735.3 1162.3h36.1v6.5h-36.1zM810.8 1162.3h36.1v6.5h-36.1zM924.1 1162.3h36.1v6.5h-36.1zM961.8 1162.3h36.1v6.5h-36.1zM1037.3 1162.3h36.1v6.5h-36.1zM395.5 1170.4h36.1v6.5h-36.1zM735.3 1170.4h36.1v6.5h-36.1zM886.3 1170.4h36.1v6.5h-36.1zM735.3 1178.5h36.1v6.5h-36.1zM1226.1 1178.5h36.1v6.5h-36.1zM735.3 1186.7h36.1v6.5h-36.1zM810.8 1186.7h36.1v6.5h-36.1zM886.3 1186.7h36.1v6.5h-36.1zM999.6 1186.7h36.1v6.5h-36.1zM1226.1 1186.7h36.1v6.5h-36.1zM546.5 1194.8h36.1v6.5h-36.1zM1037.3 1194.8h36.1v6.5h-36.1zM1188.3 1194.8h36.1v6.5h-36.1zM546.5 1202.9h36.1v6.5h-36.1zM810.8 1202.9h36.1v6.5h-36.1zM886.3 1202.9h36.1v6.5h-36.1zM924.1 1202.9h36.1v6.5h-36.1zM244.5 1211.0h36.1v6.5h-36.1zM622.0 1211.0h36.1v6.5h-36.1zM1112.8 1211.0h36.1v6.5h-36.1zM395.5 1219.1h36.1v6.5h-36.1zM810.8 1219.1h36.1v6.5h-36.1zM1112.8 1219.1h36.1v6.5h-36.1zM1188.3 1219.1h36.1v6.5h-36.1zM508.8 1227.2h36.1v6.5h-36.1zM773.1 1227.2h36.1v6.5h-36.1zM999.6 1227.2h36.1v6.5h-36.1zM1188.3 1227.2h36.1v6.5h-36.1zM131.2 1235.3h36.1v6.5h-36.1zM622.0 1235.3h36.1v6.5h-36.1zM773.1 1235.3h36.1v6.5h-36.1zM1188.3 1235.3h36.1v6.5h-36.1zM810.8 1243.4h36.1v6.5h-36.1zM1075.1 1243.4h36.1v6.5h-36.1zM584.3 1251.5h36.1v6.5h-36.1zM169.0 1259.6h36.1v6.5h-36.1zM320.0 1259.6h36.1v6.5h-36.1zM999.6 1259.6h36.1v6.5h-36.1zM1075.1 1259.6h36.1v6.5h-36.1zM1226.1 1259.6h36.1v6.5h-36.1zM659.8 1267.7h36.1v6.5h-36.1zM697.5 1267.7h36.1v6.5h-36.1zM999.6 1267.7h36.1v6.5h-36.1zM1037.3 1267.7h36.1v6.5h-36.1zM659.8 1275.8h36.1v6.5h-36.1zM697.5 1275.8h36.1v6.5h-36.1zM924.1 1275.8h36.1v6.5h-36.1zM999.6 1275.8h36.1v6.5h-36.1zM1112.8 1275.8h36.1v6.5h-36.1zM1188.3 1275.8h36.1v6.5h-36.1zM395.5 1283.9h36.1v6.5h-36.1zM1188.3 1283.9h36.1v6.5h-36.1zM1188.3 1292.0h36.1v6.5h-36.1zM1226.1 1292.0h36.1v6.5h-36.1zM206.8 1300.2h36.1v6.5h-36.1zM584.3 1300.2h36.1v6.5h-36.1zM773.1 1300.2h36.1v6.5h-36.1zM1188.3 1300.2h36.1v6.5h-36.1zM1226.1 1300.2h36.1v6.5h-36.1zM206.8 1308.3h36.1v6.5h-36.1zM206.8 1316.4h36.1v6.5h-36.1zM471.0 1316.4h36.1v6.5h-36.1zM773.1 1316.4h36.1v6.5h-36.1zM810.8 1316.4h36.1v6.5h-36.1zM1188.3 1316.4h36.1v6.5h-36.1zM773.1 1324.5h36.1v6.5h-36.1zM810.8 1324.5h36.1v6.5h-36.1zM886.3 1324.5h36.1v6.5h-36.1zM1188.3 1324.5h36.1v6.5h-36.1zM244.5 1332.6h36.1v6.5h-36.1zM508.8 1332.6h36.1v6.5h-36.1zM206.8 1340.7h36.1v6.5h-36.1zM1150.6 1340.7h36.1v6.5h-36.1zM735.3 1348.8h36.1v6.5h-36.1zM1150.6 1348.8h36.1v6.5h-36.1zM320.0 1356.9h36.1v6.5h-36.1zM924.1 1356.9h36.1v6.5h-36.1zM999.6 1356.9h36.1v6.5h-36.1zM357.8 1365.0h36.1v6.5h-36.1zM810.8 1365.0h36.1v6.5h-36.1zM1226.1 1365.0h36.1v6.5h-36.1zM169.0 1373.1h36.1v6.5h-36.1zM659.8 1373.1h36.1v6.5h-36.1zM697.5 1373.1h36.1v6.5h-36.1zM1075.1 1373.1h36.1v6.5h-36.1zM1075.1 1389.3h36.1v6.5h-36.1zM357.8 1397.4h36.1v6.5h-36.1zM1188.3 1397.4h36.1v6.5h-36.1zM1188.3 1405.5h36.1v6.5h-36.1zM169.0 1413.7h36.1v6.5h-36.1zM848.6 1413.7h36.1v6.5h-36.1zM1037.3 1413.7h36.1v6.5h-36.1zM1075.1 1413.7h36.1v6.5h-36.1zM1188.3 1413.7h36.1v6.5h-36.1zM169.0 1421.8h36.1v6.5h-36.1zM622.0 1421.8h36.1v6.5h-36.1zM810.8 1421.8h36.1v6.5h-36.1zM1037.3 1421.8h36.1v6.5h-36.1zM1075.1 1421.8h36.1v6.5h-36.1zM1112.8 1421.8h36.1v6.5h-36.1zM131.2 1429.9h36.1v6.5h-36.1zM320.0 1429.9h36.1v6.5h-36.1zM999.6 1429.9h36.1v6.5h-36.1zM1075.1 1429.9h36.1v6.5h-36.1zM1112.8 1429.9h36.1v6.5h-36.1zM961.8 1438.0h36.1v6.5h-36.1zM999.6 1438.0h36.1v6.5h-36.1zM1112.8 1438.0h36.1v6.5h-36.1zM886.3 1446.1h36.1v6.5h-36.1zM206.8 1470.4h36.1v6.5h-36.1zM433.3 1470.4h36.1v6.5h-36.1zM471.0 1470.4h36.1v6.5h-36.1zM357.8 1478.5h36.1v6.5h-36.1zM471.0 1478.5h36.1v6.5h-36.1zM508.8 1478.5h36.1v6.5h-36.1zM1112.8 1478.5h36.1v6.5h-36.1zM244.5 1486.6h36.1v6.5h-36.1zM282.3 1486.6h36.1v6.5h-36.1zM357.8 1486.6h36.1v6.5h-36.1zM471.0 1486.6h36.1v6.5h-36.1zM508.8 1486.6h36.1v6.5h-36.1zM659.8 1486.6h36.1v6.5h-36.1zM886.3 1486.6h36.1v6.5h-36.1zM357.8 1494.7h36.1v6.5h-36.1zM584.3 1494.7h36.1v6.5h-36.1zM622.0 1494.7h36.1v6.5h-36.1zM999.6 1494.7h36.1v6.5h-36.1zM282.3 1502.8h36.1v6.5h-36.1zM320.0 1502.8h36.1v6.5h-36.1zM471.0 1502.8h36.1v6.5h-36.1zM848.6 1502.8h36.1v6.5h-36.1zM961.8 1502.8h36.1v6.5h-36.1zM169.0 1510.9h36.1v6.5h-36.1zM320.0 1510.9h36.1v6.5h-36.1zM357.8 1510.9h36.1v6.5h-36.1zM471.0 1510.9h36.1v6.5h-36.1zM773.1 1510.9h36.1v6.5h-36.1zM282.3 1519.0h36.1v6.5h-36.1zM320.0 1519.0h36.1v6.5h-36.1zM357.8 1519.0h36.1v6.5h-36.1zM471.0 1519.0h36.1v6.5h-36.1zM584.3 1519.0h36.1v6.5h-36.1zM810.8 1519.0h36.1v6.5h-36.1zM282.3 1527.2h36.1v6.5h-36.1zM508.8 1527.2h36.1v6.5h-36.1zM848.6 1527.2h36.1v6.5h-36.1zM1112.8 1527.2h36.1v6.5h-36.1zM131.2 1535.3h36.1v6.5h-36.1zM206.8 1535.3h36.1v6.5h-36.1zM395.5 1535.3h36.1v6.5h-36.1zM471.0 1543.4h36.1v6.5h-36.1zM508.8 1543.4h36.1v6.5h-36.1zM659.8 1543.4h36.1v6.5h-36.1zM169.0 1551.5h36.1v6.5h-36.1zM433.3 1551.5h36.1v6.5h-36.1zM508.8 1551.5h36.1v6.5h-36.1zM320.0 1559.6h36.1v6.5h-36.1zM395.5 1559.6h36.1v6.5h-36.1zM622.0 1559.6h36.1v6.5h-36.1zM999.6 1559.6h36.1v6.5h-36.1zM169.0 1567.7h36.1v6.5h-36.1zM206.8 1567.7h36.1v6.5h-36.1zM282.3 1567.7h36.1v6.5h-36.1zM395.5 1567.7h36.1v6.5h-36.1zM546.5 1567.7h36.1v6.5h-36.1zM961.8 1567.7h36.1v6.5h-36.1zM395.5 1575.8h36.1v6.5h-36.1zM508.8 1575.8h36.1v6.5h-36.1zM546.5 1575.8h36.1v6.5h-36.1zM622.0 1575.8h36.1v6.5h-36.1zM1188.3 1575.8h36.1v6.5h-36.1zM622.0 1583.9h36.1v6.5h-36.1zM206.8 1592.0h36.1v6.5h-36.1zM357.8 1592.0h36.1v6.5h-36.1zM622.0 1592.0h36.1v6.5h-36.1zM659.8 1592.0h36.1v6.5h-36.1zM395.5 1600.1h36.1v6.5h-36.1zM546.5 1600.1h36.1v6.5h-36.1zM584.3 1600.1h36.1v6.5h-36.1zM659.8 1600.1h36.1v6.5h-36.1zM773.1 1600.1h36.1v6.5h-36.1zM924.1 1600.1h36.1v6.5h-36.1zM282.3 1616.3h36.1v6.5h-36.1zM433.3 1624.4h36.1v6.5h-36.1zM546.5 1632.5h36.1v6.5h-36.1zM697.5 1640.7h36.1v6.5h-36.1zM508.8 1648.8h36.1v6.5h-36.1zM735.3 1648.8h36.1v6.5h-36.1zM773.1 1656.9h36.1v6.5h-36.1zM1112.8 1656.9h36.1v6.5h-36.1zM282.3 1665.0h36.1v6.5h-36.1zM320.0 1665.0h36.1v6.5h-36.1zM924.1 1665.0h36.1v6.5h-36.1zM433.3 1673.1h36.1v6.5h-36.1zM622.0 1681.2h36.1v6.5h-36.1zM1150.6 1681.2h36.1v6.5h-36.1zM282.3 1689.3h36.1v6.5h-36.1zM1037.3 1689.3h36.1v6.5h-36.1zM1150.6 1689.3h36.1v6.5h-36.1zM584.3 1697.4h36.1v6.5h-36.1zM773.1 1697.4h36.1v6.5h-36.1zM320.0 1705.5h36.1v6.5h-36.1zM886.3 1705.5h36.1v6.5h-36.1zM508.8 1713.6h36.1v6.5h-36.1zM546.5 1713.6h36.1v6.5h-36.1zM584.3 1713.6h36.1v6.5h-36.1zM848.6 1713.6h36.1v6.5h-36.1zM1112.8 1713.6h36.1v6.5h-36.1zM357.8 1721.7h36.1v6.5h-36.1zM622.0 1721.7h36.1v6.5h-36.1zM131.2 1729.8h36.1v6.5h-36.1zM622.0 1729.8h36.1v6.5h-36.1zM697.5 1729.8h36.1v6.5h-36.1zM810.8 1729.8h36.1v6.5h-36.1zM848.6 1729.8h36.1v6.5h-36.1zM131.2 1737.9h36.1v6.5h-36.1zM169.0 1737.9h36.1v6.5h-36.1zM546.5 1737.9h36.1v6.5h-36.1zM584.3 1737.9h36.1v6.5h-36.1zM810.8 1746.0h36.1v6.5h-36.1zM206.8 1754.2h36.1v6.5h-36.1zM584.3 1754.2h36.1v6.5h-36.1zM1112.8 1754.2h36.1v6.5h-36.1zM471.0 1762.3h36.1v6.5h-36.1zM622.0 1762.3h36.1v6.5h-36.1zM1037.3 1770.4h36.1v6.5h-36.1zM1112.8 1770.4h36.1v6.5h-36.1zM206.8 1778.5h36.1v6.5h-36.1zM169.0 1786.6h36.1v6.5h-36.1zM169.0 1794.7h36.1v6.5h-36.1zM320.0 1794.7h36.1v6.5h-36.1zM357.8 1794.7h36.1v6.5h-36.1zM471.0 1794.7h36.1v6.5h-36.1zM508.8 1794.7h36.1v6.5h-36.1zM622.0 1794.7h36.1v6.5h-36.1zM848.6 1794.7h36.1v6.5h-36.1zM999.6 1794.7h36.1v6.5h-36.1zM357.8 1802.8h36.1v6.5h-36.1zM471.0 1802.8h36.1v6.5h-36.1zM508.8 1802.8h36.1v6.5h-36.1zM697.5 1802.8h36.1v6.5h-36.1zM848.6 1802.8h36.1v6.5h-36.1zM320.0 1810.9h36.1v6.5h-36.1zM508.8 1810.9h36.1v6.5h-36.1zM1112.8 1810.9h36.1v6.5h-36.1zM169.0 1819.0h36.1v6.5h-36.1zM282.3 1819.0h36.1v6.5h-36.1zM508.8 1819.0h36.1v6.5h-36.1zM584.3 1819.0h36.1v6.5h-36.1zM659.8 1819.0h36.1v6.5h-36.1zM169.0 1835.2h36.1v6.5h-36.1zM131.2 1843.3h36.1v6.5h-36.1zM169.0 1843.3h36.1v6.5h-36.1zM206.8 1843.3h36.1v6.5h-36.1zM357.8 1843.3h36.1v6.5h-36.1zM508.8 1843.3h36.1v6.5h-36.1zM622.0 1843.3h36.1v6.5h-36.1zM1075.1 1843.3h36.1v6.5h-36.1zM206.8 1851.4h36.1v6.5h-36.1zM320.0 1851.4h36.1v6.5h-36.1zM659.8 1851.4h36.1v6.5h-36.1zM773.1 1851.4h36.1v6.5h-36.1zM810.8 1851.4h36.1v6.5h-36.1zM697.5 1859.5h36.1v6.5h-36.1zM773.1 1859.5h36.1v6.5h-36.1zM169.0 1867.7h36.1v6.5h-36.1zM206.8 1867.7h36.1v6.5h-36.1zM320.0 1867.7h36.1v6.5h-36.1zM697.5 1867.7h36.1v6.5h-36.1zM810.8 1867.7h36.1v6.5h-36.1zM206.8 1875.8h36.1v6.5h-36.1zM320.0 1875.8h36.1v6.5h-36.1zM357.8 1875.8h36.1v6.5h-36.1zM508.8 1875.8h36.1v6.5h-36.1zM773.1 1875.8h36.1v6.5h-36.1zM1112.8 1875.8h36.1v6.5h-36.1zM357.8 1883.9h36.1v6.5h-36.1zM584.3 1883.9h36.1v6.5h-36.1zM622.0 1883.9h36.1v6.5h-36.1zM810.8 1883.9h36.1v6.5h-36.1zM320.0 1892.0h36.1v6.5h-36.1zM282.3 1900.1h36.1v6.5h-36.1zM357.8 1900.1h36.1v6.5h-36.1zM433.3 1900.1h36.1v6.5h-36.1zM508.8 1900.1h36.1v6.5h-36.1zM1075.1 1900.1h36.1v6.5h-36.1zM1112.8 1900.1h36.1v6.5h-36.1zM508.8 1908.2h36.1v6.5h-36.1zM584.3 1908.2h36.1v6.5h-36.1zM622.0 1908.2h36.1v6.5h-36.1zM924.1 1908.2h36.1v6.5h-36.1zM1112.8 1908.2h36.1v6.5h-36.1zM546.5 1924.4h36.1v6.5h-36.1zM169.0 1940.6h36.1v6.5h-36.1zM282.3 1940.6h36.1v6.5h-36.1zM357.8 1948.7h36.1v6.5h-36.1zM471.0 1948.7h36.1v6.5h-36.1zM1112.8 1948.7h36.1v6.5h-36.1zM584.3 1956.8h36.1v6.5h-36.1zM471.0 1964.9h36.1v6.5h-36.1zM886.3 1964.9h36.1v6.5h-36.1zM395.5 1973.0h36.1v6.5h-36.1zM471.0 1973.0h36.1v6.5h-36.1zM546.5 1973.0h36.1v6.5h-36.1zM659.8 1973.0h36.1v6.5h-36.1zM999.6 1973.0h36.1v6.5h-36.1zM169.0 1981.2h36.1v6.5h-36.1zM395.5 1981.2h36.1v6.5h-36.1zM1037.3 1981.2h36.1v6.5h-36.1zM659.8 1989.3h36.1v6.5h-36.1zM810.8 1989.3h36.1v6.5h-36.1zM1150.6 1989.3h36.1v6.5h-36.1zM471.0 1997.4h36.1v6.5h-36.1zM584.3 1997.4h36.1v6.5h-36.1zM697.5 1997.4h36.1v6.5h-36.1zM848.6 1997.4h36.1v6.5h-36.1zM433.3 2005.5h36.1v6.5h-36.1zM999.6 2005.5h36.1v6.5h-36.1zM169.0 2013.6h36.1v6.5h-36.1zM206.8 2013.6h36.1v6.5h-36.1zM282.3 2013.6h36.1v6.5h-36.1zM471.0 2013.6h36.1v6.5h-36.1zM999.6 2013.6h36.1v6.5h-36.1zM1112.8 2013.6h36.1v6.5h-36.1zM169.0 2021.7h36.1v6.5h-36.1zM320.0 2021.7h36.1v6.5h-36.1zM584.3 2021.7h36.1v6.5h-36.1zM622.0 2021.7h36.1v6.5h-36.1zM1112.8 2021.7h36.1v6.5h-36.1zM206.8 2029.8h36.1v6.5h-36.1zM471.0 2029.8h36.1v6.5h-36.1zM584.3 2029.8h36.1v6.5h-36.1zM1150.6 2029.8h36.1v6.5h-36.1zM357.8 2037.9h36.1v6.5h-36.1zM471.0 2037.9h36.1v6.5h-36.1zM508.8 2037.9h36.1v6.5h-36.1zM244.5 2046.0h36.1v6.5h-36.1zM320.0 2046.0h36.1v6.5h-36.1zM471.0 2046.0h36.1v6.5h-36.1zM810.8 2046.0h36.1v6.5h-36.1zM848.6 2046.0h36.1v6.5h-36.1zM206.8 2054.1h36.1v6.5h-36.1zM357.8 2054.1h36.1v6.5h-36.1zM508.8 2054.1h36.1v6.5h-36.1zM584.3 2054.1h36.1v6.5h-36.1zM810.8 2054.1h36.1v6.5h-36.1zM244.5 2062.2h36.1v6.5h-36.1zM508.8 2062.2h36.1v6.5h-36.1zM584.3 2062.2h36.1v6.5h-36.1zM659.8 2062.2h36.1v6.5h-36.1zM1037.3 2062.2h36.1v6.5h-36.1zM320.0 2070.3h36.1v6.5h-36.1zM697.5 2070.3h36.1v6.5h-36.1zM1150.6 2070.3h36.1v6.5h-36.1zM169.0 2078.4h36.1v6.5h-36.1zM282.3 2078.4h36.1v6.5h-36.1zM810.8 2078.4h36.1v6.5h-36.1zM1112.8 2078.4h36.1v6.5h-36.1zM206.8 2086.6h36.1v6.5h-36.1zM395.5 2086.6h36.1v6.5h-36.1zM471.0 2086.6h36.1v6.5h-36.1zM697.5 2086.6h36.1v6.5h-36.1zM810.8 2086.6h36.1v6.5h-36.1zM886.3 2086.6h36.1v6.5h-36.1zM1112.8 2086.6h36.1v6.5h-36.1zM131.2 2094.7h36.1v6.5h-36.1zM320.0 2094.7h36.1v6.5h-36.1zM357.8 2094.7h36.1v6.5h-36.1zM508.8 2094.7h36.1v6.5h-36.1zM546.5 2094.7h36.1v6.5h-36.1zM1112.8 2094.7h36.1v6.5h-36.1zM169.0 2102.8h36.1v6.5h-36.1zM206.8 2102.8h36.1v6.5h-36.1zM244.5 2102.8h36.1v6.5h-36.1zM282.3 2102.8h36.1v6.5h-36.1zM357.8 2102.8h36.1v6.5h-36.1zM395.5 2102.8h36.1v6.5h-36.1zM508.8 2102.8h36.1v6.5h-36.1zM622.0 2102.8h36.1v6.5h-36.1zM1112.8 2102.8h36.1v6.5h-36.1zM131.2 2110.9h36.1v6.5h-36.1zM244.5 2110.9h36.1v6.5h-36.1zM433.3 2110.9h36.1v6.5h-36.1zM471.0 2110.9h36.1v6.5h-36.1zM622.0 2110.9h36.1v6.5h-36.1zM244.5 2119.0h36.1v6.5h-36.1zM282.3 2119.0h36.1v6.5h-36.1zM471.0 2119.0h36.1v6.5h-36.1zM622.0 2119.0h36.1v6.5h-36.1zM773.1 2119.0h36.1v6.5h-36.1zM848.6 2119.0h36.1v6.5h-36.1zM1112.8 2119.0h36.1v6.5h-36.1zM169.0 2127.1h36.1v6.5h-36.1zM169.0 2135.2h36.1v6.5h-36.1zM206.8 2135.2h36.1v6.5h-36.1zM584.3 2135.2h36.1v6.5h-36.1zM697.5 2143.3h36.1v6.5h-36.1zM206.8 2151.4h36.1v6.5h-36.1zM282.3 2151.4h36.1v6.5h-36.1zM357.8 2151.4h36.1v6.5h-36.1zM508.8 2167.6h36.1v6.5h-36.1zM697.5 2167.6h36.1v6.5h-36.1zM1037.3 2167.6h36.1v6.5h-36.1zM1112.8 2167.6h36.1v6.5h-36.1zM1150.6 2167.6h36.1v6.5h-36.1zM206.8 2175.7h36.1v6.5h-36.1zM282.3 2175.7h36.1v6.5h-36.1zM357.8 2175.7h36.1v6.5h-36.1zM471.0 2175.7h36.1v6.5h-36.1zM810.8 2175.7h36.1v6.5h-36.1zM999.6 2175.7h36.1v6.5h-36.1zM1150.6 2175.7h36.1v6.5h-36.1zM206.8 2183.8h36.1v6.5h-36.1zM471.0 2183.8h36.1v6.5h-36.1zM320.0 2191.9h36.1v6.5h-36.1zM622.0 2191.9h36.1v6.5h-36.1zM810.8 2191.9h36.1v6.5h-36.1zM584.3 2200.1h36.1v6.5h-36.1zM244.5 2208.2h36.1v6.5h-36.1zM282.3 2208.2h36.1v6.5h-36.1zM999.6 2216.3h36.1v6.5h-36.1zM1037.3 2216.3h36.1v6.5h-36.1zM471.0 2232.5h36.1v6.5h-36.1zM810.8 2232.5h36.1v6.5h-36.1zM206.8 2240.6h36.1v6.5h-36.1zM357.8 2240.6h36.1v6.5h-36.1zM584.3 2240.6h36.1v6.5h-36.1zM810.8 2240.6h36.1v6.5h-36.1z"/><path fill="#fff7f7" d="M433.3 1008.3h36.1v6.5h-36.1zM471.0 1008.3h36.1v6.5h-36.1zM546.5 1008.3h36.1v6.5h-36.1zM886.3 1008.3h36.1v6.5h-36.1zM1226.1 1008.3h36.1v6.5h-36.1zM131.2 1016.4h36.1v6.5h-36.1zM244.5 1016.4h36.1v6.5h-36.1zM471.0 1016.4h36.1v6.5h-36.1zM961.8 1016.4h36.1v6.5h-36.1zM1075.1 1016.4h36.1v6.5h-36.1zM1150.6 1016.4h36.1v6.5h-36.1zM282.3 1024.5h36.1v6.5h-36.1zM395.5 1024.5h36.1v6.5h-36.1zM471.0 1024.5h36.1v6.5h-36.1zM659.8 1024.5h36.1v6.5h-36.1zM1075.1 1024.5h36.1v6.5h-36.1zM584.3 1032.6h36.1v6.5h-36.1zM1150.6 1032.6h36.1v6.5h-36.1zM697.5 1040.7h36.1v6.5h-36.1zM395.5 1048.8h36.1v6.5h-36.1zM471.0 1048.8h36.1v6.5h-36.1zM1075.1 1048.8h36.1v6.5h-36.1zM282.3 1065.0h36.1v6.5h-36.1zM433.3 1065.0h36.1v6.5h-36.1zM1037.3 1065.0h36.1v6.5h-36.1zM659.8 1073.2h36.1v6.5h-36.1zM206.8 1081.3h36.1v6.5h-36.1zM433.3 1081.3h36.1v6.5h-36.1zM659.8 1081.3h36.1v6.5h-36.1zM433.3 1097.5h36.1v6.5h-36.1zM924.1 1097.5h36.1v6.5h-36.1zM169.0 1105.6h36.1v6.5h-36.1zM471.0 1105.6h36.1v6.5h-36.1zM169.0 1113.7h36.1v6.5h-36.1zM471.0 1113.7h36.1v6.5h-36.1zM546.5 1113.7h36.1v6.5h-36.1zM320.0 1121.8h36.1v6.5h-36.1zM395.5 1121.8h36.1v6.5h-36.1zM546.5 1121.8h36.1v6.5h-36.1zM961.8 1121.8h36.1v6.5h-36.1zM206.8 1129.9h36.1v6.5h-36.1zM546.5 1129.9h36.1v6.5h-36.1zM735.3 1129.9h36.1v6.5h-36.1zM131.2 1138.0h36.1v6.5h-36.1zM735.3 1138.0h36.1v6.5h-36.1zM206.8 1146.1h36.1v6.5h-36.1zM735.3 1146.1h36.1v6.5h-36.1zM244.5 1154.2h36.1v6.5h-36.1zM1037.3 1154.2h36.1v6.5h-36.1zM131.2 1170.4h36.1v6.5h-36.1zM1037.3 1170.4h36.1v6.5h-36.1zM1112.8 1170.4h36.1v6.5h-36.1zM206.8 1178.5h36.1v6.5h-36.1zM244.5 1178.5h36.1v6.5h-36.1zM433.3 1178.5h36.1v6.5h-36.1zM206.8 1186.7h36.1v6.5h-36.1zM546.5 1186.7h36.1v6.5h-36.1zM1075.1 1186.7h36.1v6.5h-36.1zM395.5 1194.8h36.1v6.5h-36.1zM471.0 1194.8h36.1v6.5h-36.1zM810.8 1194.8h36.1v6.5h-36.1zM961.8 1194.8h36.1v6.5h-36.1zM282.3 1202.9h36.1v6.5h-36.1zM848.6 1202.9h36.1v6.5h-36.1zM169.0 1211.0h36.1v6.5h-36.1zM282.3 1211.0h36.1v6.5h-36.1zM395.5 1211.0h36.1v6.5h-36.1zM810.8 1211.0h36.1v6.5h-36.1zM924.1 1211.0h36.1v6.5h-36.1zM206.8 1219.1h36.1v6.5h-36.1zM320.0 1219.1h36.1v6.5h-36.1zM697.5 1219.1h36.1v6.5h-36.1zM1150.6 1219.1h36.1v6.5h-36.1zM735.3 1227.2h36.1v6.5h-36.1zM433.3 1235.3h36.1v6.5h-36.1zM546.5 1235.3h36.1v6.5h-36.1zM131.2 1243.4h36.1v6.5h-36.1zM546.5 1243.4h36.1v6.5h-36.1zM697.5 1243.4h36.1v6.5h-36.1zM320.0 1251.5h36.1v6.5h-36.1zM622.0 1251.5h36.1v6.5h-36.1zM848.6 1251.5h36.1v6.5h-36.1zM395.5 1259.6h36.1v6.5h-36.1zM395.5 1267.7h36.1v6.5h-36.1zM471.0 1275.8h36.1v6.5h-36.1zM622.0 1275.8h36.1v6.5h-36.1zM1075.1 1275.8h36.1v6.5h-36.1zM433.3 1283.9h36.1v6.5h-36.1zM697.5 1283.9h36.1v6.5h-36.1zM810.8 1283.9h36.1v6.5h-36.1zM1075.1 1283.9h36.1v6.5h-36.1zM244.5 1292.0h36.1v6.5h-36.1zM433.3 1292.0h36.1v6.5h-36.1zM622.0 1292.0h36.1v6.5h-36.1zM395.5 1300.2h36.1v6.5h-36.1zM433.3 1308.3h36.1v6.5h-36.1zM810.8 1308.3h36.1v6.5h-36.1zM848.6 1308.3h36.1v6.5h-36.1zM697.5 1316.4h36.1v6.5h-36.1zM169.0 1324.5h36.1v6.5h-36.1zM735.3 1324.5h36.1v6.5h-36.1zM848.6 1332.6h36.1v6.5h-36.1zM169.0 1340.7h36.1v6.5h-36.1zM659.8 1348.8h36.1v6.5h-36.1zM1188.3 1348.8h36.1v6.5h-36.1zM206.8 1356.9h36.1v6.5h-36.1zM659.8 1356.9h36.1v6.5h-36.1zM961.8 1356.9h36.1v6.5h-36.1zM320.0 1365.0h36.1v6.5h-36.1zM924.1 1365.0h36.1v6.5h-36.1zM1188.3 1365.0h36.1v6.5h-36.1zM206.8 1373.1h36.1v6.5h-36.1zM206.8 1381.2h36.1v6.5h-36.1zM357.8 1381.2h36.1v6.5h-36.1zM395.5 1381.2h36.1v6.5h-36.1zM810.8 1381.2h36.1v6.5h-36.1zM961.8 1381.2h36.1v6.5h-36.1zM1188.3 1381.2h36.1v6.5h-36.1zM244.5 1389.3h36.1v6.5h-36.1zM735.3 1389.3h36.1v6.5h-36.1zM131.2 1397.4h36.1v6.5h-36.1zM206.8 1397.4h36.1v6.5h-36.1zM622.0 1397.4h36.1v6.5h-36.1zM773.1 1397.4h36.1v6.5h-36.1zM886.3 1397.4h36.1v6.5h-36.1zM1150.6 1397.4h36.1v6.5h-36.1zM1226.1 1397.4h36.1v6.5h-36.1zM131.2 1405.5h36.1v6.5h-36.1zM357.8 1405.5h36.1v6.5h-36.1zM471.0 1413.7h36.1v6.5h-36.1zM1226.1 1413.7h36.1v6.5h-36.1zM735.3 1421.8h36.1v6.5h-36.1zM169.0 1438.0h36.1v6.5h-36.1zM622.0 1438.0h36.1v6.5h-36.1zM1075.1 1438.0h36.1v6.5h-36.1zM131.2 1446.1h36.1v6.5h-36.1zM282.3 1446.1h36.1v6.5h-36.1zM584.3 1446.1h36.1v6.5h-36.1zM735.3 1446.1h36.1v6.5h-36.1zM848.6 1446.1h36.1v6.5h-36.1zM169.0 1454.2h36.1v6.5h-36.1zM320.0 1454.2h36.1v6.5h-36.1zM395.5 1454.2h36.1v6.5h-36.1zM697.5 1454.2h36.1v6.5h-36.1zM961.8 1454.2h36.1v6.5h-36.1zM395.5 1462.3h36.1v6.5h-36.1zM961.8 1462.3h36.1v6.5h-36.1zM1075.1 1462.3h36.1v6.5h-36.1zM131.2 1470.4h36.1v6.5h-36.1zM282.3 1470.4h36.1v6.5h-36.1zM773.1 1470.4h36.1v6.5h-36.1zM924.1 1470.4h36.1v6.5h-36.1zM1226.1 1470.4h36.1v6.5h-36.1zM206.8 1478.5h36.1v6.5h-36.1zM735.3 1478.5h36.1v6.5h-36.1zM810.8 1486.6h36.1v6.5h-36.1zM131.2 1494.7h36.1v6.5h-36.1zM169.0 1494.7h36.1v6.5h-36.1zM508.8 1494.7h36.1v6.5h-36.1zM697.5 1494.7h36.1v6.5h-36.1zM131.2 1502.8h36.1v6.5h-36.1zM169.0 1502.8h36.1v6.5h-36.1zM659.8 1502.8h36.1v6.5h-36.1zM999.6 1502.8h36.1v6.5h-36.1zM395.5 1510.9h36.1v6.5h-36.1zM810.8 1510.9h36.1v6.5h-36.1zM1150.6 1510.9h36.1v6.5h-36.1zM395.5 1519.0h36.1v6.5h-36.1zM1150.6 1519.0h36.1v6.5h-36.1zM1150.6 1527.2h36.1v6.5h-36.1zM886.3 1535.3h36.1v6.5h-36.1zM357.8 1543.4h36.1v6.5h-36.1zM395.5 1543.4h36.1v6.5h-36.1zM697.5 1543.4h36.1v6.5h-36.1zM471.0 1551.5h36.1v6.5h-36.1zM584.3 1551.5h36.1v6.5h-36.1zM735.3 1551.5h36.1v6.5h-36.1zM169.0 1559.6h36.1v6.5h-36.1zM471.0 1559.6h36.1v6.5h-36.1zM584.3 1559.6h36.1v6.5h-36.1zM697.5 1559.6h36.1v6.5h-36.1zM1150.6 1559.6h36.1v6.5h-36.1zM848.6 1567.7h36.1v6.5h-36.1zM1150.6 1567.7h36.1v6.5h-36.1zM244.5 1583.9h36.1v6.5h-36.1zM320.0 1583.9h36.1v6.5h-36.1zM244.5 1592.0h36.1v6.5h-36.1zM282.3 1600.1h36.1v6.5h-36.1zM546.5 1608.2h36.1v6.5h-36.1zM697.5 1608.2h36.1v6.5h-36.1zM508.8 1616.3h36.1v6.5h-36.1zM659.8 1616.3h36.1v6.5h-36.1zM924.1 1616.3h36.1v6.5h-36.1zM1112.8 1616.3h36.1v6.5h-36.1zM169.0 1624.4h36.1v6.5h-36.1zM471.0 1624.4h36.1v6.5h-36.1zM546.5 1624.4h36.1v6.5h-36.1zM395.5 1632.5h36.1v6.5h-36.1zM622.0 1632.5h36.1v6.5h-36.1zM773.1 1632.5h36.1v6.5h-36.1zM961.8 1632.5h36.1v6.5h-36.1zM659.8 1640.7h36.1v6.5h-36.1zM169.0 1648.8h36.1v6.5h-36.1zM697.5 1648.8h36.1v6.5h-36.1zM1150.6 1648.8h36.1v6.5h-36.1zM244.5 1656.9h36.1v6.5h-36.1zM244.5 1665.0h36.1v6.5h-36.1zM433.3 1665.0h36.1v6.5h-36.1zM735.3 1665.0h36.1v6.5h-36.1zM131.2 1673.1h36.1v6.5h-36.1zM357.8 1673.1h36.1v6.5h-36.1zM810.8 1673.1h36.1v6.5h-36.1zM924.1 1673.1h36.1v6.5h-36.1zM1037.3 1681.2h36.1v6.5h-36.1zM1112.8 1681.2h36.1v6.5h-36.1zM131.2 1689.3h36.1v6.5h-36.1zM206.8 1689.3h36.1v6.5h-36.1zM244.5 1689.3h36.1v6.5h-36.1zM433.3 1689.3h36.1v6.5h-36.1zM433.3 1697.4h36.1v6.5h-36.1zM1112.8 1697.4h36.1v6.5h-36.1zM169.0 1705.5h36.1v6.5h-36.1zM244.5 1705.5h36.1v6.5h-36.1zM433.3 1705.5h36.1v6.5h-36.1zM471.0 1705.5h36.1v6.5h-36.1zM546.5 1705.5h36.1v6.5h-36.1zM735.3 1705.5h36.1v6.5h-36.1zM924.1 1705.5h36.1v6.5h-36.1zM697.5 1713.6h36.1v6.5h-36.1zM924.1 1713.6h36.1v6.5h-36.1zM697.5 1721.7h36.1v6.5h-36.1zM773.1 1721.7h36.1v6.5h-36.1zM320.0 1729.8h36.1v6.5h-36.1zM282.3 1737.9h36.1v6.5h-36.1zM131.2 1746.0h36.1v6.5h-36.1zM395.5 1746.0h36.1v6.5h-36.1zM584.3 1746.0h36.1v6.5h-36.1zM546.5 1754.2h36.1v6.5h-36.1zM1188.3 1754.2h36.1v6.5h-36.1zM320.0 1762.3h36.1v6.5h-36.1zM1037.3 1762.3h36.1v6.5h-36.1zM1188.3 1762.3h36.1v6.5h-36.1zM169.0 1770.4h36.1v6.5h-36.1zM244.5 1770.4h36.1v6.5h-36.1zM320.0 1770.4h36.1v6.5h-36.1zM357.8 1770.4h36.1v6.5h-36.1zM546.5 1770.4h36.1v6.5h-36.1zM584.3 1770.4h36.1v6.5h-36.1zM697.5 1770.4h36.1v6.5h-36.1zM244.5 1778.5h36.1v6.5h-36.1zM622.0 1778.5h36.1v6.5h-36.1zM697.5 1778.5h36.1v6.5h-36.1zM961.8 1778.5h36.1v6.5h-36.1zM244.5 1786.6h36.1v6.5h-36.1zM206.8 1802.8h36.1v6.5h-36.1zM282.3 1802.8h36.1v6.5h-36.1zM169.0 1810.9h36.1v6.5h-36.1zM697.5 1810.9h36.1v6.5h-36.1zM471.0 1819.0h36.1v6.5h-36.1zM659.8 1835.2h36.1v6.5h-36.1zM1150.6 1835.2h36.1v6.5h-36.1zM471.0 1843.3h36.1v6.5h-36.1zM697.5 1843.3h36.1v6.5h-36.1zM622.0 1851.4h36.1v6.5h-36.1zM961.8 1851.4h36.1v6.5h-36.1zM1075.1 1851.4h36.1v6.5h-36.1zM206.8 1859.5h36.1v6.5h-36.1zM1075.1 1859.5h36.1v6.5h-36.1zM1112.8 1859.5h36.1v6.5h-36.1zM961.8 1867.7h36.1v6.5h-36.1zM659.8 1875.8h36.1v6.5h-36.1zM433.3 1883.9h36.1v6.5h-36.1zM1112.8 1883.9h36.1v6.5h-36.1zM131.2 1892.0h36.1v6.5h-36.1zM244.5 1892.0h36.1v6.5h-36.1zM697.5 1892.0h36.1v6.5h-36.1zM735.3 1892.0h36.1v6.5h-36.1zM999.6 1892.0h36.1v6.5h-36.1zM433.3 1908.2h36.1v6.5h-36.1zM773.1 1908.2h36.1v6.5h-36.1zM282.3 1916.3h36.1v6.5h-36.1zM357.8 1916.3h36.1v6.5h-36.1zM433.3 1916.3h36.1v6.5h-36.1zM735.3 1916.3h36.1v6.5h-36.1zM999.6 1916.3h36.1v6.5h-36.1zM471.0 1924.4h36.1v6.5h-36.1zM886.3 1924.4h36.1v6.5h-36.1zM169.0 1932.5h36.1v6.5h-36.1zM471.0 1932.5h36.1v6.5h-36.1zM773.1 1932.5h36.1v6.5h-36.1zM1188.3 1932.5h36.1v6.5h-36.1zM244.5 1940.6h36.1v6.5h-36.1zM357.8 1940.6h36.1v6.5h-36.1zM471.0 1940.6h36.1v6.5h-36.1zM584.3 1940.6h36.1v6.5h-36.1zM584.3 1948.7h36.1v6.5h-36.1zM1150.6 1948.7h36.1v6.5h-36.1zM169.0 1956.8h36.1v6.5h-36.1zM282.3 1956.8h36.1v6.5h-36.1zM357.8 1956.8h36.1v6.5h-36.1zM546.5 1956.8h36.1v6.5h-36.1zM169.0 1964.9h36.1v6.5h-36.1zM206.8 1964.9h36.1v6.5h-36.1zM848.6 1964.9h36.1v6.5h-36.1zM206.8 1973.0h36.1v6.5h-36.1zM206.8 1981.2h36.1v6.5h-36.1zM810.8 1981.2h36.1v6.5h-36.1zM886.3 1981.2h36.1v6.5h-36.1zM999.6 1981.2h36.1v6.5h-36.1zM546.5 1989.3h36.1v6.5h-36.1zM169.0 1997.4h36.1v6.5h-36.1zM961.8 1997.4h36.1v6.5h-36.1zM320.0 2005.5h36.1v6.5h-36.1zM1150.6 2005.5h36.1v6.5h-36.1zM131.2 2021.7h36.1v6.5h-36.1zM206.8 2021.7h36.1v6.5h-36.1zM1150.6 2021.7h36.1v6.5h-36.1zM169.0 2029.8h36.1v6.5h-36.1zM1112.8 2037.9h36.1v6.5h-36.1zM433.3 2046.0h36.1v6.5h-36.1zM1226.1 2046.0h36.1v6.5h-36.1zM320.0 2054.1h36.1v6.5h-36.1zM433.3 2054.1h36.1v6.5h-36.1zM131.2 2062.2h36.1v6.5h-36.1zM320.0 2062.2h36.1v6.5h-36.1zM471.0 2062.2h36.1v6.5h-36.1zM697.5 2062.2h36.1v6.5h-36.1zM848.6 2062.2h36.1v6.5h-36.1zM999.6 2062.2h36.1v6.5h-36.1zM1112.8 2062.2h36.1v6.5h-36.1zM471.0 2070.3h36.1v6.5h-36.1zM546.5 2070.3h36.1v6.5h-36.1zM735.3 2070.3h36.1v6.5h-36.1zM206.8 2078.4h36.1v6.5h-36.1zM471.0 2078.4h36.1v6.5h-36.1zM735.3 2086.6h36.1v6.5h-36.1zM206.8 2094.7h36.1v6.5h-36.1zM659.8 2094.7h36.1v6.5h-36.1zM810.8 2094.7h36.1v6.5h-36.1zM886.3 2102.8h36.1v6.5h-36.1zM999.6 2102.8h36.1v6.5h-36.1zM320.0 2110.9h36.1v6.5h-36.1zM206.8 2119.0h36.1v6.5h-36.1zM320.0 2119.0h36.1v6.5h-36.1zM697.5 2119.0h36.1v6.5h-36.1zM357.8 2127.1h36.1v6.5h-36.1zM471.0 2127.1h36.1v6.5h-36.1zM659.8 2127.1h36.1v6.5h-36.1zM848.6 2127.1h36.1v6.5h-36.1zM357.8 2135.2h36.1v6.5h-36.1zM282.3 2143.3h36.1v6.5h-36.1zM357.8 2143.3h36.1v6.5h-36.1zM848.6 2143.3h36.1v6.5h-36.1zM999.6 2143.3h36.1v6.5h-36.1zM1112.8 2143.3h36.1v6.5h-36.1zM1037.3 2151.4h36.1v6.5h-36.1zM697.5 2159.5h36.1v6.5h-36.1zM282.3 2167.6h36.1v6.5h-36.1zM659.8 2167.6h36.1v6.5h-36.1zM433.3 2175.7h36.1v6.5h-36.1zM622.0 2175.7h36.1v6.5h-36.1zM395.5 2191.9h36.1v6.5h-36.1zM471.0 2191.9h36.1v6.5h-36.1zM1112.8 2191.9h36.1v6.5h-36.1zM244.5 2200.1h36.1v6.5h-36.1zM282.3 2200.1h36.1v6.5h-36.1zM622.0 2200.1h36.1v6.5h-36.1zM320.0 2208.2h36.1v6.5h-36.1zM1112.8 2208.2h36.1v6.5h-36.1zM1150.6 2208.2h36.1v6.5h-36.1zM508.8 2216.3h36.1v6.5h-36.1zM848.6 2216.3h36.1v6.5h-36.1zM1150.6 2216.3h36.1v6.5h-36.1zM471.0 2224.4h36.1v6.5h-36.1zM508.8 2224.4h36.1v6.5h-36.1zM584.3 2224.4h36.1v6.5h-36.1zM622.0 2224.4h36.1v6.5h-36.1zM773.1 2224.4h36.1v6.5h-36.1zM1112.8 2224.4h36.1v6.5h-36.1zM848.6 2232.5h36.1v6.5h-36.1zM999.6 2232.5h36.1v6.5h-36.1zM1226.1 2232.5h36.1v6.5h-36.1zM961.8 2240.6h36.1v6.5h-36.1z"/><path fill="#e3e3ff" d="M697.5 1008.3h36.1v6.5h-36.1zM735.3 1008.3h36.1v6.5h-36.1zM924.1 1008.3h36.1v6.5h-36.1zM1075.1 1008.3h36.1v6.5h-36.1zM1150.6 1008.3h36.1v6.5h-36.1zM395.5 1016.4h36.1v6.5h-36.1zM433.3 1016.4h36.1v6.5h-36.1zM546.5 1016.4h36.1v6.5h-36.1zM659.8 1016.4h36.1v6.5h-36.1zM735.3 1016.4h36.1v6.5h-36.1zM810.8 1016.4h36.1v6.5h-36.1zM886.3 1016.4h36.1v6.5h-36.1zM1188.3 1016.4h36.1v6.5h-36.1zM1226.1 1016.4h36.1v6.5h-36.1zM735.3 1024.5h36.1v6.5h-36.1zM773.1 1024.5h36.1v6.5h-36.1zM810.8 1024.5h36.1v6.5h-36.1zM1188.3 1024.5h36.1v6.5h-36.1zM1226.1 1024.5h36.1v6.5h-36.1zM282.3 1032.6h36.1v6.5h-36.1zM395.5 1032.6h36.1v6.5h-36.1zM659.8 1032.6h36.1v6.5h-36.1zM735.3 1032.6h36.1v6.5h-36.1zM848.6 1032.6h36.1v6.5h-36.1zM1037.3 1032.6h36.1v6.5h-36.1zM1188.3 1032.6h36.1v6.5h-36.1zM471.0 1040.7h36.1v6.5h-36.1zM659.8 1040.7h36.1v6.5h-36.1zM810.8 1040.7h36.1v6.5h-36.1zM924.1 1040.7h36.1v6.5h-36.1zM1112.8 1040.7h36.1v6.5h-36.1zM924.1 1048.8h36.1v6.5h-36.1zM1188.3 1048.8h36.1v6.5h-36.1zM131.2 1056.9h36.1v6.5h-36.1zM357.8 1056.9h36.1v6.5h-36.1zM395.5 1056.9h36.1v6.5h-36.1zM433.3 1056.9h36.1v6.5h-36.1zM546.5 1056.9h36.1v6.5h-36.1zM735.3 1056.9h36.1v6.5h-36.1zM1075.1 1056.9h36.1v6.5h-36.1zM1226.1 1056.9h36.1v6.5h-36.1zM244.5 1073.2h36.1v6.5h-36.1zM886.3 1073.2h36.1v6.5h-36.1zM1188.3 1073.2h36.1v6.5h-36.1zM244.5 1081.3h36.1v6.5h-36.1zM886.3 1081.3h36.1v6.5h-36.1zM206.8 1089.4h36.1v6.5h-36.1zM395.5 1089.4h36.1v6.5h-36.1zM1150.6 1089.4h36.1v6.5h-36.1zM395.5 1097.5h36.1v6.5h-36.1zM546.5 1097.5h36.1v6.5h-36.1zM697.5 1097.5h36.1v6.5h-36.1zM735.3 1097.5h36.1v6.5h-36.1zM1075.1 1097.5h36.1v6.5h-36.1zM1188.3 1097.5h36.1v6.5h-36.1zM961.8 1105.6h36.1v6.5h-36.1zM1037.3 1105.6h36.1v6.5h-36.1zM1188.3 1105.6h36.1v6.5h-36.1zM244.5 1113.7h36.1v6.5h-36.1zM773.1 1113.7h36.1v6.5h-36.1zM1188.3 1113.7h36.1v6.5h-36.1zM131.2 1121.8h36.1v6.5h-36.1zM697.5 1121.8h36.1v6.5h-36.1zM1226.1 1121.8h36.1v6.5h-36.1zM848.6 1129.9h36.1v6.5h-36.1zM1150.6 1129.9h36.1v6.5h-36.1zM1188.3 1129.9h36.1v6.5h-36.1zM961.8 1138.0h36.1v6.5h-36.1zM924.1 1146.1h36.1v6.5h-36.1zM1150.6 1146.1h36.1v6.5h-36.1zM584.3 1154.2h36.1v6.5h-36.1zM961.8 1154.2h36.1v6.5h-36.1zM1112.8 1154.2h36.1v6.5h-36.1zM244.5 1162.3h36.1v6.5h-36.1zM886.3 1162.3h36.1v6.5h-36.1zM1188.3 1162.3h36.1v6.5h-36.1zM244.5 1170.4h36.1v6.5h-36.1zM433.3 1170.4h36.1v6.5h-36.1zM1075.1 1170.4h36.1v6.5h-36.1zM584.3 1178.5h36.1v6.5h-36.1zM1075.1 1178.5h36.1v6.5h-36.1zM1150.6 1178.5h36.1v6.5h-36.1zM244.5 1186.7h36.1v6.5h-36.1zM357.8 1186.7h36.1v6.5h-36.1zM395.5 1186.7h36.1v6.5h-36.1zM508.8 1186.7h36.1v6.5h-36.1zM1150.6 1186.7h36.1v6.5h-36.1zM508.8 1194.8h36.1v6.5h-36.1zM999.6 1194.8h36.1v6.5h-36.1zM1075.1 1194.8h36.1v6.5h-36.1zM1150.6 1194.8h36.1v6.5h-36.1zM395.5 1202.9h36.1v6.5h-36.1zM735.3 1202.9h36.1v6.5h-36.1zM999.6 1202.9h36.1v6.5h-36.1zM1075.1 1202.9h36.1v6.5h-36.1zM1150.6 1202.9h36.1v6.5h-36.1zM433.3 1211.0h36.1v6.5h-36.1zM999.6 1211.0h36.1v6.5h-36.1zM433.3 1219.1h36.1v6.5h-36.1zM508.8 1219.1h36.1v6.5h-36.1zM622.0 1219.1h36.1v6.5h-36.1zM848.6 1219.1h36.1v6.5h-36.1zM1037.3 1219.1h36.1v6.5h-36.1zM1226.1 1219.1h36.1v6.5h-36.1zM169.0 1227.2h36.1v6.5h-36.1zM320.0 1227.2h36.1v6.5h-36.1zM1150.6 1227.2h36.1v6.5h-36.1zM924.1 1235.3h36.1v6.5h-36.1zM999.6 1235.3h36.1v6.5h-36.1zM1150.6 1235.3h36.1v6.5h-36.1zM622.0 1243.4h36.1v6.5h-36.1zM924.1 1243.4h36.1v6.5h-36.1zM999.6 1243.4h36.1v6.5h-36.1zM1226.1 1243.4h36.1v6.5h-36.1zM169.0 1251.5h36.1v6.5h-36.1zM433.3 1251.5h36.1v6.5h-36.1zM773.1 1251.5h36.1v6.5h-36.1zM810.8 1251.5h36.1v6.5h-36.1zM1150.6 1251.5h36.1v6.5h-36.1zM1226.1 1251.5h36.1v6.5h-36.1zM433.3 1259.6h36.1v6.5h-36.1zM622.0 1259.6h36.1v6.5h-36.1zM697.5 1259.6h36.1v6.5h-36.1zM773.1 1259.6h36.1v6.5h-36.1zM320.0 1267.7h36.1v6.5h-36.1zM433.3 1267.7h36.1v6.5h-36.1zM1075.1 1267.7h36.1v6.5h-36.1zM1150.6 1267.7h36.1v6.5h-36.1zM508.8 1275.8h36.1v6.5h-36.1zM584.3 1275.8h36.1v6.5h-36.1zM735.3 1275.8h36.1v6.5h-36.1zM810.8 1275.8h36.1v6.5h-36.1zM1226.1 1275.8h36.1v6.5h-36.1zM169.0 1283.9h36.1v6.5h-36.1zM735.3 1283.9h36.1v6.5h-36.1zM1226.1 1283.9h36.1v6.5h-36.1zM395.5 1292.0h36.1v6.5h-36.1zM697.5 1292.0h36.1v6.5h-36.1zM735.3 1292.0h36.1v6.5h-36.1zM1112.8 1300.2h36.1v6.5h-36.1zM395.5 1308.3h36.1v6.5h-36.1zM508.8 1308.3h36.1v6.5h-36.1zM1112.8 1308.3h36.1v6.5h-36.1zM1226.1 1308.3h36.1v6.5h-36.1zM169.0 1316.4h36.1v6.5h-36.1zM848.6 1316.4h36.1v6.5h-36.1zM206.8 1324.5h36.1v6.5h-36.1zM395.5 1324.5h36.1v6.5h-36.1zM508.8 1324.5h36.1v6.5h-36.1zM848.6 1324.5h36.1v6.5h-36.1zM961.8 1324.5h36.1v6.5h-36.1zM1037.3 1324.5h36.1v6.5h-36.1zM1150.6 1324.5h36.1v6.5h-36.1zM395.5 1332.6h36.1v6.5h-36.1zM735.3 1332.6h36.1v6.5h-36.1zM999.6 1332.6h36.1v6.5h-36.1zM1150.6 1332.6h36.1v6.5h-36.1zM395.5 1340.7h36.1v6.5h-36.1zM508.8 1340.7h36.1v6.5h-36.1zM1075.1 1340.7h36.1v6.5h-36.1zM169.0 1348.8h36.1v6.5h-36.1zM508.8 1348.8h36.1v6.5h-36.1zM1075.1 1348.8h36.1v6.5h-36.1zM1037.3 1356.9h36.1v6.5h-36.1zM1075.1 1356.9h36.1v6.5h-36.1zM1150.6 1356.9h36.1v6.5h-36.1zM206.8 1365.0h36.1v6.5h-36.1zM433.3 1365.0h36.1v6.5h-36.1zM659.8 1365.0h36.1v6.5h-36.1zM1075.1 1365.0h36.1v6.5h-36.1zM1150.6 1365.0h36.1v6.5h-36.1zM282.3 1373.1h36.1v6.5h-36.1zM810.8 1373.1h36.1v6.5h-36.1zM1150.6 1373.1h36.1v6.5h-36.1zM1226.1 1373.1h36.1v6.5h-36.1zM169.0 1381.2h36.1v6.5h-36.1zM471.0 1381.2h36.1v6.5h-36.1zM508.8 1381.2h36.1v6.5h-36.1zM1150.6 1381.2h36.1v6.5h-36.1zM961.8 1389.3h36.1v6.5h-36.1zM659.8 1397.4h36.1v6.5h-36.1zM735.3 1397.4h36.1v6.5h-36.1zM924.1 1397.4h36.1v6.5h-36.1zM961.8 1397.4h36.1v6.5h-36.1zM999.6 1397.4h36.1v6.5h-36.1zM1037.3 1397.4h36.1v6.5h-36.1zM1075.1 1397.4h36.1v6.5h-36.1zM471.0 1405.5h36.1v6.5h-36.1zM924.1 1405.5h36.1v6.5h-36.1zM1075.1 1405.5h36.1v6.5h-36.1zM1226.1 1405.5h36.1v6.5h-36.1zM357.8 1413.7h36.1v6.5h-36.1zM508.8 1413.7h36.1v6.5h-36.1zM735.3 1413.7h36.1v6.5h-36.1zM810.8 1413.7h36.1v6.5h-36.1zM1112.8 1413.7h36.1v6.5h-36.1zM1150.6 1413.7h36.1v6.5h-36.1zM508.8 1421.8h36.1v6.5h-36.1zM924.1 1421.8h36.1v6.5h-36.1zM1150.6 1421.8h36.1v6.5h-36.1zM169.0 1429.9h36.1v6.5h-36.1zM206.8 1429.9h36.1v6.5h-36.1zM471.0 1429.9h36.1v6.5h-36.1zM508.8 1429.9h36.1v6.5h-36.1zM1150.6 1429.9h36.1v6.5h-36.1zM206.8 1438.0h36.1v6.5h-36.1zM433.3 1438.0h36.1v6.5h-36.1zM471.0 1438.0h36.1v6.5h-36.1zM508.8 1438.0h36.1v6.5h-36.1zM810.8 1438.0h36.1v6.5h-36.1zM848.6 1438.0h36.1v6.5h-36.1zM622.0 1446.1h36.1v6.5h-36.1zM961.8 1446.1h36.1v6.5h-36.1zM999.6 1446.1h36.1v6.5h-36.1zM1075.1 1446.1h36.1v6.5h-36.1zM1226.1 1446.1h36.1v6.5h-36.1zM1075.1 1454.2h36.1v6.5h-36.1zM1112.8 1454.2h36.1v6.5h-36.1zM1226.1 1454.2h36.1v6.5h-36.1zM320.0 1462.3h36.1v6.5h-36.1zM697.5 1462.3h36.1v6.5h-36.1zM848.6 1462.3h36.1v6.5h-36.1zM886.3 1462.3h36.1v6.5h-36.1zM1226.1 1462.3h36.1v6.5h-36.1zM357.8 1470.4h36.1v6.5h-36.1zM546.5 1470.4h36.1v6.5h-36.1zM659.8 1470.4h36.1v6.5h-36.1zM848.6 1470.4h36.1v6.5h-36.1zM886.3 1470.4h36.1v6.5h-36.1zM961.8 1470.4h36.1v6.5h-36.1zM1150.6 1470.4h36.1v6.5h-36.1zM810.8 1478.5h36.1v6.5h-36.1zM1150.6 1478.5h36.1v6.5h-36.1zM395.5 1486.6h36.1v6.5h-36.1zM584.3 1486.6h36.1v6.5h-36.1zM848.6 1486.6h36.1v6.5h-36.1zM1112.8 1486.6h36.1v6.5h-36.1zM282.3 1494.7h36.1v6.5h-36.1zM1112.8 1494.7h36.1v6.5h-36.1zM1150.6 1494.7h36.1v6.5h-36.1zM357.8 1502.8h36.1v6.5h-36.1zM433.3 1502.8h36.1v6.5h-36.1zM508.8 1502.8h36.1v6.5h-36.1zM546.5 1502.8h36.1v6.5h-36.1zM584.3 1502.8h36.1v6.5h-36.1zM508.8 1510.9h36.1v6.5h-36.1zM546.5 1510.9h36.1v6.5h-36.1zM508.8 1519.0h36.1v6.5h-36.1zM622.0 1519.0h36.1v6.5h-36.1zM659.8 1519.0h36.1v6.5h-36.1zM848.6 1519.0h36.1v6.5h-36.1zM961.8 1519.0h36.1v6.5h-36.1zM357.8 1527.2h36.1v6.5h-36.1zM471.0 1527.2h36.1v6.5h-36.1zM584.3 1527.2h36.1v6.5h-36.1zM282.3 1535.3h36.1v6.5h-36.1zM471.0 1535.3h36.1v6.5h-36.1zM735.3 1535.3h36.1v6.5h-36.1zM999.6 1535.3h36.1v6.5h-36.1zM1226.1 1535.3h36.1v6.5h-36.1zM206.8 1543.4h36.1v6.5h-36.1zM924.1 1543.4h36.1v6.5h-36.1zM961.8 1543.4h36.1v6.5h-36.1zM131.2 1551.5h36.1v6.5h-36.1zM357.8 1551.5h36.1v6.5h-36.1zM659.8 1551.5h36.1v6.5h-36.1zM961.8 1551.5h36.1v6.5h-36.1zM1150.6 1551.5h36.1v6.5h-36.1zM1226.1 1551.5h36.1v6.5h-36.1zM206.8 1559.6h36.1v6.5h-36.1zM282.3 1559.6h36.1v6.5h-36.1zM508.8 1559.6h36.1v6.5h-36.1zM659.8 1559.6h36.1v6.5h-36.1zM886.3 1559.6h36.1v6.5h-36.1zM1226.1 1559.6h36.1v6.5h-36.1zM471.0 1567.7h36.1v6.5h-36.1zM584.3 1567.7h36.1v6.5h-36.1zM659.8 1567.7h36.1v6.5h-36.1zM697.5 1567.7h36.1v6.5h-36.1zM810.8 1567.7h36.1v6.5h-36.1zM659.8 1575.8h36.1v6.5h-36.1zM1226.1 1575.8h36.1v6.5h-36.1zM659.8 1583.9h36.1v6.5h-36.1zM773.1 1583.9h36.1v6.5h-36.1zM999.6 1583.9h36.1v6.5h-36.1zM1188.3 1583.9h36.1v6.5h-36.1zM508.8 1592.0h36.1v6.5h-36.1zM961.8 1592.0h36.1v6.5h-36.1zM1226.1 1592.0h36.1v6.5h-36.1zM131.2 1600.1h36.1v6.5h-36.1zM169.0 1600.1h36.1v6.5h-36.1zM357.8 1600.1h36.1v6.5h-36.1zM433.3 1600.1h36.1v6.5h-36.1zM508.8 1600.1h36.1v6.5h-36.1zM622.0 1600.1h36.1v6.5h-36.1zM697.5 1600.1h36.1v6.5h-36.1zM999.6 1600.1h36.1v6.5h-36.1zM1037.3 1600.1h36.1v6.5h-36.1zM357.8 1608.2h36.1v6.5h-36.1zM433.3 1608.2h36.1v6.5h-36.1zM508.8 1608.2h36.1v6.5h-36.1zM584.3 1608.2h36.1v6.5h-36.1zM773.1 1608.2h36.1v6.5h-36.1zM131.2 1616.3h36.1v6.5h-36.1zM320.0 1616.3h36.1v6.5h-36.1zM357.8 1616.3h36.1v6.5h-36.1zM622.0 1616.3h36.1v6.5h-36.1zM1037.3 1616.3h36.1v6.5h-36.1zM320.0 1624.4h36.1v6.5h-36.1zM508.8 1624.4h36.1v6.5h-36.1zM848.6 1624.4h36.1v6.5h-36.1zM924.1 1624.4h36.1v6.5h-36.1zM206.8 1632.5h36.1v6.5h-36.1zM433.3 1632.5h36.1v6.5h-36.1zM1037.3 1632.5h36.1v6.5h-36.1zM395.5 1640.7h36.1v6.5h-36.1zM546.5 1640.7h36.1v6.5h-36.1zM810.8 1640.7h36.1v6.5h-36.1zM1112.8 1640.7h36.1v6.5h-36.1zM1150.6 1640.7h36.1v6.5h-36.1zM282.3 1648.8h36.1v6.5h-36.1zM659.8 1648.8h36.1v6.5h-36.1zM546.5 1656.9h36.1v6.5h-36.1zM622.0 1656.9h36.1v6.5h-36.1zM659.8 1656.9h36.1v6.5h-36.1zM810.8 1656.9h36.1v6.5h-36.1zM924.1 1656.9h36.1v6.5h-36.1zM206.8 1665.0h36.1v6.5h-36.1zM659.8 1665.0h36.1v6.5h-36.1zM282.3 1673.1h36.1v6.5h-36.1zM320.0 1673.1h36.1v6.5h-36.1zM395.5 1673.1h36.1v6.5h-36.1zM622.0 1673.1h36.1v6.5h-36.1zM735.3 1673.1h36.1v6.5h-36.1zM961.8 1673.1h36.1v6.5h-36.1zM1150.6 1673.1h36.1v6.5h-36.1zM206.8 1681.2h36.1v6.5h-36.1zM282.3 1681.2h36.1v6.5h-36.1zM546.5 1681.2h36.1v6.5h-36.1zM584.3 1681.2h36.1v6.5h-36.1zM508.8 1689.3h36.1v6.5h-36.1zM546.5 1689.3h36.1v6.5h-36.1zM961.8 1689.3h36.1v6.5h-36.1zM206.8 1697.4h36.1v6.5h-36.1zM244.5 1697.4h36.1v6.5h-36.1zM320.0 1697.4h36.1v6.5h-36.1zM546.5 1697.4h36.1v6.5h-36.1zM924.1 1697.4h36.1v6.5h-36.1zM1037.3 1697.4h36.1v6.5h-36.1zM584.3 1705.5h36.1v6.5h-36.1zM1112.8 1705.5h36.1v6.5h-36.1zM244.5 1713.6h36.1v6.5h-36.1zM471.0 1713.6h36.1v6.5h-36.1zM131.2 1721.7h36.1v6.5h-36.1zM244.5 1721.7h36.1v6.5h-36.1zM320.0 1721.7h36.1v6.5h-36.1zM1075.1 1721.7h36.1v6.5h-36.1zM1112.8 1721.7h36.1v6.5h-36.1zM1188.3 1721.7h36.1v6.5h-36.1zM1112.8 1729.8h36.1v6.5h-36.1zM1188.3 1729.8h36.1v6.5h-36.1zM206.8 1737.9h36.1v6.5h-36.1zM659.8 1737.9h36.1v6.5h-36.1zM810.8 1737.9h36.1v6.5h-36.1zM1075.1 1737.9h36.1v6.5h-36.1zM169.0 1746.0h36.1v6.5h-36.1zM508.8 1746.0h36.1v6.5h-36.1zM546.5 1762.3h36.1v6.5h-36.1zM584.3 1762.3h36.1v6.5h-36.1zM697.5 1762.3h36.1v6.5h-36.1zM1112.8 1762.3h36.1v6.5h-36.1zM1150.6 1762.3h36.1v6.5h-36.1zM508.8 1770.4h36.1v6.5h-36.1zM848.6 1770.4h36.1v6.5h-36.1zM1188.3 1770.4h36.1v6.5h-36.1zM131.2 1778.5h36.1v6.5h-36.1zM320.0 1778.5h36.1v6.5h-36.1zM206.8 1786.6h36.1v6.5h-36.1zM320.0 1786.6h36.1v6.5h-36.1zM169.0 1802.8h36.1v6.5h-36.1zM1150.6 1802.8h36.1v6.5h-36.1zM206.8 1810.9h36.1v6.5h-36.1zM357.8 1810.9h36.1v6.5h-36.1zM810.8 1810.9h36.1v6.5h-36.1zM999.6 1810.9h36.1v6.5h-36.1zM1150.6 1810.9h36.1v6.5h-36.1zM697.5 1819.0h36.1v6.5h-36.1zM810.8 1819.0h36.1v6.5h-36.1zM961.8 1819.0h36.1v6.5h-36.1zM1112.8 1819.0h36.1v6.5h-36.1zM1150.6 1819.0h36.1v6.5h-36.1zM471.0 1827.1h36.1v6.5h-36.1zM433.3 1835.2h36.1v6.5h-36.1zM1112.8 1835.2h36.1v6.5h-36.1zM282.3 1843.3h36.1v6.5h-36.1zM584.3 1843.3h36.1v6.5h-36.1zM773.1 1843.3h36.1v6.5h-36.1zM810.8 1843.3h36.1v6.5h-36.1zM1037.3 1843.3h36.1v6.5h-36.1zM169.0 1851.4h36.1v6.5h-36.1zM169.0 1859.5h36.1v6.5h-36.1zM282.3 1859.5h36.1v6.5h-36.1zM546.5 1859.5h36.1v6.5h-36.1zM584.3 1859.5h36.1v6.5h-36.1zM659.8 1859.5h36.1v6.5h-36.1zM848.6 1859.5h36.1v6.5h-36.1zM395.5 1867.7h36.1v6.5h-36.1zM773.1 1867.7h36.1v6.5h-36.1zM848.6 1867.7h36.1v6.5h-36.1zM471.0 1875.8h36.1v6.5h-36.1zM206.8 1883.9h36.1v6.5h-36.1zM508.8 1883.9h36.1v6.5h-36.1zM546.5 1883.9h36.1v6.5h-36.1zM659.8 1883.9h36.1v6.5h-36.1zM169.0 1892.0h36.1v6.5h-36.1zM395.5 1892.0h36.1v6.5h-36.1zM508.8 1892.0h36.1v6.5h-36.1zM622.0 1892.0h36.1v6.5h-36.1zM659.8 1892.0h36.1v6.5h-36.1zM206.8 1900.1h36.1v6.5h-36.1zM546.5 1900.1h36.1v6.5h-36.1zM659.8 1900.1h36.1v6.5h-36.1zM697.5 1900.1h36.1v6.5h-36.1zM810.8 1900.1h36.1v6.5h-36.1zM206.8 1908.2h36.1v6.5h-36.1zM244.5 1908.2h36.1v6.5h-36.1zM357.8 1908.2h36.1v6.5h-36.1zM395.5 1908.2h36.1v6.5h-36.1zM546.5 1916.3h36.1v6.5h-36.1zM659.8 1924.4h36.1v6.5h-36.1zM1226.1 1924.4h36.1v6.5h-36.1zM244.5 1932.5h36.1v6.5h-36.1zM546.5 1932.5h36.1v6.5h-36.1zM584.3 1932.5h36.1v6.5h-36.1zM659.8 1932.5h36.1v6.5h-36.1zM1112.8 1932.5h36.1v6.5h-36.1zM546.5 1940.6h36.1v6.5h-36.1zM622.0 1940.6h36.1v6.5h-36.1zM924.1 1940.6h36.1v6.5h-36.1zM1112.8 1940.6h36.1v6.5h-36.1zM169.0 1948.7h36.1v6.5h-36.1zM395.5 1956.8h36.1v6.5h-36.1zM1112.8 1956.8h36.1v6.5h-36.1zM131.2 1964.9h36.1v6.5h-36.1zM282.3 1964.9h36.1v6.5h-36.1zM357.8 1964.9h36.1v6.5h-36.1zM508.8 1964.9h36.1v6.5h-36.1zM961.8 1964.9h36.1v6.5h-36.1zM1075.1 1964.9h36.1v6.5h-36.1zM1150.6 1964.9h36.1v6.5h-36.1zM131.2 1973.0h36.1v6.5h-36.1zM169.0 1973.0h36.1v6.5h-36.1zM508.8 1973.0h36.1v6.5h-36.1zM584.3 1973.0h36.1v6.5h-36.1zM697.5 1973.0h36.1v6.5h-36.1zM810.8 1973.0h36.1v6.5h-36.1zM357.8 1981.2h36.1v6.5h-36.1zM659.8 1981.2h36.1v6.5h-36.1zM697.5 1981.2h36.1v6.5h-36.1zM1150.6 1981.2h36.1v6.5h-36.1zM697.5 1989.3h36.1v6.5h-36.1zM357.8 1997.4h36.1v6.5h-36.1zM659.8 1997.4h36.1v6.5h-36.1zM1112.8 1997.4h36.1v6.5h-36.1zM1150.6 1997.4h36.1v6.5h-36.1zM169.0 2005.5h36.1v6.5h-36.1zM584.3 2005.5h36.1v6.5h-36.1zM659.8 2005.5h36.1v6.5h-36.1zM697.5 2005.5h36.1v6.5h-36.1zM961.8 2005.5h36.1v6.5h-36.1zM1226.1 2005.5h36.1v6.5h-36.1zM659.8 2013.6h36.1v6.5h-36.1zM697.5 2013.6h36.1v6.5h-36.1zM1150.6 2013.6h36.1v6.5h-36.1zM395.5 2021.7h36.1v6.5h-36.1zM471.0 2021.7h36.1v6.5h-36.1zM659.8 2021.7h36.1v6.5h-36.1zM848.6 2021.7h36.1v6.5h-36.1zM357.8 2029.8h36.1v6.5h-36.1zM697.5 2029.8h36.1v6.5h-36.1zM810.8 2029.8h36.1v6.5h-36.1zM848.6 2029.8h36.1v6.5h-36.1zM961.8 2029.8h36.1v6.5h-36.1zM546.5 2037.9h36.1v6.5h-36.1zM169.0 2046.0h36.1v6.5h-36.1zM206.8 2046.0h36.1v6.5h-36.1zM357.8 2046.0h36.1v6.5h-36.1zM508.8 2046.0h36.1v6.5h-36.1zM999.6 2046.0h36.1v6.5h-36.1zM1150.6 2046.0h36.1v6.5h-36.1zM169.0 2054.1h36.1v6.5h-36.1zM999.6 2054.1h36.1v6.5h-36.1zM1150.6 2054.1h36.1v6.5h-36.1zM169.0 2062.2h36.1v6.5h-36.1zM282.3 2062.2h36.1v6.5h-36.1zM395.5 2062.2h36.1v6.5h-36.1zM810.8 2062.2h36.1v6.5h-36.1zM169.0 2070.3h36.1v6.5h-36.1zM244.5 2070.3h36.1v6.5h-36.1zM282.3 2070.3h36.1v6.5h-36.1zM357.8 2070.3h36.1v6.5h-36.1zM508.8 2070.3h36.1v6.5h-36.1zM584.3 2070.3h36.1v6.5h-36.1zM659.8 2070.3h36.1v6.5h-36.1zM810.8 2070.3h36.1v6.5h-36.1zM848.6 2070.3h36.1v6.5h-36.1zM357.8 2078.4h36.1v6.5h-36.1zM659.8 2078.4h36.1v6.5h-36.1zM282.3 2086.6h36.1v6.5h-36.1zM320.0 2086.6h36.1v6.5h-36.1zM357.8 2086.6h36.1v6.5h-36.1zM471.0 2094.7h36.1v6.5h-36.1zM622.0 2094.7h36.1v6.5h-36.1zM1150.6 2094.7h36.1v6.5h-36.1zM206.8 2110.9h36.1v6.5h-36.1zM282.3 2110.9h36.1v6.5h-36.1zM773.1 2110.9h36.1v6.5h-36.1zM810.8 2110.9h36.1v6.5h-36.1zM357.8 2119.0h36.1v6.5h-36.1zM659.8 2119.0h36.1v6.5h-36.1zM1075.1 2119.0h36.1v6.5h-36.1zM622.0 2127.1h36.1v6.5h-36.1zM131.2 2143.3h36.1v6.5h-36.1zM584.3 2143.3h36.1v6.5h-36.1zM622.0 2143.3h36.1v6.5h-36.1zM659.8 2143.3h36.1v6.5h-36.1zM697.5 2151.4h36.1v6.5h-36.1zM169.0 2159.5h36.1v6.5h-36.1zM357.8 2159.5h36.1v6.5h-36.1zM471.0 2159.5h36.1v6.5h-36.1zM659.8 2159.5h36.1v6.5h-36.1zM848.6 2159.5h36.1v6.5h-36.1zM999.6 2159.5h36.1v6.5h-36.1zM622.0 2167.6h36.1v6.5h-36.1zM999.6 2167.6h36.1v6.5h-36.1zM131.2 2183.8h36.1v6.5h-36.1zM357.8 2183.8h36.1v6.5h-36.1zM848.6 2191.9h36.1v6.5h-36.1zM320.0 2200.1h36.1v6.5h-36.1zM395.5 2200.1h36.1v6.5h-36.1zM810.8 2200.1h36.1v6.5h-36.1zM848.6 2200.1h36.1v6.5h-36.1zM999.6 2200.1h36.1v6.5h-36.1zM1150.6 2200.1h36.1v6.5h-36.1zM357.8 2208.2h36.1v6.5h-36.1zM433.3 2208.2h36.1v6.5h-36.1zM810.8 2208.2h36.1v6.5h-36.1zM395.5 2216.3h36.1v6.5h-36.1zM622.0 2216.3h36.1v6.5h-36.1zM848.6 2224.4h36.1v6.5h-36.1zM357.8 2232.5h36.1v6.5h-36.1zM433.3 2240.6h36.1v6.5h-36.1zM697.5 2240.6h36.1v6.5h-36.1zM924.1 2240.6h36.1v6.5h-36.1zM1112.8 2240.6h36.1v6.5h-36.1zM206.8 2248.7h36.1v6.5h-36.1zM433.3 2248.7h36.1v6.5h-36.1zM584.3 2248.7h36.1v6.5h-36.1zM622.0 2248.7h36.1v6.5h-36.1z"/><path fill="#a6a6ff" d="M810.8 1008.3h36.1v6.5h-36.1zM1037.3 1008.3h36.1v6.5h-36.1zM433.3 1024.5h36.1v6.5h-36.1zM961.8 1024.5h36.1v6.5h-36.1zM1037.3 1024.5h36.1v6.5h-36.1zM433.3 1032.6h36.1v6.5h-36.1zM546.5 1032.6h36.1v6.5h-36.1zM773.1 1032.6h36.1v6.5h-36.1zM1226.1 1032.6h36.1v6.5h-36.1zM735.3 1040.7h36.1v6.5h-36.1zM1075.1 1040.7h36.1v6.5h-36.1zM1188.3 1040.7h36.1v6.5h-36.1zM433.3 1048.8h36.1v6.5h-36.1zM659.8 1056.9h36.1v6.5h-36.1zM886.3 1056.9h36.1v6.5h-36.1zM924.1 1056.9h36.1v6.5h-36.1zM1037.3 1056.9h36.1v6.5h-36.1zM1150.6 1056.9h36.1v6.5h-36.1zM1226.1 1073.2h36.1v6.5h-36.1zM697.5 1081.3h36.1v6.5h-36.1zM924.1 1081.3h36.1v6.5h-36.1zM999.6 1081.3h36.1v6.5h-36.1zM1075.1 1081.3h36.1v6.5h-36.1zM1188.3 1081.3h36.1v6.5h-36.1zM1226.1 1081.3h36.1v6.5h-36.1zM697.5 1089.4h36.1v6.5h-36.1zM735.3 1089.4h36.1v6.5h-36.1zM924.1 1089.4h36.1v6.5h-36.1zM961.8 1089.4h36.1v6.5h-36.1zM1188.3 1089.4h36.1v6.5h-36.1zM1226.1 1089.4h36.1v6.5h-36.1zM961.8 1097.5h36.1v6.5h-36.1zM999.6 1097.5h36.1v6.5h-36.1zM1150.6 1097.5h36.1v6.5h-36.1zM1226.1 1097.5h36.1v6.5h-36.1zM886.3 1105.6h36.1v6.5h-36.1zM1075.1 1105.6h36.1v6.5h-36.1zM1226.1 1105.6h36.1v6.5h-36.1zM924.1 1113.7h36.1v6.5h-36.1zM1226.1 1113.7h36.1v6.5h-36.1zM810.8 1121.8h36.1v6.5h-36.1zM924.1 1121.8h36.1v6.5h-36.1zM395.5 1129.9h36.1v6.5h-36.1zM810.8 1129.9h36.1v6.5h-36.1zM999.6 1129.9h36.1v6.5h-36.1zM1226.1 1129.9h36.1v6.5h-36.1zM395.5 1138.0h36.1v6.5h-36.1zM1037.3 1138.0h36.1v6.5h-36.1zM1188.3 1138.0h36.1v6.5h-36.1zM395.5 1146.1h36.1v6.5h-36.1zM886.3 1146.1h36.1v6.5h-36.1zM961.8 1146.1h36.1v6.5h-36.1zM1226.1 1146.1h36.1v6.5h-36.1zM735.3 1154.2h36.1v6.5h-36.1zM848.6 1154.2h36.1v6.5h-36.1zM924.1 1154.2h36.1v6.5h-36.1zM1150.6 1154.2h36.1v6.5h-36.1zM433.3 1162.3h36.1v6.5h-36.1zM999.6 1162.3h36.1v6.5h-36.1zM1075.1 1162.3h36.1v6.5h-36.1zM1112.8 1162.3h36.1v6.5h-36.1zM546.5 1170.4h36.1v6.5h-36.1zM961.8 1170.4h36.1v6.5h-36.1zM999.6 1170.4h36.1v6.5h-36.1zM1226.1 1170.4h36.1v6.5h-36.1zM395.5 1178.5h36.1v6.5h-36.1zM433.3 1186.7h36.1v6.5h-36.1zM924.1 1186.7h36.1v6.5h-36.1zM961.8 1186.7h36.1v6.5h-36.1zM1037.3 1186.7h36.1v6.5h-36.1zM735.3 1194.8h36.1v6.5h-36.1zM886.3 1194.8h36.1v6.5h-36.1zM169.0 1202.9h36.1v6.5h-36.1zM433.3 1202.9h36.1v6.5h-36.1zM773.1 1202.9h36.1v6.5h-36.1zM1188.3 1202.9h36.1v6.5h-36.1zM1226.1 1202.9h36.1v6.5h-36.1zM961.8 1211.0h36.1v6.5h-36.1zM1037.3 1211.0h36.1v6.5h-36.1zM357.8 1219.1h36.1v6.5h-36.1zM886.3 1219.1h36.1v6.5h-36.1zM924.1 1219.1h36.1v6.5h-36.1zM961.8 1219.1h36.1v6.5h-36.1zM999.6 1219.1h36.1v6.5h-36.1zM1075.1 1219.1h36.1v6.5h-36.1zM697.5 1227.2h36.1v6.5h-36.1zM886.3 1227.2h36.1v6.5h-36.1zM924.1 1227.2h36.1v6.5h-36.1zM961.8 1227.2h36.1v6.5h-36.1zM1075.1 1227.2h36.1v6.5h-36.1zM735.3 1235.3h36.1v6.5h-36.1zM886.3 1235.3h36.1v6.5h-36.1zM1075.1 1235.3h36.1v6.5h-36.1zM433.3 1243.4h36.1v6.5h-36.1zM773.1 1243.4h36.1v6.5h-36.1zM886.3 1243.4h36.1v6.5h-36.1zM961.8 1243.4h36.1v6.5h-36.1zM1188.3 1243.4h36.1v6.5h-36.1zM886.3 1251.5h36.1v6.5h-36.1zM961.8 1251.5h36.1v6.5h-36.1zM1188.3 1251.5h36.1v6.5h-36.1zM584.3 1259.6h36.1v6.5h-36.1zM735.3 1259.6h36.1v6.5h-36.1zM886.3 1259.6h36.1v6.5h-36.1zM961.8 1259.6h36.1v6.5h-36.1zM1188.3 1259.6h36.1v6.5h-36.1zM810.8 1267.7h36.1v6.5h-36.1zM848.6 1267.7h36.1v6.5h-36.1zM886.3 1267.7h36.1v6.5h-36.1zM961.8 1267.7h36.1v6.5h-36.1zM1188.3 1267.7h36.1v6.5h-36.1zM1226.1 1267.7h36.1v6.5h-36.1zM244.5 1283.9h36.1v6.5h-36.1zM961.8 1283.9h36.1v6.5h-36.1zM961.8 1292.0h36.1v6.5h-36.1zM508.8 1300.2h36.1v6.5h-36.1zM735.3 1300.2h36.1v6.5h-36.1zM810.8 1300.2h36.1v6.5h-36.1zM1075.1 1300.2h36.1v6.5h-36.1zM584.3 1308.3h36.1v6.5h-36.1zM735.3 1308.3h36.1v6.5h-36.1zM886.3 1308.3h36.1v6.5h-36.1zM1075.1 1308.3h36.1v6.5h-36.1zM584.3 1316.4h36.1v6.5h-36.1zM735.3 1316.4h36.1v6.5h-36.1zM886.3 1316.4h36.1v6.5h-36.1zM961.8 1316.4h36.1v6.5h-36.1zM1075.1 1316.4h36.1v6.5h-36.1zM320.0 1324.5h36.1v6.5h-36.1zM924.1 1324.5h36.1v6.5h-36.1zM584.3 1332.6h36.1v6.5h-36.1zM697.5 1332.6h36.1v6.5h-36.1zM886.3 1332.6h36.1v6.5h-36.1zM1112.8 1332.6h36.1v6.5h-36.1zM1226.1 1332.6h36.1v6.5h-36.1zM1037.3 1340.7h36.1v6.5h-36.1zM1112.8 1340.7h36.1v6.5h-36.1zM206.8 1348.8h36.1v6.5h-36.1zM697.5 1348.8h36.1v6.5h-36.1zM886.3 1348.8h36.1v6.5h-36.1zM999.6 1348.8h36.1v6.5h-36.1zM169.0 1356.9h36.1v6.5h-36.1zM697.5 1356.9h36.1v6.5h-36.1zM508.8 1365.0h36.1v6.5h-36.1zM886.3 1365.0h36.1v6.5h-36.1zM961.8 1365.0h36.1v6.5h-36.1zM357.8 1373.1h36.1v6.5h-36.1zM735.3 1373.1h36.1v6.5h-36.1zM848.6 1373.1h36.1v6.5h-36.1zM924.1 1373.1h36.1v6.5h-36.1zM999.6 1373.1h36.1v6.5h-36.1zM1037.3 1373.1h36.1v6.5h-36.1zM1112.8 1373.1h36.1v6.5h-36.1zM546.5 1381.2h36.1v6.5h-36.1zM735.3 1381.2h36.1v6.5h-36.1zM999.6 1381.2h36.1v6.5h-36.1zM1037.3 1381.2h36.1v6.5h-36.1zM1112.8 1381.2h36.1v6.5h-36.1zM773.1 1389.3h36.1v6.5h-36.1zM924.1 1389.3h36.1v6.5h-36.1zM999.6 1389.3h36.1v6.5h-36.1zM1037.3 1389.3h36.1v6.5h-36.1zM1112.8 1389.3h36.1v6.5h-36.1zM1150.6 1389.3h36.1v6.5h-36.1zM1112.8 1405.5h36.1v6.5h-36.1zM320.0 1413.7h36.1v6.5h-36.1zM546.5 1413.7h36.1v6.5h-36.1zM773.1 1413.7h36.1v6.5h-36.1zM924.1 1413.7h36.1v6.5h-36.1zM961.8 1413.7h36.1v6.5h-36.1zM131.2 1421.8h36.1v6.5h-36.1zM697.5 1421.8h36.1v6.5h-36.1zM961.8 1421.8h36.1v6.5h-36.1zM1188.3 1421.8h36.1v6.5h-36.1zM697.5 1429.9h36.1v6.5h-36.1zM735.3 1429.9h36.1v6.5h-36.1zM773.1 1429.9h36.1v6.5h-36.1zM848.6 1429.9h36.1v6.5h-36.1zM924.1 1429.9h36.1v6.5h-36.1zM1188.3 1429.9h36.1v6.5h-36.1zM697.5 1438.0h36.1v6.5h-36.1zM735.3 1438.0h36.1v6.5h-36.1zM886.3 1438.0h36.1v6.5h-36.1zM1150.6 1438.0h36.1v6.5h-36.1zM320.0 1446.1h36.1v6.5h-36.1zM735.3 1454.2h36.1v6.5h-36.1zM924.1 1462.3h36.1v6.5h-36.1zM622.0 1470.4h36.1v6.5h-36.1zM169.0 1478.5h36.1v6.5h-36.1zM282.3 1478.5h36.1v6.5h-36.1zM395.5 1478.5h36.1v6.5h-36.1zM584.3 1478.5h36.1v6.5h-36.1zM848.6 1478.5h36.1v6.5h-36.1zM206.8 1486.6h36.1v6.5h-36.1zM320.0 1486.6h36.1v6.5h-36.1zM999.6 1486.6h36.1v6.5h-36.1zM320.0 1494.7h36.1v6.5h-36.1zM395.5 1494.7h36.1v6.5h-36.1zM848.6 1494.7h36.1v6.5h-36.1zM1226.1 1494.7h36.1v6.5h-36.1zM622.0 1502.8h36.1v6.5h-36.1zM697.5 1502.8h36.1v6.5h-36.1zM1112.8 1502.8h36.1v6.5h-36.1zM131.2 1510.9h36.1v6.5h-36.1zM282.3 1510.9h36.1v6.5h-36.1zM584.3 1510.9h36.1v6.5h-36.1zM131.2 1519.0h36.1v6.5h-36.1zM169.0 1519.0h36.1v6.5h-36.1zM131.2 1527.2h36.1v6.5h-36.1zM169.0 1527.2h36.1v6.5h-36.1zM697.5 1527.2h36.1v6.5h-36.1zM357.8 1535.3h36.1v6.5h-36.1zM508.8 1535.3h36.1v6.5h-36.1zM697.5 1535.3h36.1v6.5h-36.1zM810.8 1535.3h36.1v6.5h-36.1zM131.2 1543.4h36.1v6.5h-36.1zM282.3 1543.4h36.1v6.5h-36.1zM320.0 1543.4h36.1v6.5h-36.1zM584.3 1543.4h36.1v6.5h-36.1zM810.8 1543.4h36.1v6.5h-36.1zM320.0 1551.5h36.1v6.5h-36.1zM697.5 1551.5h36.1v6.5h-36.1zM433.3 1559.6h36.1v6.5h-36.1zM546.5 1559.6h36.1v6.5h-36.1zM131.2 1567.7h36.1v6.5h-36.1zM320.0 1567.7h36.1v6.5h-36.1zM433.3 1567.7h36.1v6.5h-36.1zM508.8 1567.7h36.1v6.5h-36.1zM1226.1 1567.7h36.1v6.5h-36.1zM169.0 1575.8h36.1v6.5h-36.1zM433.3 1575.8h36.1v6.5h-36.1zM848.6 1575.8h36.1v6.5h-36.1zM282.3 1583.9h36.1v6.5h-36.1zM471.0 1583.9h36.1v6.5h-36.1zM1226.1 1583.9h36.1v6.5h-36.1zM320.0 1592.0h36.1v6.5h-36.1zM395.5 1592.0h36.1v6.5h-36.1zM244.5 1600.1h36.1v6.5h-36.1zM320.0 1600.1h36.1v6.5h-36.1zM735.3 1600.1h36.1v6.5h-36.1zM886.3 1600.1h36.1v6.5h-36.1zM282.3 1608.2h36.1v6.5h-36.1zM320.0 1608.2h36.1v6.5h-36.1zM206.8 1616.3h36.1v6.5h-36.1zM433.3 1616.3h36.1v6.5h-36.1zM206.8 1624.4h36.1v6.5h-36.1zM282.3 1640.7h36.1v6.5h-36.1zM320.0 1640.7h36.1v6.5h-36.1zM471.0 1640.7h36.1v6.5h-36.1zM244.5 1648.8h36.1v6.5h-36.1zM810.8 1648.8h36.1v6.5h-36.1zM206.8 1656.9h36.1v6.5h-36.1zM471.0 1656.9h36.1v6.5h-36.1zM169.0 1665.0h36.1v6.5h-36.1zM357.8 1665.0h36.1v6.5h-36.1zM508.8 1665.0h36.1v6.5h-36.1zM622.0 1665.0h36.1v6.5h-36.1zM773.1 1665.0h36.1v6.5h-36.1zM471.0 1673.1h36.1v6.5h-36.1zM169.0 1681.2h36.1v6.5h-36.1zM244.5 1681.2h36.1v6.5h-36.1zM320.0 1681.2h36.1v6.5h-36.1zM471.0 1681.2h36.1v6.5h-36.1zM508.8 1681.2h36.1v6.5h-36.1zM848.6 1681.2h36.1v6.5h-36.1zM169.0 1689.3h36.1v6.5h-36.1zM471.0 1689.3h36.1v6.5h-36.1zM584.3 1689.3h36.1v6.5h-36.1zM622.0 1689.3h36.1v6.5h-36.1zM1112.8 1689.3h36.1v6.5h-36.1zM169.0 1697.4h36.1v6.5h-36.1zM508.8 1697.4h36.1v6.5h-36.1zM622.0 1697.4h36.1v6.5h-36.1zM206.8 1705.5h36.1v6.5h-36.1zM622.0 1713.6h36.1v6.5h-36.1zM282.3 1721.7h36.1v6.5h-36.1zM584.3 1721.7h36.1v6.5h-36.1zM169.0 1729.8h36.1v6.5h-36.1zM282.3 1729.8h36.1v6.5h-36.1zM357.8 1729.8h36.1v6.5h-36.1zM508.8 1729.8h36.1v6.5h-36.1zM584.3 1729.8h36.1v6.5h-36.1zM357.8 1737.9h36.1v6.5h-36.1zM471.0 1737.9h36.1v6.5h-36.1zM622.0 1737.9h36.1v6.5h-36.1zM1188.3 1737.9h36.1v6.5h-36.1zM206.8 1746.0h36.1v6.5h-36.1zM320.0 1746.0h36.1v6.5h-36.1zM357.8 1746.0h36.1v6.5h-36.1zM1112.8 1746.0h36.1v6.5h-36.1zM169.0 1754.2h36.1v6.5h-36.1zM282.3 1754.2h36.1v6.5h-36.1zM471.0 1754.2h36.1v6.5h-36.1zM1037.3 1754.2h36.1v6.5h-36.1zM282.3 1762.3h36.1v6.5h-36.1zM131.2 1770.4h36.1v6.5h-36.1zM622.0 1770.4h36.1v6.5h-36.1zM169.0 1778.5h36.1v6.5h-36.1zM395.5 1778.5h36.1v6.5h-36.1zM471.0 1778.5h36.1v6.5h-36.1zM508.8 1778.5h36.1v6.5h-36.1zM1112.8 1778.5h36.1v6.5h-36.1zM471.0 1786.6h36.1v6.5h-36.1zM508.8 1786.6h36.1v6.5h-36.1zM697.5 1786.6h36.1v6.5h-36.1zM1112.8 1786.6h36.1v6.5h-36.1zM206.8 1794.7h36.1v6.5h-36.1zM584.3 1794.7h36.1v6.5h-36.1zM659.8 1794.7h36.1v6.5h-36.1zM810.8 1794.7h36.1v6.5h-36.1zM1150.6 1794.7h36.1v6.5h-36.1zM244.5 1802.8h36.1v6.5h-36.1zM320.0 1802.8h36.1v6.5h-36.1zM584.3 1802.8h36.1v6.5h-36.1zM622.0 1802.8h36.1v6.5h-36.1zM659.8 1802.8h36.1v6.5h-36.1zM1112.8 1802.8h36.1v6.5h-36.1zM244.5 1810.9h36.1v6.5h-36.1zM659.8 1810.9h36.1v6.5h-36.1zM131.2 1819.0h36.1v6.5h-36.1zM206.8 1819.0h36.1v6.5h-36.1zM320.0 1819.0h36.1v6.5h-36.1zM357.8 1819.0h36.1v6.5h-36.1zM622.0 1819.0h36.1v6.5h-36.1zM169.0 1827.1h36.1v6.5h-36.1zM357.8 1827.1h36.1v6.5h-36.1zM508.8 1827.1h36.1v6.5h-36.1zM584.3 1827.1h36.1v6.5h-36.1zM1150.6 1827.1h36.1v6.5h-36.1zM206.8 1835.2h36.1v6.5h-36.1zM320.0 1835.2h36.1v6.5h-36.1zM357.8 1835.2h36.1v6.5h-36.1zM508.8 1835.2h36.1v6.5h-36.1zM584.3 1835.2h36.1v6.5h-36.1zM697.5 1835.2h36.1v6.5h-36.1zM810.8 1835.2h36.1v6.5h-36.1zM320.0 1843.3h36.1v6.5h-36.1zM546.5 1843.3h36.1v6.5h-36.1zM659.8 1843.3h36.1v6.5h-36.1zM1188.3 1843.3h36.1v6.5h-36.1zM357.8 1851.4h36.1v6.5h-36.1zM471.0 1851.4h36.1v6.5h-36.1zM697.5 1851.4h36.1v6.5h-36.1zM131.2 1859.5h36.1v6.5h-36.1zM320.0 1859.5h36.1v6.5h-36.1zM357.8 1859.5h36.1v6.5h-36.1zM433.3 1859.5h36.1v6.5h-36.1zM471.0 1859.5h36.1v6.5h-36.1zM622.0 1859.5h36.1v6.5h-36.1zM810.8 1859.5h36.1v6.5h-36.1zM131.2 1867.7h36.1v6.5h-36.1zM357.8 1867.7h36.1v6.5h-36.1zM508.8 1867.7h36.1v6.5h-36.1zM546.5 1867.7h36.1v6.5h-36.1zM622.0 1867.7h36.1v6.5h-36.1zM659.8 1867.7h36.1v6.5h-36.1zM1112.8 1867.7h36.1v6.5h-36.1zM131.2 1875.8h36.1v6.5h-36.1zM169.0 1875.8h36.1v6.5h-36.1zM584.3 1875.8h36.1v6.5h-36.1zM697.5 1875.8h36.1v6.5h-36.1zM810.8 1875.8h36.1v6.5h-36.1zM131.2 1883.9h36.1v6.5h-36.1zM169.0 1883.9h36.1v6.5h-36.1zM320.0 1883.9h36.1v6.5h-36.1zM697.5 1883.9h36.1v6.5h-36.1zM735.3 1883.9h36.1v6.5h-36.1zM886.3 1883.9h36.1v6.5h-36.1zM357.8 1892.0h36.1v6.5h-36.1zM244.5 1900.1h36.1v6.5h-36.1zM320.0 1900.1h36.1v6.5h-36.1zM395.5 1900.1h36.1v6.5h-36.1zM584.3 1900.1h36.1v6.5h-36.1zM622.0 1900.1h36.1v6.5h-36.1zM848.6 1900.1h36.1v6.5h-36.1zM886.3 1900.1h36.1v6.5h-36.1zM282.3 1908.2h36.1v6.5h-36.1zM320.0 1908.2h36.1v6.5h-36.1zM546.5 1908.2h36.1v6.5h-36.1zM206.8 1916.3h36.1v6.5h-36.1zM848.6 1916.3h36.1v6.5h-36.1zM244.5 1924.4h36.1v6.5h-36.1zM433.3 1924.4h36.1v6.5h-36.1zM320.0 1932.5h36.1v6.5h-36.1zM848.6 1948.7h36.1v6.5h-36.1zM244.5 1964.9h36.1v6.5h-36.1zM320.0 1964.9h36.1v6.5h-36.1zM546.5 1964.9h36.1v6.5h-36.1zM584.3 1964.9h36.1v6.5h-36.1zM244.5 1973.0h36.1v6.5h-36.1zM357.8 1973.0h36.1v6.5h-36.1zM433.3 1973.0h36.1v6.5h-36.1zM471.0 1981.2h36.1v6.5h-36.1zM546.5 1981.2h36.1v6.5h-36.1zM169.0 1989.3h36.1v6.5h-36.1zM282.3 1989.3h36.1v6.5h-36.1zM320.0 1989.3h36.1v6.5h-36.1zM357.8 1989.3h36.1v6.5h-36.1zM508.8 1997.4h36.1v6.5h-36.1zM508.8 2005.5h36.1v6.5h-36.1zM320.0 2013.6h36.1v6.5h-36.1zM508.8 2013.6h36.1v6.5h-36.1zM282.3 2021.7h36.1v6.5h-36.1zM508.8 2021.7h36.1v6.5h-36.1zM697.5 2021.7h36.1v6.5h-36.1zM810.8 2021.7h36.1v6.5h-36.1zM999.6 2021.7h36.1v6.5h-36.1zM395.5 2029.8h36.1v6.5h-36.1zM508.8 2029.8h36.1v6.5h-36.1zM546.5 2029.8h36.1v6.5h-36.1zM622.0 2029.8h36.1v6.5h-36.1zM1112.8 2029.8h36.1v6.5h-36.1zM169.0 2037.9h36.1v6.5h-36.1zM206.8 2037.9h36.1v6.5h-36.1zM584.3 2037.9h36.1v6.5h-36.1zM395.5 2046.0h36.1v6.5h-36.1zM546.5 2046.0h36.1v6.5h-36.1zM622.0 2046.0h36.1v6.5h-36.1zM659.8 2046.0h36.1v6.5h-36.1zM282.3 2054.1h36.1v6.5h-36.1zM546.5 2054.1h36.1v6.5h-36.1zM622.0 2054.1h36.1v6.5h-36.1zM659.8 2054.1h36.1v6.5h-36.1zM697.5 2054.1h36.1v6.5h-36.1zM848.6 2054.1h36.1v6.5h-36.1zM622.0 2062.2h36.1v6.5h-36.1zM206.8 2070.3h36.1v6.5h-36.1zM395.5 2070.3h36.1v6.5h-36.1zM622.0 2070.3h36.1v6.5h-36.1zM999.6 2070.3h36.1v6.5h-36.1zM1112.8 2070.3h36.1v6.5h-36.1zM244.5 2078.4h36.1v6.5h-36.1zM320.0 2078.4h36.1v6.5h-36.1zM433.3 2078.4h36.1v6.5h-36.1zM697.5 2078.4h36.1v6.5h-36.1zM131.2 2086.6h36.1v6.5h-36.1zM169.0 2086.6h36.1v6.5h-36.1zM659.8 2086.6h36.1v6.5h-36.1zM169.0 2094.7h36.1v6.5h-36.1zM244.5 2094.7h36.1v6.5h-36.1zM395.5 2094.7h36.1v6.5h-36.1zM433.3 2094.7h36.1v6.5h-36.1zM697.5 2094.7h36.1v6.5h-36.1zM848.6 2094.7h36.1v6.5h-36.1zM546.5 2102.8h36.1v6.5h-36.1zM659.8 2102.8h36.1v6.5h-36.1zM697.5 2102.8h36.1v6.5h-36.1zM395.5 2110.9h36.1v6.5h-36.1zM508.8 2110.9h36.1v6.5h-36.1zM546.5 2110.9h36.1v6.5h-36.1zM659.8 2110.9h36.1v6.5h-36.1zM697.5 2110.9h36.1v6.5h-36.1zM1112.8 2110.9h36.1v6.5h-36.1zM131.2 2119.0h36.1v6.5h-36.1zM169.0 2119.0h36.1v6.5h-36.1zM320.0 2127.1h36.1v6.5h-36.1zM810.8 2135.2h36.1v6.5h-36.1zM169.0 2143.3h36.1v6.5h-36.1zM320.0 2143.3h36.1v6.5h-36.1zM471.0 2143.3h36.1v6.5h-36.1zM810.8 2143.3h36.1v6.5h-36.1zM169.0 2151.4h36.1v6.5h-36.1zM320.0 2151.4h36.1v6.5h-36.1zM471.0 2151.4h36.1v6.5h-36.1zM508.8 2151.4h36.1v6.5h-36.1zM810.8 2151.4h36.1v6.5h-36.1zM1112.8 2151.4h36.1v6.5h-36.1zM282.3 2159.5h36.1v6.5h-36.1zM320.0 2159.5h36.1v6.5h-36.1zM508.8 2159.5h36.1v6.5h-36.1zM810.8 2159.5h36.1v6.5h-36.1zM169.0 2167.6h36.1v6.5h-36.1zM206.8 2167.6h36.1v6.5h-36.1zM320.0 2167.6h36.1v6.5h-36.1zM471.0 2167.6h36.1v6.5h-36.1zM584.3 2167.6h36.1v6.5h-36.1zM810.8 2167.6h36.1v6.5h-36.1zM508.8 2175.7h36.1v6.5h-36.1zM697.5 2175.7h36.1v6.5h-36.1zM1112.8 2175.7h36.1v6.5h-36.1zM169.0 2183.8h36.1v6.5h-36.1zM320.0 2183.8h36.1v6.5h-36.1zM508.8 2183.8h36.1v6.5h-36.1zM697.5 2191.9h36.1v6.5h-36.1zM206.8 2200.1h36.1v6.5h-36.1zM206.8 2208.2h36.1v6.5h-36.1zM395.5 2208.2h36.1v6.5h-36.1zM697.5 2208.2h36.1v6.5h-36.1zM848.6 2208.2h36.1v6.5h-36.1zM206.8 2224.4h36.1v6.5h-36.1zM395.5 2232.5h36.1v6.5h-36.1zM169.0 2248.7h36.1v6.5h-36.1zM508.8 2248.7h36.1v6.5h-36.1zM697.5 2248.7h36.1v6.5h-36.1zM810.8 2248.7h36.1v6.5h-36.1zM1112.8 2248.7h36.1v6.5h-36.1z"/><path fill="#6666ff" d="M999.6 1008.3h36.1v6.5h-36.1zM1112.8 1008.3h36.1v6.5h-36.1zM1226.1 1048.8h36.1v6.5h-36.1zM659.8 1065.0h36.1v6.5h-36.1zM1150.6 1065.0h36.1v6.5h-36.1zM395.5 1073.2h36.1v6.5h-36.1zM1150.6 1073.2h36.1v6.5h-36.1zM924.1 1105.6h36.1v6.5h-36.1zM735.3 1113.7h36.1v6.5h-36.1zM1150.6 1113.7h36.1v6.5h-36.1zM735.3 1121.8h36.1v6.5h-36.1zM1150.6 1121.8h36.1v6.5h-36.1zM1188.3 1121.8h36.1v6.5h-36.1zM924.1 1178.5h36.1v6.5h-36.1zM1188.3 1186.7h36.1v6.5h-36.1zM1075.1 1211.0h36.1v6.5h-36.1zM961.8 1235.3h36.1v6.5h-36.1zM1075.1 1251.5h36.1v6.5h-36.1zM961.8 1275.8h36.1v6.5h-36.1zM886.3 1283.9h36.1v6.5h-36.1zM810.8 1292.0h36.1v6.5h-36.1zM924.1 1292.0h36.1v6.5h-36.1zM810.8 1332.6h36.1v6.5h-36.1zM810.8 1348.8h36.1v6.5h-36.1zM810.8 1405.5h36.1v6.5h-36.1zM1150.6 1446.1h36.1v6.5h-36.1zM282.3 1454.2h36.1v6.5h-36.1zM810.8 1462.3h36.1v6.5h-36.1zM395.5 1470.4h36.1v6.5h-36.1zM320.0 1527.2h36.1v6.5h-36.1zM999.6 1575.8h36.1v6.5h-36.1zM546.5 1583.9h36.1v6.5h-36.1zM999.6 1592.0h36.1v6.5h-36.1zM886.3 1608.2h36.1v6.5h-36.1zM282.3 1624.4h36.1v6.5h-36.1zM282.3 1632.5h36.1v6.5h-36.1zM357.8 1632.5h36.1v6.5h-36.1zM508.8 1640.7h36.1v6.5h-36.1zM320.0 1656.9h36.1v6.5h-36.1zM508.8 1673.1h36.1v6.5h-36.1zM169.0 1721.7h36.1v6.5h-36.1zM169.0 1762.3h36.1v6.5h-36.1zM584.3 1778.5h36.1v6.5h-36.1zM622.0 1875.8h36.1v6.5h-36.1zM206.8 1892.0h36.1v6.5h-36.1zM584.3 1892.0h36.1v6.5h-36.1zM697.5 1956.8h36.1v6.5h-36.1zM1037.3 1973.0h36.1v6.5h-36.1zM584.3 2013.6h36.1v6.5h-36.1zM848.6 2013.6h36.1v6.5h-36.1zM395.5 2037.9h36.1v6.5h-36.1zM320.0 2135.2h36.1v6.5h-36.1zM508.8 2143.3h36.1v6.5h-36.1zM169.0 2191.9h36.1v6.5h-36.1zM508.8 2200.1h36.1v6.5h-36.1zM169.0 2232.5h36.1v6.5h-36.1zM1112.8 2232.5h36.1v6.5h-36.1zM169.0 2240.6h36.1v6.5h-36.1z"/><path fill="#0f0fff" d="M999.6 1016.4h36.1v6.5h-36.1zM244.5 1097.5h36.1v6.5h-36.1zM886.3 1129.9h36.1v6.5h-36.1zM924.1 1283.9h36.1v6.5h-36.1zM1112.8 1356.9h36.1v6.5h-36.1zM810.8 1446.1h36.1v6.5h-36.1zM357.8 1624.4h36.1v6.5h-36.1zM169.0 1713.6h36.1v6.5h-36.1zM395.5 1924.4h36.1v6.5h-36.1zM508.8 1932.5h36.1v6.5h-36.1zM206.8 1940.6h36.1v6.5h-36.1zM508.8 1940.6h36.1v6.5h-36.1zM206.8 1948.7h36.1v6.5h-36.1zM508.8 1948.7h36.1v6.5h-36.1zM282.3 1997.4h36.1v6.5h-36.1zM508.8 2127.1h36.1v6.5h-36.1zM508.8 2191.9h36.1v6.5h-36.1zM320.0 2224.4h36.1v6.5h-36.1z"/><path fill="#3838ff" d="M1112.8 1016.4h36.1v6.5h-36.1zM1112.8 1024.5h36.1v6.5h-36.1zM999.6 1065.0h36.1v6.5h-36.1zM433.3 1194.8h36.1v6.5h-36.1zM810.8 1397.4h36.1v6.5h-36.1zM1112.8 1397.4h36.1v6.5h-36.1zM1037.3 1405.5h36.1v6.5h-36.1zM810.8 1454.2h36.1v6.5h-36.1zM735.3 1462.3h36.1v6.5h-36.1zM622.0 1486.6h36.1v6.5h-36.1zM735.3 1616.3h36.1v6.5h-36.1zM508.8 1632.5h36.1v6.5h-36.1zM508.8 1705.5h36.1v6.5h-36.1zM622.0 1705.5h36.1v6.5h-36.1zM471.0 1746.0h36.1v6.5h-36.1zM206.8 1770.4h36.1v6.5h-36.1zM206.8 1932.5h36.1v6.5h-36.1zM206.8 1956.8h36.1v6.5h-36.1zM508.8 1956.8h36.1v6.5h-36.1zM206.8 1997.4h36.1v6.5h-36.1zM206.8 2005.5h36.1v6.5h-36.1zM206.8 2062.2h36.1v6.5h-36.1zM810.8 2127.1h36.1v6.5h-36.1zM508.8 2135.2h36.1v6.5h-36.1zM508.8 2208.2h36.1v6.5h-36.1zM320.0 2216.3h36.1v6.5h-36.1z"/><path fill="#ff6666" d="M169.0 1032.6h36.1v6.5h-36.1zM206.8 1056.9h36.1v6.5h-36.1zM169.0 1178.5h36.1v6.5h-36.1zM131.2 1324.5h36.1v6.5h-36.1zM244.5 1373.1h36.1v6.5h-36.1zM584.3 1381.2h36.1v6.5h-36.1zM1188.3 1494.7h36.1v6.5h-36.1zM1188.3 1519.0h36.1v6.5h-36.1zM1075.1 1600.1h36.1v6.5h-36.1zM1112.8 1600.1h36.1v6.5h-36.1zM999.6 1689.3h36.1v6.5h-36.1zM999.6 1770.4h36.1v6.5h-36.1zM999.6 1843.3h36.1v6.5h-36.1zM886.3 1859.5h36.1v6.5h-36.1zM1150.6 1883.9h36.1v6.5h-36.1zM773.1 2021.7h36.1v6.5h-36.1zM1188.3 2062.2h36.1v6.5h-36.1z"/><path fill="#ff8c8c" d="M508.8 1032.6h36.1v6.5h-36.1zM697.5 1032.6h36.1v6.5h-36.1zM169.0 1056.9h36.1v6.5h-36.1zM697.5 1056.9h36.1v6.5h-36.1zM471.0 1081.3h36.1v6.5h-36.1zM508.8 1081.3h36.1v6.5h-36.1zM848.6 1113.7h36.1v6.5h-36.1zM659.8 1138.0h36.1v6.5h-36.1zM131.2 1154.2h36.1v6.5h-36.1zM206.8 1194.8h36.1v6.5h-36.1zM206.8 1202.9h36.1v6.5h-36.1zM584.3 1202.9h36.1v6.5h-36.1zM1112.8 1202.9h36.1v6.5h-36.1zM131.2 1211.0h36.1v6.5h-36.1zM206.8 1211.0h36.1v6.5h-36.1zM131.2 1219.1h36.1v6.5h-36.1zM282.3 1227.2h36.1v6.5h-36.1zM471.0 1227.2h36.1v6.5h-36.1zM395.5 1235.3h36.1v6.5h-36.1zM508.8 1235.3h36.1v6.5h-36.1zM282.3 1243.4h36.1v6.5h-36.1zM282.3 1251.5h36.1v6.5h-36.1zM282.3 1259.6h36.1v6.5h-36.1zM169.0 1267.7h36.1v6.5h-36.1zM546.5 1275.8h36.1v6.5h-36.1zM282.3 1283.9h36.1v6.5h-36.1zM282.3 1292.0h36.1v6.5h-36.1zM320.0 1308.3h36.1v6.5h-36.1zM131.2 1316.4h36.1v6.5h-36.1zM546.5 1316.4h36.1v6.5h-36.1zM1037.3 1316.4h36.1v6.5h-36.1zM282.3 1332.6h36.1v6.5h-36.1zM622.0 1365.0h36.1v6.5h-36.1zM546.5 1373.1h36.1v6.5h-36.1zM244.5 1381.2h36.1v6.5h-36.1zM508.8 1397.4h36.1v6.5h-36.1zM697.5 1397.4h36.1v6.5h-36.1zM999.6 1421.8h36.1v6.5h-36.1zM357.8 1438.0h36.1v6.5h-36.1zM395.5 1438.0h36.1v6.5h-36.1zM244.5 1454.2h36.1v6.5h-36.1zM697.5 1470.4h36.1v6.5h-36.1zM999.6 1470.4h36.1v6.5h-36.1zM659.8 1478.5h36.1v6.5h-36.1zM1037.3 1486.6h36.1v6.5h-36.1zM1188.3 1486.6h36.1v6.5h-36.1zM810.8 1502.8h36.1v6.5h-36.1zM244.5 1535.3h36.1v6.5h-36.1zM244.5 1543.4h36.1v6.5h-36.1zM1075.1 1551.5h36.1v6.5h-36.1zM1112.8 1551.5h36.1v6.5h-36.1zM735.3 1559.6h36.1v6.5h-36.1zM1037.3 1559.6h36.1v6.5h-36.1zM1112.8 1559.6h36.1v6.5h-36.1zM773.1 1567.7h36.1v6.5h-36.1zM810.8 1575.8h36.1v6.5h-36.1zM1037.3 1592.0h36.1v6.5h-36.1zM810.8 1600.1h36.1v6.5h-36.1zM697.5 1665.0h36.1v6.5h-36.1zM886.3 1665.0h36.1v6.5h-36.1zM697.5 1697.4h36.1v6.5h-36.1zM999.6 1737.9h36.1v6.5h-36.1zM999.6 1778.5h36.1v6.5h-36.1zM1037.3 1819.0h36.1v6.5h-36.1zM999.6 1851.4h36.1v6.5h-36.1zM244.5 1859.5h36.1v6.5h-36.1zM735.3 1859.5h36.1v6.5h-36.1zM735.3 1867.7h36.1v6.5h-36.1zM735.3 1875.8h36.1v6.5h-36.1zM961.8 1883.9h36.1v6.5h-36.1zM282.3 1892.0h36.1v6.5h-36.1zM1188.3 1900.1h36.1v6.5h-36.1zM999.6 1908.2h36.1v6.5h-36.1zM773.1 1964.9h36.1v6.5h-36.1zM1112.8 1964.9h36.1v6.5h-36.1zM1188.3 1964.9h36.1v6.5h-36.1zM622.0 1981.2h36.1v6.5h-36.1zM886.3 1989.3h36.1v6.5h-36.1zM924.1 2005.5h36.1v6.5h-36.1zM1188.3 2021.7h36.1v6.5h-36.1zM244.5 2029.8h36.1v6.5h-36.1zM1112.8 2046.0h36.1v6.5h-36.1zM433.3 2070.3h36.1v6.5h-36.1zM961.8 2070.3h36.1v6.5h-36.1zM1226.1 2070.3h36.1v6.5h-36.1zM735.3 2094.7h36.1v6.5h-36.1zM773.1 2094.7h36.1v6.5h-36.1zM999.6 2094.7h36.1v6.5h-36.1zM584.3 2110.9h36.1v6.5h-36.1zM999.6 2110.9h36.1v6.5h-36.1zM924.1 2143.3h36.1v6.5h-36.1zM924.1 2167.6h36.1v6.5h-36.1zM1075.1 2200.1h36.1v6.5h-36.1zM1150.6 2224.4h36.1v6.5h-36.1zM1188.3 2232.5h36.1v6.5h-36.1zM848.6 2240.6h36.1v6.5h-36.1z"/><path fill="#ff0d0d" d="M471.0 1219.1h36.1v6.5h-36.1z"/><path fill="#ff3838" d="M999.6 1721.7h36.1v6.5h-36.1z"/></g>
<path d="M31.0 1208.8H43.6M31.0 1697.3H42.0M31.0 1208.8V1697.3M43.6 1073.6H51.8M43.6 1344.0H45.8M43.6 1073.6V1344.0M51.8 1031.6H69.0M51.8 1115.6H66.1M51.8 1031.6V1115.6M69.0 1011.6H129.5M69.0 1051.6H77.7M69.0 1011.6V1051.6M77.7 1036.9H81.2M77.7 1066.3H86.8M77.7 1036.9V1066.3M81.2 1025.7H85.4M81.2 1048.0H92.0M81.2 1025.7V1048.0M85.4 1019.7H129.5M85.4 1031.8H95.7M85.4 1019.7V1031.8M95.7 1027.8H129.5M95.7 1035.9H129.5M95.7 1027.8V1035.9M92.0 1044.0H129.5M92.0 1052.1H129.5M92.0 1044.0V1052.1M86.8 1060.2H129.5M86.8 1072.4H92.2M86.8 1060.2V1072.4M92.2 1068.3H129.5M92.2 1076.4H129.5M92.2 1068.3V1076.4M66.1 1090.6H76.1M66.1 1140.5H66.5M66.1 1090.6V1140.5M76.1 1084.5H129.5M76.1 1096.7H83.3M76.1 1084.5V1096.7M83.3 1092.6H129.5M83.3 1100.7H129.5M83.3 1092.6V1100.7M66.5 1119.0H76.3M66.5 1162.0H70.9M66.5 1119.0V1162.0M76.3 1112.9H88.7M76.3 1125.1H129.5M76.3 1112.9V1125.1M88.7 1108.8H129.5M88.7 1116.9H129.5M88.7 1108.8V1116.9M70.9 1148.4H81.9M70.9 1175.7H71.2M70.9 1148.4V1175.7M81.9 1139.2H85.7M81.9 1157.5H129.5M81.9 1139.2V1157.5M85.7 1133.2H129.5M85.7 1145.3H97.8M85.7 1133.2V1145.3M97.8 1141.3H129.5M97.8 1149.4H129.5M97.8 1141.3V1149.4M71.2 1165.6H129.5M71.2 1185.9H90.6M71.2 1165.6V1185.9M90.6 1177.8H95.9M90.6 1194.0H96.2M90.6 1177.8V1194.0M95.9 1173.7H129.5M95.9 1181.8H129.5M95.9 1173.7V1181.8M96.2 1189.9H129.5M96.2 1198.0H129.5M96.2 1189.9V1198.0M45.8 1255.5H70.3M45.8 1432.6H54.3M45.8 1255.5V1432.6M70.3 1220.8H71.5M70.3 1290.1H71.8M70.3 1220.8V1290.1M71.5 1206.1H129.5M71.5 1235.5H73.1M71.5 1206.1V1235.5M73.1 1220.3H74.9M73.1 1250.7H85.9M73.1 1220.3V1250.7M74.9 1214.2H129.5M74.9 1226.4H81.0M74.9 1214.2V1226.4M81.0 1222.3H129.5M81.0 1230.4H129.5M81.0 1222.3V1230.4M85.9 1242.6H89.2M85.9 1258.8H95.5M85.9 1242.6V1258.8M89.2 1238.6H129.5M89.2 1246.7H129.5M89.2 1238.6V1246.7M95.5 1254.8H129.5M95.5 1262.9H129.5M95.5 1254.8V1262.9M71.8 1271.0H129.5M71.8 1309.2H75.1M71.8 1271.0V1309.2M75.1 1290.7H80.5M75.1 1327.7H129.5M75.1 1290.7V1327.7M80.5 1279.1H129.5M80.5 1302.4H83.1M80.5 1279.1V1302.4M83.1 1291.2H96.6M83.1 1313.5H93.8M83.1 1291.2V1313.5M96.6 1287.2H129.5M96.6 1295.3H129.5M96.6 1287.2V1295.3M93.8 1307.5H99.0M93.8 1319.6H129.5M93.8 1307.5V1319.6M99.0 1303.4H129.5M99.0 1311.5H129.5M99.0 1303.4V1311.5M54.3 1409.8H57.6M54.3 1455.4H70.0M54.3 1409.8V1455.4M57.6 1388.5H58.6M57.6 1431.1H72.3M57.6 1388.5V1431.1M58.6 1369.3H67.0M58.6 1407.8H61.2M58.6 1369.3V1407.8M67.0 1358.1H67.4M67.0 1380.4H69.3M67.0 1358.1V1380.4M67.4 1348.0H77.2M67.4 1368.3H129.5M67.4 1348.0V1368.3M77.2 1339.9H80.1M77.2 1356.1H89.6M77.2 1339.9V1356.1M80.1 1335.8H129.5M80.1 1343.9H129.5M80.1 1335.8V1343.9M89.6 1352.1H129.5M89.6 1360.2H129.5M89.6 1352.1V1360.2M69.3 1376.4H129.5M69.3 1384.5H129.5M69.3 1376.4V1384.5M61.2 1398.7H72.0M61.2 1416.9H129.5M61.2 1398.7V1416.9M72.0 1392.6H129.5M72.0 1404.8H91.7M72.0 1392.6V1404.8M91.7 1400.7H129.5M91.7 1408.8H129.5M91.7 1400.7V1408.8M72.3 1425.0H129.5M72.3 1437.2H84.0M72.3 1425.0V1437.2M84.0 1433.1H129.5M84.0 1441.2H129.5M84.0 1433.1V1441.2M70.0 1449.3H129.5M70.0 1461.5H86.6M70.0 1449.3V1461.5M86.6 1457.4H129.5M86.6 1465.6H129.5M86.6 1457.4V1465.6M42.0 1576.4H50.0M42.0 1818.3H45.8M42.0 1576.4V1818.3M50.0 1543.3H53.0M50.0 1609.5H69.6M50.0 1543.3V1609.5M53.0 1501.5H59.5M53.0 1585.1H78.0M53.0 1501.5V1585.1M59.5 1473.7H129.5M59.5 1529.4H63.3M59.5 1473.7V1529.4M63.3 1507.1H74.6M63.3 1551.7H74.1M63.3 1507.1V1551.7M74.6 1493.9H77.5M74.6 1520.3H78.4M74.6 1493.9V1520.3M77.5 1485.8H81.5M77.5 1502.0H90.1M77.5 1485.8V1502.0M81.5 1481.8H129.5M81.5 1489.9H129.5M81.5 1481.8V1489.9M90.1 1498.0H129.5M90.1 1506.1H129.5M90.1 1498.0V1506.1M78.4 1514.2H129.5M78.4 1526.4H82.9M78.4 1514.2V1526.4M82.9 1522.3H129.5M82.9 1530.4H129.5M82.9 1522.3V1530.4M74.1 1542.6H79.4M74.1 1560.8H87.3M74.1 1542.6V1560.8M79.4 1538.5H129.5M79.4 1546.6H129.5M79.4 1538.5V1546.6M87.3 1554.7H129.5M87.3 1566.9H90.3M87.3 1554.7V1566.9M90.3 1562.8H129.5M90.3 1570.9H129.5M90.3 1562.8V1570.9M78.0 1579.1H129.5M78.0 1591.2H91.5M78.0 1579.1V1591.2M91.5 1587.2H129.5M91.5 1595.3H129.5M91.5 1587.2V1595.3M69.6 1603.4H129.5M69.6 1615.5H79.1M69.6 1603.4V1615.5M79.1 1611.5H129.5M79.1 1619.6H129.5M79.1 1611.5V1619.6M45.8 1696.4H60.4M45.8 1940.2H56.6M45.8 1696.4V1940.2M60.4 1647.5H75.3M60.4 1745.3H65.6M60.4 1647.5V1745.3M75.3 1633.8H85.2M75.3 1661.1H75.6M75.3 1633.8V1661.1M85.2 1627.7H129.5M85.2 1639.9H92.4M85.2 1627.7V1639.9M92.4 1635.8H129.5M92.4 1643.9H129.5M92.4 1635.8V1643.9M75.6 1652.0H129.5M75.6 1670.3H83.6M75.6 1652.0V1670.3M83.6 1664.2H88.5M83.6 1676.3H129.5M83.6 1664.2V1676.3M88.5 1660.1H129.5M88.5 1668.2H129.5M88.5 1660.1V1668.2M65.6 1696.6H76.8M65.6 1794.0H70.6M65.6 1696.6V1794.0M76.8 1688.5H86.1M76.8 1704.7H93.4M76.8 1688.5V1704.7M86.1 1684.4H129.5M86.1 1692.6H129.5M86.1 1684.4V1692.6M93.4 1700.7H129.5M93.4 1708.8H129.5M93.4 1700.7V1708.8M70.6 1751.8H76.5M70.6 1836.2H73.9M70.6 1751.8V1836.2M76.5 1734.1H77.0M76.5 1769.6H78.2M76.5 1734.1V1769.6M77.0 1723.0H82.6M77.0 1745.2H87.8M77.0 1723.0V1745.2M82.6 1716.9H129.5M82.6 1729.0H92.9M82.6 1716.9V1729.0M92.9 1725.0H129.5M92.9 1733.1H129.5M92.9 1725.0V1733.1M87.8 1741.2H129.5M87.8 1749.3H129.5M87.8 1741.2V1749.3M78.2 1761.5H93.6M78.2 1777.7H83.8M78.2 1761.5V1777.7M93.6 1757.4H129.5M93.6 1765.5H129.5M93.6 1757.4V1765.5M83.8 1773.6H129.5M83.8 1781.7H129.5M83.8 1773.6V1781.7M73.9 1812.6H80.8M73.9 1859.8H81.7M73.9 1812.6V1859.8M80.8 1796.9H88.0M80.8 1828.3H87.1M80.8 1796.9V1828.3M88.0 1789.8H129.5M88.0 1804.0H94.5M88.0 1789.8V1804.0M94.5 1797.9H129.5M94.5 1810.1H98.5M94.5 1797.9V1810.1M98.5 1806.1H129.5M98.5 1814.2H129.5M98.5 1806.1V1814.2M87.1 1822.3H129.5M87.1 1834.4H97.1M87.1 1822.3V1834.4M97.1 1830.4H129.5M97.1 1838.5H129.5M97.1 1830.4V1838.5M81.7 1850.6H86.4M81.7 1868.9H90.8M81.7 1850.6V1868.9M86.4 1846.6H129.5M86.4 1854.7H129.5M86.4 1846.6V1854.7M90.8 1862.8H129.5M90.8 1875.0H93.1M90.8 1862.8V1875.0M93.1 1870.9H129.5M93.1 1879.0H129.5M93.1 1870.9V1879.0M56.6 1899.3H67.8M56.6 1981.1H61.9M56.6 1899.3V1981.1M67.8 1891.2H84.7M67.8 1907.4H82.4M67.8 1891.2V1907.4M84.7 1887.1H129.5M84.7 1895.2H129.5M84.7 1887.1V1895.2M82.4 1903.3H129.5M82.4 1911.4H129.5M82.4 1903.3V1911.4M61.9 1929.4H72.6M61.9 2032.8H62.6M61.9 1929.4V2032.8M72.6 1919.6H129.5M72.6 1939.3H72.8M72.6 1919.6V1939.3M72.8 1927.7H129.5M72.8 1951.0H91.0M72.8 1927.7V1951.0M91.0 1941.8H94.8M91.0 1960.1H129.5M91.0 1941.8V1960.1M94.8 1935.8H129.5M94.8 1947.9H98.0M94.8 1935.8V1947.9M98.0 1943.9H129.5M98.0 1952.0H129.5M98.0 1943.9V1952.0M62.6 1975.3H68.2M62.6 2090.4H64.5M62.6 1975.3V2090.4M68.2 1968.2H129.5M68.2 1982.4H73.4M68.2 1968.2V1982.4M73.4 1976.3H129.5M73.4 1988.5H82.2M73.4 1976.3V1988.5M82.2 1984.4H129.5M82.2 1992.5H129.5M82.2 1984.4V1992.5M64.5 2030.0H73.6M64.5 2150.7H65.1M64.5 2030.0V2150.7M73.6 2004.7H85.0M73.6 2055.3H78.7M73.6 2004.7V2055.3M85.0 2000.6H129.5M85.0 2008.7H129.5M85.0 2000.6V2008.7M78.7 2041.2H78.9M78.7 2069.5H89.9M78.7 2041.2V2069.5M78.9 2029.0H88.2M78.9 2053.3H91.3M78.9 2029.0V2053.3M88.2 2020.9H92.7M88.2 2037.1H95.0M88.2 2020.9V2037.1M92.7 2016.8H129.5M92.7 2024.9H129.5M92.7 2016.8V2024.9M95.0 2033.1H129.5M95.0 2041.2H129.5M95.0 2033.1V2041.2M91.3 2049.3H129.5M91.3 2057.4H129.5M91.3 2049.3V2057.4M89.9 2065.5H129.5M89.9 2073.6H129.5M89.9 2065.5V2073.6M65.1 2096.4H68.6M65.1 2205.0H79.6M65.1 2096.4V2205.0M68.6 2085.8H75.8M68.6 2107.0H74.4M68.6 2085.8V2107.0M75.8 2081.7H129.5M75.8 2089.8H129.5M75.8 2081.7V2089.8M74.4 2097.9H129.5M74.4 2116.2H80.3M74.4 2097.9V2116.2M80.3 2110.1H88.9M80.3 2122.2H129.5M80.3 2110.1V2122.2M88.9 2106.0H129.5M88.9 2114.1H129.5M88.9 2106.0V2114.1M79.6 2177.3H84.3M79.6 2232.7H79.8M79.6 2177.3V2232.7M84.3 2153.4H87.5M84.3 2201.3H95.2M84.3 2153.4V2201.3M87.5 2134.4H97.6M87.5 2172.4H94.1M87.5 2134.4V2172.4M97.6 2130.3H129.5M97.6 2138.4H129.5M97.6 2130.3V2138.4M94.1 2161.8H96.4M94.1 2183.0H97.3M94.1 2161.8V2183.0M96.4 2152.6H96.9M96.4 2170.9H129.5M96.4 2152.6V2170.9M96.9 2146.6H129.5M96.9 2158.7H98.7M96.9 2146.6V2158.7M98.7 2154.7H129.5M98.7 2162.8H129.5M98.7 2154.7V2162.8M97.3 2179.0H129.5M97.3 2187.1H129.5M97.3 2179.0V2187.1M95.2 2195.2H129.5M95.2 2207.4H98.3M95.2 2195.2V2207.4M98.3 2203.3H129.5M98.3 2211.4H129.5M98.3 2203.3V2211.4M79.8 2223.6H89.4M79.8 2241.8H84.5M79.8 2223.6V2241.8M89.4 2219.5H129.5M89.4 2227.6H129.5M89.4 2219.5V2227.6M84.5 2235.7H129.5M84.5 2247.9H94.3M84.5 2235.7V2247.9M94.3 2243.8H129.5M94.3 2251.9H129.5M94.3 2243.8V2251.9" fill="none" stroke="#1a1a1a" stroke-width="1.9" stroke-linecap="square"/>
<text transform="translate(157.3,2273) rotate(-45)" font-size="17.5" text-anchor="end" fill="#111">s1</text>
<text transform="translate(195.0,2273) rotate(-45)" font-size="17.5" text-anchor="end" fill="#111">s2</text>
<text transform="translate(232.8,2273) rotate(-45)" font-size="17.5" text-anchor="end" fill="#111">s3</text>
<text transform="translate(270.5,2273) rotate(-45)" font-size="17.5" text-anchor="end" fill="#111">s4</text>
<text transform="translate(308.3,2273) rotate(-45)" font-size="17.5" text-anchor="end" fill="#111">s5</text>
<text transform="translate(346.0,2273) rotate(-45)" font-size="17.5" text-anchor="end" fill="#111">s6</text>
<text transform="translate(383.8,2273) rotate(-45)" font-size="17.5" text-anchor="end" fill="#111">s7</text>
<text transform="translate(421.5,2273) rotate(-45)" font-size="17.5" text-anchor="end" fill="#111">s8</text>
<text transform="translate(459.3,2273) rotate(-45)" font-size="17.5" text-anchor="end" fill="#111">s9</text>
<text transform="translate(497.1,2273) rotate(-45)" font-size="17.5" text-anchor="end" fill="#111">s10</text>
<text transform="translate(534.8,2273) rotate(-45)" font-size="17.5" text-anchor="end" fill="#111">s11</text>
<text transform="translate(572.6,2273) rotate(-45)" font-size="17.5" text-anchor="end" fill="#111">s12</text>
<text transform="translate(610.3,2273) rotate(-45)" font-size="17.5" text-anchor="end" fill="#111">s13</text>
<text transform="translate(648.1,2273) rotate(-45)" font-size="17.5" text-anchor="end" fill="#111">s14</text>
<text transform="translate(685.8,2273) rotate(-45)" font-size="17.5" text-anchor="end" fill="#111">s15</text>
<text transform="translate(723.6,2273) rotate(-45)" font-size="17.5" text-anchor="end" fill="#111">s16</text>
<text transform="translate(761.3,2273) rotate(-45)" font-size="17.5" text-anchor="end" fill="#111">s17</text>
<text transform="translate(799.1,2273) rotate(-45)" font-size="17.5" text-anchor="end" fill="#111">s18</text>
<text transform="translate(836.8,2273) rotate(-45)" font-size="17.5" text-anchor="end" fill="#111">s19</text>
<text transform="translate(874.6,2273) rotate(-45)" font-size="17.5" text-anchor="end" fill="#111">s20</text>
<text transform="translate(912.3,2273) rotate(-45)" font-size="17.5" text-anchor="end" fill="#111">s21</text>
<text transform="translate(950.1,2273) rotate(-45)" font-size="17.5" text-anchor="end" fill="#111">s22</text>
<text transform="translate(987.8,2273) rotate(-45)" font-size="17.5" text-anchor="end" fill="#111">s23</text>
<text transform="translate(1025.6,2273) rotate(-45)" font-size="17.5" text-anchor="end" fill="#111">s24</text>
<text transform="translate(1063.4,2273) rotate(-45)" font-size="17.5" text-anchor="end" fill="#111">s25</text>
<text transform="translate(1101.1,2273) rotate(-45)" font-size="17.5" text-anchor="end" fill="#111">s26</text>
<text transform="translate(1138.9,2273) rotate(-45)" font-size="17.5" text-anchor="end" fill="#111">s27</text>
<text transform="translate(1176.6,2273) rotate(-45)" font-size="17.5" text-anchor="end" fill="#111">s28</text>
<text transform="translate(1214.4,2273) rotate(-45)" font-size="17.5" text-anchor="end" fill="#111">s29</text>
<text transform="translate(1252.1,2273) rotate(-45)" font-size="17.5" text-anchor="end" fill="#111">s30</text>
<text x="1270.4" y="998" font-size="18" font-weight="bold" fill="#111">Group</text>
<defs><linearGradient id="cb" x1="0" y1="0" x2="0" y2="1"><stop offset="0" stop-color="#ff0000"/><stop offset="0.5" stop-color="#ffffff"/><stop offset="1" stop-color="#0000ff"/></linearGradient></defs>
<rect x="1273.2" y="1007.2" width="19.1" height="283.2" fill="url(#cb)"/>
<text x="1299.9" y="1037.8" font-size="16.7" fill="#111">3</text>
<text x="1299.9" y="1077.0" font-size="16.7" fill="#111">2</text>
<text x="1299.9" y="1116.1" font-size="16.7" fill="#111">1</text>
<text x="1299.9" y="1155.3" font-size="16.7" fill="#111">0</text>
<text x="1299.9" y="1194.5" font-size="16.7" fill="#111">-1</text>
<text x="1299.9" y="1233.6" font-size="16.7" fill="#111">-2</text>
<text x="1299.9" y="1272.8" font-size="16.7" fill="#111">-3</text>
<text x="1328.4" y="1020.3" font-size="18" font-weight="bold" fill="#111">Group</text>
<rect x="1328.4" y="1028" width="25.8" height="26" fill="#12d2d6"/>
<rect x="1328.4" y="1054" width="25.8" height="26.9" fill="#f8877c"/>
<text x="1360.9" y="1047.5" font-size="18.4" fill="#111">Mild</text>
<text x="1360.9" y="1075" font-size="18.4" fill="#111">Severe</text>
</svg>
</body></html>
